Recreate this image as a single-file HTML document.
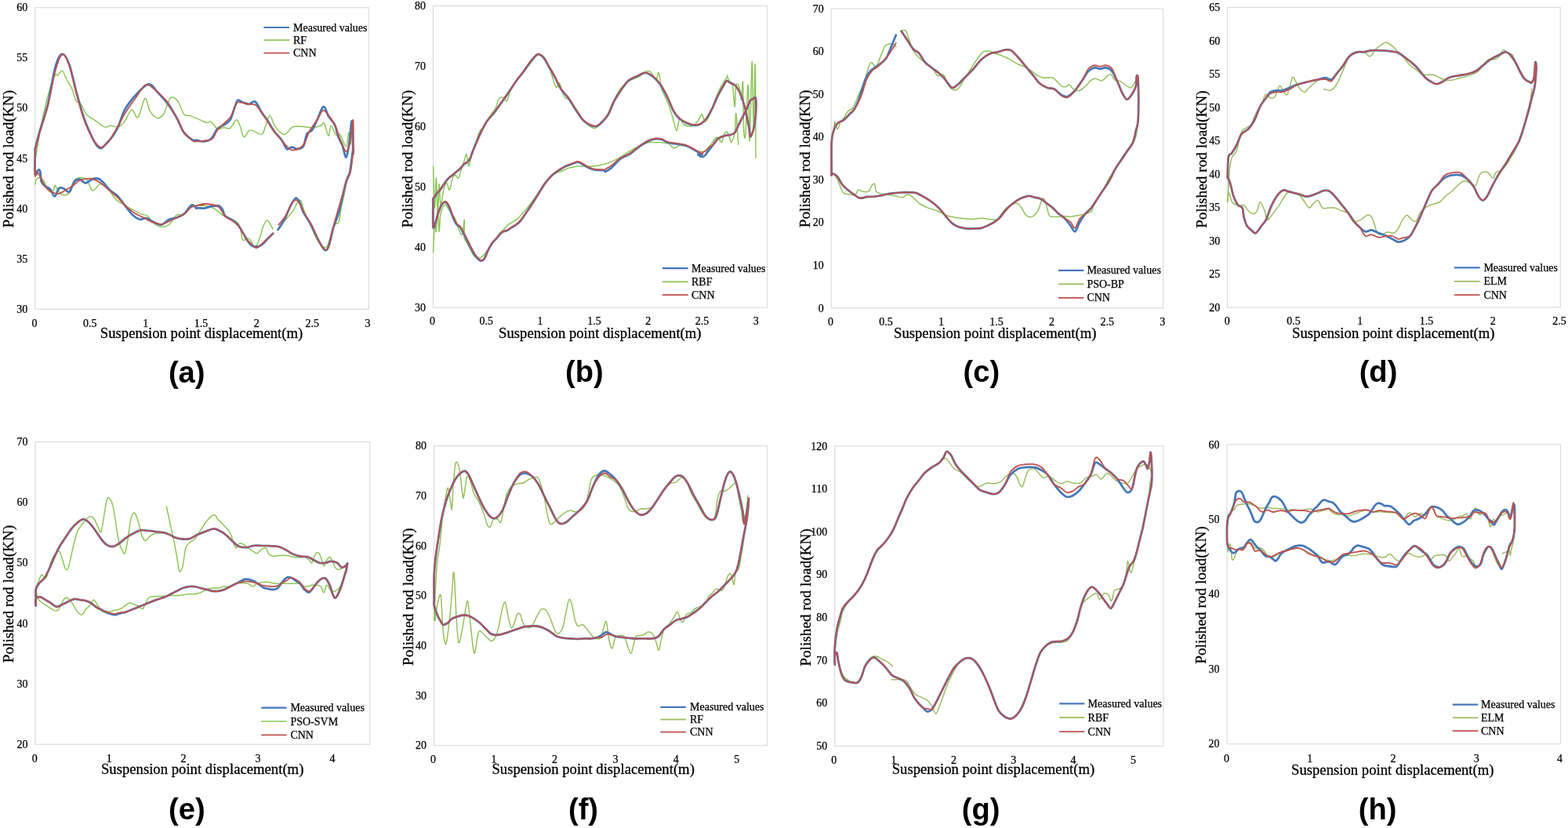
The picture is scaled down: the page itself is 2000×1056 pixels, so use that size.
<!DOCTYPE html>
<html><head><meta charset="utf-8"><title>Dynamometer card comparison</title>
<style>
html,body{margin:0;padding:0;background:#fff;width:2000px;height:1056px;overflow:hidden}
svg{display:block}
.t{font-family:"Liberation Serif","Times New Roman",serif;font-size:14px;fill:#000;stroke:#000;stroke-width:0.25px}
.lg{font-family:"Liberation Serif","Times New Roman",serif;font-size:14px;fill:#000;stroke:#000;stroke-width:0.25px}
.ax{font-family:"Liberation Serif","Times New Roman",serif;font-size:18.7px;fill:#000;stroke:#000;stroke-width:0.3px}
.ay{font-size:19.3px}
.lb{font-family:"Liberation Sans",Arial,sans-serif;font-size:36px;font-weight:bold;fill:#000}
</style></head><body>
<svg width="2000" height="1056" viewBox="0 0 2000 1056">
<rect width="2000" height="1056" fill="#fff"/>
<rect x="44.7" y="9.7" width="425.6" height="384.6" fill="none" stroke="#d9d9d9" stroke-width="1.1"/>
<text class="t" x="35.2" y="398.8" text-anchor="end">30</text>
<text class="t" x="35.2" y="334.7" text-anchor="end">35</text>
<text class="t" x="35.2" y="270.6" text-anchor="end">40</text>
<text class="t" x="35.2" y="206.5" text-anchor="end">45</text>
<text class="t" x="35.2" y="142.4" text-anchor="end">50</text>
<text class="t" x="35.2" y="78.3" text-anchor="end">55</text>
<text class="t" x="35.2" y="14.2" text-anchor="end">60</text>
<text class="t" x="44" y="416.7" text-anchor="middle">0</text>
<text class="t" x="114.8" y="416.7" text-anchor="middle">0.5</text>
<text class="t" x="185.7" y="416.7" text-anchor="middle">1</text>
<text class="t" x="256.5" y="416.7" text-anchor="middle">1.5</text>
<text class="t" x="327.3" y="416.7" text-anchor="middle">2</text>
<text class="t" x="398.2" y="416.7" text-anchor="middle">2.5</text>
<text class="t" x="469" y="416.7" text-anchor="middle">3</text>
<text class="ax" x="127.8" y="430.5">Suspension point displacement(m)</text>
<text class="ax ay" transform="translate(17.2 202.7) rotate(-90)" text-anchor="middle">Polished rod load(KN)</text>
<line x1="336.4" y1="35" x2="369.2" y2="35" stroke="#4678b8" stroke-width="2.2"/>
<text class="lg" x="374" y="39.6">Measured values</text>
<line x1="336.4" y1="51.2" x2="369.2" y2="51.2" stroke="#8cc656" stroke-width="1.7"/>
<text class="lg" x="374" y="55.8">RF</text>
<line x1="336.4" y1="67.6" x2="369.2" y2="67.6" stroke="#bf504c" stroke-width="1.7"/>
<text class="lg" x="374" y="72.2">CNN</text>
<text class="lb" transform="translate(238.2 487.5) scale(1.06 1.1)" text-anchor="middle">(a)</text>
<g fill="none" stroke-linejoin="round" stroke-linecap="round">
<path d="M44.8 204.5C46.4 195.4 51.3 165.3 54.5 149.8C57.7 134.2 61.5 120.1 64.1 111.2C66.8 102.2 69 98.4 70.6 95.9C72.2 93.3 72.3 96.8 73.8 95.9C75.3 94.9 77.6 89.3 79.4 90.2C81.3 91.2 83.1 97.7 85.1 101.5C87.1 105.3 89.5 108.2 91.5 112.8C93.5 117.3 95.3 125.6 97.1 128.9C99 132.1 100.5 129.1 102.8 132.1C105 135 107.9 143.1 110.8 146.6C113.8 150 116.7 150.5 120.5 153C124.2 155.5 129.9 160.6 133.3 161.9C136.8 163.1 138.4 160.2 141.4 160.2C144.3 160.2 148.1 162.8 151 161.9C154 160.9 156.3 158.2 159.1 154.6C161.9 151 165.1 140.9 167.9 140.1C170.8 139.3 173.2 152.2 176 149.8C178.8 147.4 182.3 127 184.8 125.6C187.4 124.3 188.6 137.6 191.3 141.7C194 145.9 198 150 200.9 150.6C203.9 151.1 206.8 148 209 145C211.1 141.9 212.2 135.6 213.8 132.1C215.4 128.6 216.5 124.6 218.6 124C220.8 123.5 224 125.2 226.7 128.9C229.4 132.5 232.3 142.7 234.7 145.8C237.1 148.8 238.6 146.6 241.2 147.4C243.7 148.2 246.4 149.1 250 150.6C253.6 152.1 259.7 155.4 262.9 156.2C266.1 157 266.9 154.1 269.3 155.4C271.7 156.8 274.7 163.1 277.4 164.3C280 165.5 282.7 162.8 285.4 162.7C288.1 162.5 290.8 165.1 293.5 163.5C296.1 161.9 299.4 153.4 301.5 153C303.6 152.6 304.7 157.4 306.3 161C307.9 164.7 309 173.9 311.2 174.7C313.3 175.5 315.4 166.4 319.2 165.9C323 165.3 330.5 172.3 333.7 171.5C336.9 170.7 336.8 165.1 338.5 161C340.3 157 342.3 147.6 344.1 147.4C346 147.1 347.8 156.1 349.8 159.4C351.8 162.8 353.9 165.5 356.2 167.5C358.5 169.5 360.8 172.3 363.5 171.5C366.1 170.7 369.8 164.4 372.3 162.7C374.9 160.9 375.8 161.2 378.7 161C381.7 160.9 386.8 161.6 390 161.9C393.2 162.1 394.8 162.9 398.1 162.7C401.3 162.4 406.8 161.2 409.3 160.2C411.9 159.3 411.7 154.9 413.4 157C415 159.2 417.5 172.6 419 173.1C420.5 173.7 420.6 160.4 422.2 160.2C423.8 160.1 426.8 170.4 428.6 172.3C430.5 174.2 431.3 169.1 433.5 171.5C435.6 173.9 439.6 187.2 441.5 186.8C443.4 186.4 443.8 169.6 444.7 169.1C445.7 168.6 446.5 185.7 447.1 183.6C447.8 181.4 448.5 160.8 448.8 156.2" stroke="#8cc656" stroke-width="1.5"/>
<path d="M443.1 223.8C442.5 227.8 440.4 241 439.1 247.9C437.8 254.9 436.3 259.7 435.1 265.6C433.9 271.5 433.5 279.6 431.9 283.3C430.2 287.1 427.8 283.1 425.4 288.2C423 293.3 420.1 309.9 417.4 313.9C414.7 317.9 411.7 314.2 409.3 312.3C406.9 310.4 405 306.7 402.9 302.7C400.7 298.6 398.9 293.5 396.5 288.2C394 282.8 390.6 275.8 388.4 270.5C386.3 265.1 385.2 257.9 383.6 256C382 254.1 380.4 257.1 378.7 259.2C377.1 261.3 376.3 265.4 373.9 268.9C371.5 272.3 367.4 276.5 364.3 280.1C361.2 283.7 356.9 288.8 355.4 290.6" stroke="#8cc656" stroke-width="1.5"/>
<path d="M348.2 292.2C347 290.3 343.1 281.3 340.9 280.9C338.8 280.5 336.8 286.4 335.3 289.8C333.8 293.1 333.7 296.9 332.1 301C330.5 305.2 328.1 314.2 325.6 314.7C323.2 315.3 320.3 305.7 317.6 304.3C314.9 302.8 311.4 308.3 309.5 305.9C307.7 303.5 307.7 293.7 306.3 289.8C305 285.9 305 285 301.5 282.5C298 280.1 290.2 278.1 285.4 275.3C280.6 272.5 276.3 267.8 272.5 265.6C268.8 263.5 266.6 263 262.9 262.4C259.1 261.9 250.5 262.6 250 262.4C249.5 262.3 260.9 261.3 260 261.6C259.1 261.9 248.6 262 244.4 264C240.2 266 237.7 272.1 234.7 273.7C231.8 275.3 228.8 273 226.7 273.7C224.5 274.4 223.5 275.8 221.9 277.7C220.2 279.6 218.9 283.1 217 285C215.2 286.8 213 288.4 210.6 289C208.2 289.6 205.2 289.4 202.5 288.5C199.9 287.6 196.9 285.5 194.5 283.3C192.1 281.1 190.5 277 188.1 275.3C185.6 273.6 183.2 274.2 180 272.9C176.8 271.5 172.5 269.3 168.7 267.2C165 265.2 161 263 157.5 260.8C154 258.7 150.8 257.3 147.8 254.4C144.9 251.4 142.2 246.1 139.8 243.1C137.4 240.2 135.5 238 133.3 236.7C131.2 235.3 129.5 234 126.9 235.1C124.4 236.1 120.7 244 118.1 243.1C115.4 242.2 113.4 232.2 110.8 229.4C108.3 226.7 105.4 226.6 102.8 226.7C100.1 226.8 96.9 227.2 94.7 230.2C92.6 233.2 91.8 241.6 89.9 244.7C88 247.8 85.3 248.2 83.5 248.7C81.6 249.3 80.5 249.4 78.6 247.9C76.7 246.5 73.7 241.8 72.2 239.9C70.7 238 70.6 235.9 69.8 236.7C69 237.5 68.8 243.8 67.4 244.7C65.9 245.7 62.8 244.6 60.9 242.3C59 240 57.7 233.6 56.1 231C54.5 228.5 52.9 227.4 51.3 227C49.7 226.6 47.5 227.3 46.4 228.6C45.4 230 45.1 234 44.8 235.1" stroke="#8cc656" stroke-width="1.5"/>
<path d="M44.8 190C45.6 186.8 47 180.1 49.7 170.7C52.3 161.3 57.4 147.9 60.9 133.7C64.4 119.5 67.5 96.2 70.6 85.4C73.7 74.6 76.5 69.5 79.4 69C82.4 68.5 85.2 73.8 88.3 82.2C91.4 90.6 94.5 106.9 97.9 119.2C101.4 131.5 104.6 144.8 109.2 156.2C113.8 167.6 120.7 183.3 125.3 187.6C129.9 191.9 132.5 185.9 136.6 182C140.6 178.1 145.7 171.2 149.4 164.3C153.2 157.3 155.1 147.4 159.1 140.1C163.1 132.9 168.5 126.3 173.6 120.8C178.7 115.3 185.1 107.7 189.7 107.1C194.2 106.6 196.9 113.4 200.9 117.6C205 121.8 209.8 126.7 213.8 132.1C217.8 137.4 221.6 143.6 225.1 149.8C228.6 156 231.2 164.3 234.7 169.1C238.2 173.9 243.5 177.1 246 178.7C248.5 180.4 247.7 178.5 250 178.7C252.3 179 256.4 180.6 259.7 180.4C262.9 180.1 266.4 179.8 269.3 177.1C272.3 174.5 274.7 167.2 277.4 164.3C280 161.3 282.7 161.3 285.4 159.4C288.1 157.6 291.3 156.2 293.5 153C295.6 149.8 296.7 144.3 298.3 140.1C299.9 136 301.2 129.7 303.1 128.1C305 126.4 307.1 129.7 309.5 130.5C312 131.3 314.9 133 317.6 132.9C320.3 132.7 323 127.9 325.6 129.7C328.3 131.4 331 139.2 333.7 143.3C336.4 147.5 339.1 150.6 341.7 154.6C344.4 158.6 346.8 163.5 349.8 167.5C352.7 171.5 356.8 175 359.4 178.7C362.1 182.5 363.7 188.5 365.9 190C368 191.5 370.2 187.6 372.3 187.6C374.5 187.6 376.3 190.1 378.7 190C381.2 189.9 384.7 190 386.8 186.8C388.9 183.6 389.7 174.2 391.6 170.7C393.5 167.2 395.9 168.8 398.1 165.9C400.2 162.9 402.1 158 404.5 153C406.9 148 410.1 136.9 412.5 136.1C415 135.3 416.6 144.3 419 148.2C421.4 152.1 424.9 154.9 427 159.4C429.2 164 430.2 171.2 431.9 175.5C433.5 179.8 435.1 181 436.7 185.2C438.3 189.3 440 201 441.5 200.5C443 199.9 444.3 189.6 445.5 182C446.7 174.3 448 152.5 448.8 154.6C449.6 156.8 450.1 188.9 450.4 194.8C450.6 200.7 451 186 450.4 190C449.7 194 447.8 212 446.3 219C444.9 225.9 443.1 226.5 441.5 231.8C439.9 237.2 438.3 244.5 436.7 251.2C435.1 257.9 433.7 265.6 431.9 272.1C430 278.5 427.6 282.7 425.4 289.8C423.3 296.9 420.9 309.9 419 314.7C417.1 319.6 416 319.7 414.2 318.7C412.3 317.8 409.9 312.8 407.7 309.1C405.6 305.3 403.4 300.5 401.3 296.2C399.1 291.9 397.3 287.6 394.8 283.3C392.4 279.1 388.9 274.8 386.8 270.5C384.7 266.2 383.6 260.5 382 257.6C380.4 254.6 379 252 377.1 252.8C375.3 253.6 373.1 257.9 370.7 262.4C368.3 267 365.3 275 362.7 280.1C360 285.2 356 290.9 354.6 293" stroke="#4678b8" stroke-width="2.8"/>
<path d="M348.2 297.8C347.1 298.9 344.1 301.9 341.7 304.3C339.3 306.7 336.1 310.6 333.7 312.3C331.3 314.1 329.4 314.6 327.2 314.7C325.1 314.9 322.7 314.3 320.8 313.1C318.9 311.9 317.9 310.3 316 307.5C314.1 304.7 311.7 299.7 309.5 296.2C307.4 292.7 305.5 289.2 303.1 286.6C300.7 283.9 297.7 282 295.1 280.1C292.4 278.2 288.9 277.4 287 275.3C285.1 273.2 285.1 269.4 283.8 267.2C282.5 265.1 281.4 263.1 279 262.4C276.6 261.8 272.5 262.7 269.3 263.2C266.1 263.8 262.9 265.4 259.7 265.6C256.4 265.9 251.5 264.8 250 264.8C248.5 264.8 251.8 266.2 250.8 265.6C249.9 265.1 247.1 260.4 244.4 261.6C241.7 262.8 238 270.2 234.7 272.9C231.5 275.6 228.3 276.5 225.1 277.7C221.9 278.9 218.6 278.6 215.4 280.1C212.2 281.6 209.3 286.2 205.8 286.6C202.3 287 197.7 283.9 194.5 282.5C191.3 281.1 189.1 278.6 186.5 278.2C183.8 277.7 181.4 280.6 178.4 279.8C175.5 279.1 172 276.7 168.7 273.7C165.5 270.7 162.3 265.6 159.1 261.6C155.9 257.6 152.7 252.8 149.4 249.5C146.2 246.3 142.7 245.1 139.8 242.3C136.8 239.5 134.1 235.1 131.7 232.6C129.3 230.2 127.7 228.5 125.3 227.8C122.9 227.1 119.9 227.7 117.2 228.6C114.6 229.6 111.9 233.5 109.2 233.5C106.5 233.5 103.6 228.9 101.2 228.6C98.7 228.4 96.9 229.2 94.7 231.8C92.6 234.5 90.4 243.2 88.3 244.7C86.1 246.2 84 241.5 81.8 240.7C79.7 239.9 77.4 238.3 75.4 239.9C73.4 241.5 71.7 250.1 69.8 250.4C67.9 250.6 66.2 243.6 64.1 241.5C62.1 239.4 59.6 239.1 57.7 237.5C55.8 235.9 53.9 234.9 52.9 231.8C51.8 228.8 51.9 221.5 51.3 219C50.6 216.4 49.9 216 48.9 216.6C47.8 217.1 45.5 226.6 44.8 222.2C44.2 217.8 44.8 195.4 44.8 190" stroke="#4678b8" stroke-width="2.8"/>
<path d="M44.8 191.6C45.6 188.4 47 181.7 49.7 172.3C52.3 162.9 57.4 149 60.9 135.3C64.4 121.6 67.5 101.2 70.6 90.2C73.7 79.2 76.5 70.4 79.4 69.3C82.4 68.2 85.2 75.2 88.3 83.8C91.4 92.4 94.5 108.5 97.9 120.8C101.4 133.2 104.6 147 109.2 157.8C113.8 168.7 120.7 181.8 125.3 186C129.9 190.1 132.5 186.7 136.6 182.8C140.6 178.9 145.7 169 149.4 162.7C153.2 156.4 155.1 151.4 159.1 145C163.1 138.5 169 130.2 173.6 124C178.1 117.9 181.9 109 186.5 107.9C191 106.9 196.4 113.8 200.9 117.6C205.5 121.3 209.8 125.1 213.8 130.5C217.8 135.8 221.6 143.3 225.1 149.8C228.6 156.2 231.2 164.1 234.7 169.1C238.2 174.1 243.5 177.7 246 179.6C248.5 181.4 247.7 180.4 250 180.4C252.3 180.4 256.2 180.1 259.7 179.6C263.1 179 268 179.4 270.9 177.1C273.9 174.9 273.6 170.4 277.4 165.9C281.1 161.3 290 154.1 293.5 149.8C296.9 145.5 296.7 143.3 298.3 140.1C299.9 136.9 299.9 131.7 303.1 130.5C306.3 129.3 313.8 132.3 317.6 132.9C321.3 133.4 323 131.9 325.6 133.7C328.3 135.4 329.7 137.7 333.7 143.3C337.7 149 345.5 161.6 349.8 167.5C354.1 173.4 356.8 175.5 359.4 178.7C362.1 182 363.5 184.7 365.9 186.8C368.3 188.9 370.4 191.9 373.9 191.6C377.4 191.4 383.3 189.2 386.8 185.2C390.3 181.2 391.9 172.8 394.8 167.5C397.8 162.1 401.5 157.4 404.5 153C407.5 148.6 409.6 141.2 412.5 140.9C415.5 140.7 419.5 147.8 422.2 151.4C424.9 155 426.8 158.4 428.6 162.7C430.5 166.9 431.3 172 433.5 177.1C435.6 182.2 439.4 192.4 441.5 193.2C443.7 194 444.9 188.7 446.3 182C447.8 175.3 449.6 151.4 450.4 153C451.1 154.6 450.8 184.9 450.8 191.6C450.8 198.3 451 188.7 450.4 193.2C449.8 197.8 448.5 212.8 447.1 219C445.8 225.1 444.1 225.1 442.3 230.2C440.6 235.3 438.4 243.6 436.7 249.5C434.9 255.4 433.7 259.2 431.9 265.6C430 272.1 427.6 280 425.4 288.2C423.3 296.4 421.1 309.9 419 314.7C416.8 319.6 415 319.2 412.5 317.1C410.1 315.1 406.9 307.5 404.5 302.7C402.1 297.8 400.7 293.3 398.1 288.2C395.4 283.1 391.1 276.9 388.4 272.1C385.7 267.2 383.8 262 382 259.2C380.1 256.4 378.7 255.2 377.1 255.2C375.5 255.2 374.5 255.9 372.3 259.2C370.2 262.6 367.1 270.7 364.3 275.3C361.4 279.9 356.9 284.7 355.4 286.6" stroke="#bf504c" stroke-width="1.8"/>
<path d="M348.2 297.8C346.3 299.6 340.4 305.2 336.9 308.3C333.4 311.4 330.2 316.1 327.2 316.3C324.3 316.6 321.6 312.2 319.2 309.9C316.8 307.6 315.4 306.5 312.8 302.7C310.1 298.8 307.4 291.1 303.1 286.6C298.8 282 291 279.1 287 275.3C283 271.5 283 266.6 279 264C274.9 261.5 267.7 260.3 262.9 260C258 259.7 250.5 262.3 250 262.4C249.5 262.6 260.9 260.5 260 260.8C259.1 261.1 248.3 262.2 244.4 264C240.4 265.9 239 270.1 236.3 272.1C233.7 274.1 231.5 274.5 228.3 276.1C225.1 277.7 220.8 280.1 217 281.7C213.3 283.4 209.5 285.8 205.8 286.1C202 286.3 198 284.6 194.5 283.3C191 282.1 188.6 280.4 184.8 278.5C181.1 276.6 176 274.6 172 272.1C167.9 269.5 164.2 266.4 160.7 263.2C157.2 260 154.5 256.1 151 252.8C147.6 249.4 143.5 246.3 139.8 243.1C136 239.9 132 235.9 128.5 233.5C125 231 121.8 229.2 118.9 228.3C115.9 227.4 113.8 227.5 110.8 227.8C107.9 228.1 104.1 228.8 101.2 230.2C98.2 231.7 95.8 234.8 93.1 236.7C90.4 238.5 88.3 239.8 85.1 241.5C81.8 243.2 78.1 247.4 73.8 247.1C69.5 246.9 63.1 243.5 59.3 239.9C55.6 236.3 53.4 229 51.3 225.4C49.1 221.8 47.5 218.4 46.4 218.2C45.4 217.9 45.1 228.5 44.8 223.8C44.6 219.1 44.8 195.6 44.8 190" stroke="#bf504c" stroke-width="1.8"/>
</g>
<rect x="552.5" y="7.5" width="426.2" height="384.7" fill="none" stroke="#d9d9d9" stroke-width="1.1"/>
<text class="t" x="543" y="396.7" text-anchor="end">30</text>
<text class="t" x="543" y="319.8" text-anchor="end">40</text>
<text class="t" x="543" y="242.8" text-anchor="end">50</text>
<text class="t" x="543" y="165.9" text-anchor="end">60</text>
<text class="t" x="543" y="88.9" text-anchor="end">70</text>
<text class="t" x="543" y="12" text-anchor="end">80</text>
<text class="t" x="551.5" y="414.2" text-anchor="middle">0</text>
<text class="t" x="620.3" y="414.2" text-anchor="middle">0.5</text>
<text class="t" x="689.1" y="414.2" text-anchor="middle">1</text>
<text class="t" x="757.9" y="414.2" text-anchor="middle">1.5</text>
<text class="t" x="826.7" y="414.2" text-anchor="middle">2</text>
<text class="t" x="895.5" y="414.2" text-anchor="middle">2.5</text>
<text class="t" x="964.3" y="414.2" text-anchor="middle">3</text>
<text class="ax" x="636.1" y="430.6">Suspension point displacement(m)</text>
<text class="ax ay" transform="translate(525.9 202.7) rotate(-90)" text-anchor="middle">Polished rod load(KN)</text>
<line x1="844.8" y1="342.2" x2="877.6" y2="342.2" stroke="#4678b8" stroke-width="2.2"/>
<text class="lg" x="882" y="346.8">Measured values</text>
<line x1="844.8" y1="359.4" x2="877.6" y2="359.4" stroke="#8cc656" stroke-width="1.7"/>
<text class="lg" x="882" y="364">RBF</text>
<line x1="844.8" y1="376.2" x2="877.6" y2="376.2" stroke="#bf504c" stroke-width="1.7"/>
<text class="lg" x="882" y="380.8">CNN</text>
<text class="lb" transform="translate(745.4 487) scale(1.06 1.1)" text-anchor="middle">(b)</text>
<g fill="none" stroke-linejoin="round" stroke-linecap="round">
<path d="M552.6 212C552.9 220.9 553.8 262.5 554.5 265.1C555.1 267.6 555.7 225.9 556.4 227.2C557 228.4 557.6 271.4 558.3 272.6C558.9 273.9 559.5 236.7 560.1 234.8C560.8 232.9 561.1 260 562 261.3C563 262.5 564.6 247.1 565.8 242.3C567.1 237.6 568.3 232.9 569.6 232.9C570.9 232.9 572.1 243.3 573.4 242.3C574.7 241.4 575.9 230.3 577.2 227.2C578.4 224 579.7 223.4 581 223.4C582.2 223.4 583.5 228.4 584.8 227.2C586 225.9 587.3 219.6 588.5 215.8C589.8 212 591.3 207.6 592.3 204.5C593.4 201.3 594 195.6 595 196.9C595.9 198.2 596.9 212 598 212C599.1 212 600.2 202.3 601.8 196.9C603.4 191.5 605.7 184.9 607.5 179.9C609.2 174.8 610.8 169.4 612.4 166.6C614 163.8 615.6 164.7 616.9 162.8C618.3 160.9 619.2 158.1 620.7 155.2C622.3 152.4 624.5 148.6 626.4 145.8C628.3 142.9 630.5 141.4 632.1 138.2C633.7 135 634.3 129.2 635.9 126.8C637.5 124.5 639.8 123.9 641.6 124.2C643.3 124.5 644.9 130.2 646.5 128.7C648.1 127.3 649 119.8 651 115.5C653 111.2 655.8 107 658.6 103C661.4 99 664.9 95.5 668.1 91.6C671.2 87.7 674.6 83.1 677.5 79.5C680.5 75.9 683.2 71.3 685.9 70C688.5 68.8 691 69.4 693.4 71.9C695.8 74.5 698.2 80.1 700.2 85.2C702.3 90.2 704.3 97.8 705.9 102.2C707.5 106.7 708.4 111.1 709.7 111.7C711 112.3 712.2 105.1 713.5 106C714.8 107 716 114.2 717.3 117.4C718.5 120.5 719.5 123.4 721.1 125C722.6 126.5 724.5 124.6 726.7 126.8C729 129.1 731.8 134.4 734.3 138.2C736.8 142 739.4 146.1 741.9 149.6C744.4 153 746.6 156.7 749.5 159C752.3 161.4 756.1 163.9 758.9 163.6C761.8 163.3 764 159.8 766.5 157.1C769 154.5 771.6 152.1 774.1 147.7C776.6 143.3 778.8 136.3 781.7 130.6C784.5 125 787.6 118.2 791.1 113.6C794.6 109 798.7 105.5 802.5 103C806.3 100.5 810.1 100.5 813.8 98.4C817.6 96.4 822.4 91.8 825.2 90.9C828 89.9 829 90.9 830.9 92.8C832.8 94.7 835 102.2 836.6 102.2C838.1 102.2 839.1 90.9 840.3 92.8C841.6 94.7 842.2 107.3 844.1 113.6C846 119.9 849.5 125 851.7 130.6C853.9 136.3 855.5 141.7 857.4 147.7C859.3 153.7 861.5 166 863.1 166.6C864.6 167.2 865.3 152.7 866.8 151.5C868.4 150.2 870 157.5 872.5 159C875.1 160.6 879.2 161.6 882 160.9C884.8 160.3 887.4 157.8 889.6 155.2C891.8 152.7 893.7 145.8 895.2 145.8C896.8 145.8 897.5 154.9 899 155.2C900.6 155.6 902.5 152.4 904.7 147.7C906.9 142.9 909.8 133.2 912.3 126.8C914.8 120.5 917.3 114.5 919.9 109.8C922.4 105.1 926.2 100.7 927.4 98.4C928.7 96.2 927 95.7 927.4 96.4C927.8 97 928.6 100.4 929.7 102.4C930.8 104.4 933.2 104.9 934.2 108.5C935.3 112 935.3 119.1 935.8 123.6C936.3 128.2 936.8 138 937.3 135.8C937.8 133.5 938 114.5 938.8 110C939.5 105.5 940.9 107.2 941.8 108.5C942.7 109.7 943.5 114.5 944.1 117.6C944.7 120.6 945 128.8 945.6 126.7C946.2 124.5 947.1 98.4 947.6 104.7C948.1 111 948.1 153.4 948.6 164.5C949.2 175.7 950 180.7 950.9 171.4C951.8 162 953.4 107.1 954.2 108.5C955.1 109.9 955.4 184.6 956.2 179.7C957 174.8 958.4 81.7 959.2 78.9C960.1 76.2 960.5 162.5 961.2 163C961.9 163.5 962.9 75.7 963.3 82C963.8 88.3 963.8 181.1 963.9 200.9" stroke="#8cc656" stroke-width="1.5"/>
<path d="M941.8 184.2C941.3 177.7 939.5 147.4 938.8 144.8C938 142.3 938.3 163 937.3 169.1C936.3 175.2 934 180.7 932.7 181.2C931.5 181.7 931 174.3 929.7 172.1C928.4 170 926.7 166.8 925.2 168.3C923.6 169.8 922 179.8 920.6 181.2C919.2 182.6 918 177.7 916.8 176.7C915.7 175.7 914.9 174.6 913.8 175.2C912.7 175.7 911.1 178.2 910 179.7C908.9 181.2 907.7 183.2 907 184.2C906.2 185.3 906.3 184.7 905.5 185.8C904.6 186.8 902.9 189 901.7 190.3C900.4 191.6 899.8 192.8 897.9 193.3C896 193.8 890.7 192.7 890.3 193.3C889.9 193.9 897.3 197.9 895.2 196.9C893.2 195.9 882.9 189.3 878.2 187.4C873.5 185.5 870 185.2 866.8 185.5C863.7 185.9 861.5 189.6 859.3 189.3C857.1 189 856.1 184.9 853.6 183.6C851.1 182.4 847 182.1 844.1 181.7C841.3 181.4 839.4 181.7 836.6 181.7C833.7 181.7 830.2 181.1 827.1 181.7C823.9 182.4 821.7 183.6 817.6 185.5C813.5 187.4 806.9 190.6 802.5 193.1C798.1 195.6 794.9 198.5 791.1 200.7C787.3 202.9 783.5 204.8 779.8 206.4C776 207.9 772.2 209.2 768.4 210.1C764.6 211.1 760.8 211.7 757 212C753.3 212.4 748.8 212 745.7 212C742.5 212 741.3 211.7 738.1 212C735 212.4 730.2 213 726.7 213.9C723.3 214.9 720.4 216.5 717.3 217.7C714.1 219 710.7 219.9 707.8 221.5C705 223.1 702.8 224.7 700.2 227.2C697.7 229.7 695.2 233.2 692.7 236.7C690.1 240.1 687.9 243.9 685.1 248C682.3 252.1 678.8 257.2 675.6 261.3C672.5 265.4 669 269.5 666.2 272.6C663.3 275.8 661.4 278 658.6 280.2C655.8 282.4 651.7 284 649.1 285.9C646.6 287.8 645.7 289.3 643.4 291.6C641.2 293.8 638.4 296 635.9 299.1C633.4 302.3 630.5 307.3 628.3 310.5C626.1 313.6 624.5 315.5 622.6 318.1C620.7 320.6 618.8 323.7 616.9 325.6C615 327.5 613.2 329.1 611.3 329.4C609.4 329.7 607.2 328.8 605.6 327.5C604 326.3 603.4 324.7 601.8 321.8C600.2 319 597.7 313.6 596.1 310.5C594.5 307.3 593 308 592.3 302.9C591.7 297.9 592.8 280.8 592.3 280.2C591.9 279.6 590.9 297.2 589.7 299.1C588.4 301 586.2 294.7 584.8 291.6C583.3 288.4 581.9 282.7 581 280.2C580 277.7 580.3 278.3 579.1 276.4C577.8 274.5 575.3 271.4 573.4 268.8C571.5 266.3 569.6 260.6 567.7 261.3C565.8 261.9 563.3 266.9 562 272.6C560.8 278.3 560.8 296.6 560.1 295.3C559.5 294.1 558.9 265.1 558.3 265.1C557.6 265.1 557 292.2 556.4 295.3C555.7 298.5 555.1 279.6 554.5 284C553.8 288.4 552.9 315.5 552.6 321.8" stroke="#8cc656" stroke-width="1.5"/>
<path d="M552.4 260.1C552.4 259.1 552 255.3 552.4 253.7C552.8 252.1 553.9 251.8 554.8 250.5C555.8 249.1 557 247 558 245.6C559.1 244.3 560.2 243.8 561.3 242.4C562.3 241.1 563.4 239.2 564.5 237.6C565.6 236 566.4 234.5 567.7 232.8C569 231 570.9 228.7 572.5 227.1C574.1 225.5 575.7 224.5 577.4 223.1C579 221.8 580.6 220.4 582.2 219.1C583.8 217.7 585.4 216.7 587 215.1C588.6 213.5 590.2 210.9 591.8 209.4C593.5 208 595.3 207.6 596.7 206.2C598 204.9 598.8 203.7 599.9 201.4C601 199.1 601.8 195.9 603.1 192.5C604.5 189.2 606.3 185 607.9 181.3C609.5 177.5 610.6 174.3 612.8 170C614.9 165.7 617.8 159.6 620.7 155.2C623.6 150.9 627 148 630.2 143.9C633.4 139.8 636.5 135 639.7 130.6C642.8 126.2 646 122 649.1 117.4C652.3 112.8 655.4 107.4 658.6 103C661.7 98.6 664.9 95.1 668.1 90.9C671.2 86.6 674.6 81.2 677.5 77.6C680.5 74 683.2 69.9 685.9 69.3C688.5 68.7 691 71.2 693.4 73.8C695.8 76.5 697.8 81.1 700.2 85.2C702.6 89.3 705.3 93.7 707.8 98.4C710.3 103.2 712.6 109.2 715.4 113.6C718.2 118 721.7 120.5 724.9 125C728 129.4 731.2 135.4 734.3 140.1C737.5 144.8 740.6 150.1 743.8 153.4C746.9 156.6 750.4 158.5 753.3 159.8C756.1 161.1 758.3 161.7 760.8 160.9C763.4 160.2 765.9 157.8 768.4 155.2C770.9 152.7 773.4 150.2 776 145.8C778.5 141.4 780.7 134.1 783.5 128.7C786.4 123.4 789.9 118 793 113.6C796.2 109.2 799 105.1 802.5 102.2C805.9 99.4 810.4 98.1 813.8 96.6C817.3 95 820.1 92.6 823.3 92.8C826.5 93 829.6 95.2 832.8 97.7C835.9 100.2 839.1 103.4 842.2 107.9C845.4 112.5 848.9 119.3 851.7 125C854.5 130.6 856.8 137.6 859.3 142C861.8 146.4 864 148.9 866.8 151.5C869.7 154 873.2 155.7 876.3 157.1C879.5 158.5 882.9 159.6 885.8 159.8C888.6 160 890.8 159.7 893.4 158.3C895.9 156.9 898.4 154.8 900.9 151.5C903.5 148.1 906 143.3 908.5 138.2C911 133.2 913.5 126.2 916.1 121.2C918.6 116.1 921.9 110.9 923.6 107.9C925.4 104.9 925.4 103.6 926.7 103.2C927.9 102.8 929.4 104.6 931.2 105.5C933 106.3 935.5 107 937.3 108.5C939 110 940.6 112.5 941.8 114.5C943.1 116.6 943.8 118.1 944.8 120.6C945.9 123.1 946.9 126.4 947.9 129.7C948.9 133 950 136.5 950.9 140.3C951.8 144.1 952.4 148.6 953.2 152.4C953.9 156.2 954.8 159.4 955.5 163C956.1 166.7 956.1 173.9 957 174.4C957.9 174.9 959.7 169.5 960.8 166.1C961.8 162.7 962.4 158 963 153.9C963.6 149.9 964.1 146.6 964.2 141.8C964.4 137 964.5 127.7 963.8 125.2C963.1 122.6 961.1 125.9 960 126.4C958.9 126.9 958.2 126.1 957 128.2C955.7 130.3 953.9 135.5 952.4 138.8C950.9 142.1 949.6 144.3 947.9 147.9C946.1 151.4 943.6 156.5 941.8 160C940.1 163.5 939 167.1 937.3 169.1C935.5 171.1 933.2 171.5 931.2 172.1C929.2 172.8 927.7 172.1 925.2 172.9C922.6 173.6 918.6 174.8 916.1 176.7C913.5 178.6 912 181.7 910 184.2C908 186.8 905.7 189.5 903.9 191.8C902.2 194.1 900.8 196.5 899.4 197.9C898 199.3 897.1 200.3 895.6 200.2C894.1 200 890.4 197.7 890.3 197.1C890.2 196.6 896 197.9 895.2 196.9C894.5 195.9 889.3 193.1 885.8 191.2C882.3 189.3 878.2 186.8 874.4 185.5C870.6 184.3 866.8 184.3 863.1 183.6C859.3 183 854.9 182.7 851.7 181.7C848.5 180.8 846.7 178.7 844.1 178C841.6 177.2 839.4 176.9 836.6 177.2C833.7 177.5 830.2 178.5 827.1 179.9C823.9 181.2 820.5 183.6 817.6 185.5C814.8 187.4 812.6 189.3 810.1 191.2C807.5 193.1 805.6 195 802.5 196.9C799.3 198.8 794.9 199.7 791.1 202.6C787.3 205.5 782.9 211.6 779.8 214.3C776.6 217 773.8 218.4 772.2 218.9C770.6 219.3 772.2 217.5 770 217.2C767.8 216.8 762.4 217.2 759.2 216.7C756.1 216.2 753.9 215.5 751.2 214.3C748.5 213.1 745.5 210.7 743.1 209.4C740.7 208.2 739.1 206.7 736.7 206.7C734.3 206.7 731.3 208.4 728.6 209.4C726 210.4 723.5 211.2 720.6 212.6C717.6 214.1 713.9 216.3 710.9 218.3C708 220.3 705.6 222 702.9 224.7C700.2 227.4 697.5 230.6 694.8 234.4C692.2 238.1 689.5 243 686.8 247.2C684.1 251.5 681.2 256.4 678.7 260.1C676.3 263.9 674.7 266.3 672.3 269.8C669.9 273.3 666.4 278.4 664.3 281C662.1 283.7 661.3 284.4 659.4 285.9C657.6 287.4 655.1 288.6 653 289.9C650.9 291.2 648.7 292.8 646.6 293.9C644.4 295 642.3 294.7 640.1 296.3C638 297.9 635.8 301.2 633.7 303.6C631.5 306 629.1 308.1 627.2 310.8C625.4 313.5 624 316.5 622.4 319.7C620.8 322.9 619.2 328 617.6 330.1C616 332.3 614.6 333.2 612.8 332.5C610.9 331.9 608.2 328.5 606.3 326.1C604.5 323.7 603.1 321 601.5 318.1C599.9 315.1 598.3 311.6 596.7 308.4C595.1 305.2 593.5 301.8 591.8 298.7C590.2 295.7 588.6 292 587 289.9C585.4 287.8 583.8 288.2 582.2 285.9C580.6 283.6 578.8 279.7 577.4 276.2C575.9 272.7 574.7 267.9 573.3 265C572 262 570.5 259.6 569.3 258.5C568.1 257.4 567.3 257.4 566.1 258.2C564.9 259 563.4 260.6 562.1 263.3C560.7 266.1 559.3 270.9 558 274.6C556.8 278.4 555.8 283.5 554.8 285.9C553.9 288.3 552.8 293.4 552.4 289.1C552 284.8 552.4 265 552.4 260.1" stroke="#4678b8" stroke-width="2.8"/>
<path d="M552.7 259.6C552.7 258.6 552.3 254.8 552.7 253.2C553.1 251.6 554.2 251.3 555.1 250C556.1 248.6 557.3 246.5 558.4 245.2C559.4 243.8 560.5 243.3 561.6 241.9C562.7 240.6 563.7 238.7 564.8 237.1C565.9 235.5 566.7 234 568 232.3C569.4 230.5 571.2 228.3 572.9 226.6C574.5 225 576.1 224 577.7 222.6C579.3 221.3 580.9 219.9 582.5 218.6C584.1 217.3 585.7 216.2 587.3 214.6C588.9 213 590.6 210.4 592.2 208.9C593.8 207.5 595.7 207.1 597 205.7C598.3 204.4 599.1 203.2 600.2 200.9C601.3 198.6 602.1 195.4 603.4 192C604.8 188.7 606.6 184.5 608.3 180.8C609.9 177 611 173.8 613.1 169.5C615.2 165.2 618 159.2 620.9 154.9C623.8 150.5 627.2 147.6 630.4 143.5C633.5 139.4 636.7 134.7 639.9 130.3C643 125.8 646.2 121.6 649.3 117C652.5 112.4 655.6 107 658.8 102.6C661.9 98.2 665.1 94.7 668.2 90.5C671.4 86.3 674.7 80.8 677.7 77.2C680.7 73.6 683.4 69.5 686 68.9C688.7 68.3 691.2 70.8 693.6 73.5C696 76.1 698 80.7 700.4 84.8C702.8 88.9 705.5 93.3 708 98.1C710.5 102.8 712.7 108.8 715.6 113.2C718.4 117.6 721.9 120.2 725 124.6C728.2 129 731.4 135 734.5 139.7C737.7 144.5 740.8 149.7 744 153C747.1 156.3 750.6 158.1 753.4 159.4C756.3 160.7 758.5 161.3 761 160.5C763.5 159.8 766.1 157.4 768.6 154.9C771.1 152.3 773.6 149.8 776.2 145.4C778.7 141 780.9 133.7 783.7 128.4C786.6 123 790 117.6 793.2 113.2C796.4 108.8 799.2 104.7 802.7 101.9C806.1 99 810.6 97.8 814 96.2C817.5 94.6 820.3 92.2 823.5 92.4C826.6 92.6 829.8 94.8 833 97.3C836.1 99.8 839.3 103 842.4 107.5C845.6 112.1 849.1 118.9 851.9 124.6C854.7 130.3 856.9 137.2 859.5 141.6C862 146 864.2 148.6 867 151.1C869.9 153.6 873.3 155.4 876.5 156.8C879.7 158.1 883.1 159.2 886 159.4C888.8 159.6 891 159.3 893.5 157.9C896.1 156.5 898.6 154.4 901.1 151.1C903.6 147.7 906.2 142.9 908.7 137.8C911.2 132.8 913.7 125.8 916.3 120.8C918.8 115.7 922.1 110.5 923.8 107.5C925.6 104.6 925.4 103.5 926.7 103.2C927.9 102.8 929.4 104.6 931.2 105.5C933 106.3 935.5 107 937.3 108.5C939 110 940.6 112.5 941.8 114.5C943.1 116.6 943.8 118.1 944.8 120.6C945.9 123.1 946.9 126.4 947.9 129.7C948.9 133 950 136.5 950.9 140.3C951.8 144.1 952.4 148.6 953.2 152.4C953.9 156.2 954.8 159.4 955.5 163C956.1 166.7 956.1 173.9 957 174.4C957.9 174.9 959.7 169.5 960.8 166.1C961.8 162.7 962.4 158 963 153.9C963.6 149.9 964.1 146.6 964.2 141.8C964.4 137 964.5 127.7 963.8 125.2C963.1 122.6 961.1 125.9 960 126.4C958.9 126.9 958.2 126.1 957 128.2C955.7 130.3 953.9 135.5 952.4 138.8C950.9 142.1 949.6 144.3 947.9 147.9C946.1 151.4 943.6 156.5 941.8 160C940.1 163.5 939 167.1 937.3 169.1C935.5 171.1 933.2 171.5 931.2 172.1C929.2 172.8 927.7 172.1 925.2 172.9C922.6 173.6 918.6 174.8 916.1 176.7C913.5 178.6 911.8 182.5 910 184.2C908.2 186 907 186 905.5 187.3C903.9 188.5 902.4 190.6 900.9 191.8C899.4 193.1 897.3 194.1 896.4 194.8C895.4 195.6 897 196.9 895.2 196.1C893.5 195.4 889.3 192.4 885.8 190.5C882.3 188.6 878.2 186 874.4 184.8C870.6 183.5 866.8 183.5 863.1 182.9C859.3 182.3 854.9 181.9 851.7 181C848.5 180 846.7 178 844.1 177.2C841.6 176.4 839.4 176.1 836.6 176.4C833.7 176.8 830.2 177.7 827.1 179.1C823.9 180.5 820.5 182.9 817.6 184.8C814.8 186.7 812.6 188.6 810.1 190.5C807.5 192.4 805.6 194.2 802.5 196.1C799.3 198 794.9 199.3 791.1 201.8C787.3 204.3 782.9 208.9 779.8 211.3C776.6 213.6 773.7 215 772.2 215.8C770.6 216.7 772.6 216.5 770.5 216.5C768.4 216.5 762.8 216.5 759.7 216C756.6 215.5 754.3 214.8 751.7 213.6C749 212.4 746 210 743.6 208.8C741.2 207.5 739.6 206 737.2 206C734.8 206 731.8 207.8 729.1 208.8C726.4 209.8 724 210.5 721.1 212C718.1 213.5 714.4 215.6 711.4 217.6C708.5 219.6 706.1 221.4 703.4 224.1C700.7 226.8 698 230 695.3 233.7C692.6 237.5 690 242.3 687.3 246.6C684.6 250.9 681.6 255.7 679.2 259.5C676.8 263.2 675.2 265.7 672.8 269.1C670.4 272.6 666.9 277.7 664.7 280.4C662.6 283.1 661.8 283.8 659.9 285.2C658 286.7 655.6 287.9 653.5 289.3C651.3 290.6 649.2 292.2 647 293.3C644.9 294.4 642.8 294.1 640.6 295.7C638.5 297.3 636.3 300.5 634.2 302.9C632 305.3 629.6 307.5 627.7 310.2C625.9 312.9 624.5 315.8 622.9 319C621.3 322.2 619.7 327.3 618.1 329.5C616.5 331.6 615.1 332.6 613.2 331.9C611.4 331.2 608.7 327.9 606.8 325.5C604.9 323.1 603.6 320.4 602 317.4C600.4 314.5 598.8 311 597.2 307.8C595.5 304.5 593.9 301.2 592.3 298.1C590.7 295 589.1 291.4 587.5 289.3C585.9 287.1 584.3 287.5 582.7 285.2C581.1 283 579.3 279.1 577.8 275.6C576.4 272.1 575.2 267.3 573.8 264.3C572.5 261.4 571 259 569.8 257.9C568.6 256.7 567.8 256.7 566.6 257.5C565.4 258.4 563.9 260 562.6 262.7C561.2 265.4 559.7 270.2 558.5 274C557.3 277.7 556.2 282.8 555.3 285.2C554.4 287.6 553.3 292.7 552.9 288.4C552.5 284.2 552.9 264.3 552.9 259.5" stroke="#bf504c" stroke-width="1.8"/>
</g>
<rect x="1060.3" y="11.3" width="423.4" height="381.7" fill="none" stroke="#d9d9d9" stroke-width="1.1"/>
<text class="t" x="1050.8" y="397.5" text-anchor="end">0</text>
<text class="t" x="1050.8" y="343" text-anchor="end">10</text>
<text class="t" x="1050.8" y="288.4" text-anchor="end">20</text>
<text class="t" x="1050.8" y="233.9" text-anchor="end">30</text>
<text class="t" x="1050.8" y="179.4" text-anchor="end">40</text>
<text class="t" x="1050.8" y="124.9" text-anchor="end">50</text>
<text class="t" x="1050.8" y="70.3" text-anchor="end">60</text>
<text class="t" x="1050.8" y="15.8" text-anchor="end">70</text>
<text class="t" x="1059.5" y="415.3" text-anchor="middle">0</text>
<text class="t" x="1130" y="415.3" text-anchor="middle">0.5</text>
<text class="t" x="1200.6" y="415.3" text-anchor="middle">1</text>
<text class="t" x="1271.1" y="415.3" text-anchor="middle">1.5</text>
<text class="t" x="1341.6" y="415.3" text-anchor="middle">2</text>
<text class="t" x="1412.2" y="415.3" text-anchor="middle">2.5</text>
<text class="t" x="1482.7" y="415.3" text-anchor="middle">3</text>
<text class="ax" x="1140" y="430.6">Suspension point displacement(m)</text>
<text class="ax ay" transform="translate(1032.8 202.5) rotate(-90)" text-anchor="middle">Polished rod load(KN)</text>
<line x1="1350" y1="344.8" x2="1382.4" y2="344.8" stroke="#4678b8" stroke-width="2.2"/>
<text class="lg" x="1386.4" y="349.4">Measured values</text>
<line x1="1350" y1="362.4" x2="1382.4" y2="362.4" stroke="#92c15a" stroke-width="1.7"/>
<text class="lg" x="1386.4" y="367">PSO-BP</text>
<line x1="1350" y1="379.8" x2="1382.4" y2="379.8" stroke="#bf504c" stroke-width="1.7"/>
<text class="lg" x="1386.4" y="384.4">CNN</text>
<text class="lb" transform="translate(1251.9 487) scale(1.06 1.1)" text-anchor="middle">(c)</text>
<g fill="none" stroke-linejoin="round" stroke-linecap="round">
<path d="M1064.5 166.6C1064.5 164.7 1063.8 155.6 1064.5 155.2C1065.1 154.9 1067 164.7 1068.3 164.7C1069.5 164.7 1070.8 157.5 1072 155.2C1073.3 153 1074.2 153.7 1075.8 151.5C1077.4 149.2 1079.6 144.2 1081.5 142C1083.4 139.8 1085.3 140.7 1087.2 138.2C1089.1 135.7 1091.3 130.3 1092.9 126.8C1094.4 123.4 1095.1 121.2 1096.7 117.4C1098.2 113.6 1100.4 109.5 1102.3 104.1C1104.2 98.8 1106.4 89.3 1108 85.2C1109.6 81.1 1110.2 79.5 1111.8 79.5C1113.4 79.5 1115.6 86.5 1117.5 85.2C1119.4 83.9 1121.3 76.4 1123.2 71.9C1125 67.5 1126.9 61.3 1128.8 58.7C1130.7 56 1132.6 56.4 1134.5 56C1136.4 55.7 1138.8 56.2 1140.2 56.8C1141.6 57.4 1142.4 59.3 1142.8 59.8" stroke="#92c15a" stroke-width="1.5"/>
<path d="M1149.7 39.8C1150.6 39.6 1153.8 37.4 1155.3 39C1156.9 40.6 1157.5 45 1159.1 49.2C1160.7 53.5 1162.6 60.3 1164.8 64.4C1167 68.5 1169.5 71 1172.4 73.8C1175.2 76.7 1179 79.2 1181.8 81.4C1184.7 83.6 1187.1 84.6 1189.4 87.1C1191.8 89.6 1194 95.3 1195.9 96.6C1197.7 97.8 1199.3 94.7 1200.8 94.7C1202.2 94.7 1203.3 94.7 1204.6 96.6C1205.8 98.4 1206.8 103.2 1208.4 106C1209.9 108.9 1211.8 112.3 1214 113.6C1216.2 114.9 1219.1 115.5 1221.6 113.6C1224.1 111.7 1226.3 106.7 1229.2 102.2C1232 97.8 1235.8 91.5 1238.6 87.1C1241.5 82.7 1243.7 79.2 1246.2 75.7C1248.7 72.3 1251.3 68 1253.8 66.3C1256.3 64.5 1258.8 64.8 1261.4 65.1C1263.9 65.4 1266.1 67.1 1268.9 68.2C1271.8 69.2 1275.2 69.9 1278.4 71.2C1281.6 72.4 1284.7 74 1287.9 75.7C1291 77.4 1294.2 79.8 1297.3 81.4C1300.5 83 1303.6 83.6 1306.8 85.2C1310 86.8 1313.4 89 1316.3 90.9C1319.1 92.8 1321.3 95.2 1323.8 96.6C1326.4 97.9 1328.3 98.8 1331.4 99.2C1334.6 99.6 1339.9 98.4 1342.8 99.2C1345.6 100 1346.6 102.4 1348.4 104.1C1350.3 105.9 1352.2 108.7 1354.1 109.8C1356 110.9 1358.2 110.9 1359.8 110.6C1361.4 110.2 1362 107.4 1363.6 107.9C1365.2 108.4 1367.1 112.3 1369.3 113.6C1371.5 114.9 1374.3 116.1 1376.8 115.5C1379.4 114.9 1381.9 112 1384.4 109.8C1386.9 107.6 1389.8 103.8 1392 102.2C1394.2 100.7 1395.5 100.2 1397.7 100.3C1399.9 100.5 1403 103.3 1405.2 103C1407.5 102.7 1409 99.8 1410.9 98.4C1412.8 97.1 1414.7 94 1416.6 94.7C1418.5 95.3 1420.1 100.7 1422.3 102.2C1424.5 103.8 1427.3 102.9 1429.9 104.1C1432.4 105.4 1435.2 108.5 1437.4 109.8C1439.6 111.1 1441.2 113 1443.1 111.7C1445 110.4 1447.5 104.4 1448.8 102.2C1450.1 100 1450.4 99.1 1450.7 98.4" stroke="#92c15a" stroke-width="1.5"/>
<path d="M1450.7 159C1450.4 161.6 1450.4 169.1 1448.8 174.2C1447.2 179.2 1443.7 185.5 1441.2 189.3C1438.7 193.1 1435.9 194.1 1433.6 196.9C1431.4 199.7 1430.2 202.6 1428 206.4C1425.8 210.1 1422.6 216.1 1420.4 219.6C1418.2 223.1 1416.9 223.4 1414.7 227.2C1412.5 231 1409.7 237.9 1407.1 242.3C1404.6 246.7 1401.8 249.9 1399.6 253.7C1397.4 257.5 1395.1 262.4 1393.9 265.1C1392.6 267.7 1393.6 268.3 1392 269.6C1390.4 270.9 1386.9 271.8 1384.4 272.6C1381.9 273.4 1380 273.9 1376.8 274.5C1373.7 275.1 1368.6 276.2 1365.5 276.4C1362.3 276.6 1360.4 275.7 1357.9 275.7C1355.4 275.7 1352.9 276.3 1350.3 276.4C1347.8 276.5 1344.8 276.7 1342.8 276.4C1340.8 276.1 1339.8 277.7 1338.2 274.5C1336.6 271.4 1334.8 260.9 1333.3 257.5C1331.9 254 1331.1 251.8 1329.5 253.7C1327.9 255.6 1326 265.1 1323.8 268.8C1321.6 272.6 1318.8 275.5 1316.3 276.4C1313.7 277.4 1310.9 276.4 1308.7 274.5C1306.5 272.6 1304.9 267.6 1303 265.1C1301.1 262.5 1299.5 260 1297.3 259.4C1295.1 258.7 1292.3 260 1289.8 261.3C1287.2 262.5 1284.7 264.4 1282.2 266.9C1279.7 269.5 1276.5 274.2 1274.6 276.4C1272.7 278.6 1273 279.7 1270.8 280.2C1268.6 280.7 1264.5 279.8 1261.4 279.4C1258.2 279.1 1255.4 278.3 1251.9 278.3C1248.4 278.3 1244.3 279.4 1240.5 279.4C1236.7 279.5 1233 279.1 1229.2 278.7C1225.4 278.3 1221.6 277.9 1217.8 277.2C1214 276.5 1210.2 275.9 1206.5 274.5C1202.7 273.1 1198.9 270.4 1195.1 268.8C1191.3 267.3 1187.5 266.6 1183.7 265.1C1180 263.5 1175.5 261.6 1172.4 259.4C1169.2 257.2 1167.3 253.7 1164.8 251.8C1162.3 249.9 1159.4 248 1157.2 248C1155 248 1154.1 251.5 1151.6 251.8C1149 252.1 1145.6 250.5 1142.1 249.9C1138.6 249.3 1133.9 248.5 1130.7 248C1127.6 247.5 1125.4 247.5 1123.2 246.9C1120.9 246.2 1118.7 246.2 1117.5 244.2C1116.2 242.2 1116.5 236 1115.6 234.8C1114.6 233.5 1113.1 235.1 1111.8 236.7C1110.5 238.2 1109.9 243 1108 244.2C1106.1 245.5 1102.6 244.5 1100.4 244.2C1098.2 243.9 1096.3 241.7 1094.8 242.3C1093.2 243 1092.9 247.1 1091 248C1089.1 249 1085.9 248.3 1083.4 248C1080.9 247.7 1077.7 247.7 1075.8 246.1C1073.9 244.5 1073.3 241.4 1072 238.5C1070.8 235.7 1069.5 231.6 1068.3 229.1C1067 226.6 1065.7 225 1064.5 223.4C1063.2 221.8 1061.3 220.2 1060.7 219.6" stroke="#92c15a" stroke-width="1.5"/>
<path d="M1060.7 223.4C1060.7 216.5 1060.2 191.2 1060.7 181.7C1061.1 172.3 1062.1 170.7 1063.3 166.6C1064.6 162.5 1066.2 159.3 1068.3 157.1C1070.3 154.9 1073.3 155.2 1075.8 153.4C1078.3 151.5 1081.2 148 1083.4 145.8C1085.6 143.6 1087.2 142.9 1089.1 140.1C1091 137.3 1093.2 132.5 1094.8 128.7C1096.3 125 1097 122.1 1098.5 117.4C1100.1 112.6 1102.3 104.8 1104.2 100.3C1106.1 95.9 1107.7 93.4 1109.9 90.9C1112.1 88.4 1115 87.1 1117.5 85.2C1120 83.3 1122.8 81.4 1125 79.5C1127.3 77.6 1128.8 77 1130.7 73.8C1132.6 70.7 1134.4 65.4 1136.4 60.6C1138.4 55.7 1141.8 47.3 1142.8 44.7" stroke="#4678b8" stroke-width="2.8"/>
<path d="M1149.7 39.8C1150.9 41.7 1154.7 47.3 1157.2 51.1C1159.8 54.9 1162.3 59.6 1164.8 62.5C1167.3 65.3 1169.9 65.3 1172.4 68.2C1174.9 71 1177.1 76.4 1180 79.5C1182.8 82.7 1186.6 84.9 1189.4 87.1C1192.3 89.3 1194.5 90.6 1197 92.8C1199.5 95 1201.7 97.2 1204.6 100.3C1207.4 103.5 1211.2 110.4 1214 111.7C1216.9 113 1219.1 109.8 1221.6 107.9C1224.1 106 1226 103.5 1229.2 100.3C1232.3 97.2 1236.7 93.1 1240.5 89C1244.3 84.9 1248.1 79.2 1251.9 75.7C1255.7 72.3 1259.8 69.7 1263.3 68.2C1266.7 66.6 1269.6 67 1272.7 66.3C1275.9 65.5 1279.3 63.9 1282.2 63.6C1285 63.3 1286.9 62.7 1289.8 64.4C1292.6 66.1 1296.1 70.4 1299.2 73.8C1302.4 77.3 1305.5 81.4 1308.7 85.2C1311.8 89 1315.3 93.1 1318.2 96.6C1321 100 1322.9 103.5 1325.7 106C1328.6 108.5 1332 110.4 1335.2 111.7C1338.4 113 1341.5 112 1344.7 113.6C1347.8 115.2 1351.3 119.6 1354.1 121.2C1357 122.7 1358.9 124 1361.7 123.1C1364.5 122.1 1368 119 1371.2 115.5C1374.3 112 1377.8 106.3 1380.6 102.2C1383.5 98.1 1385.7 93.5 1388.2 90.9C1390.7 88.2 1393.3 86.8 1395.8 86.3C1398.3 85.8 1400.8 87.8 1403.4 87.8C1405.9 87.8 1408.4 85.8 1410.9 86.3C1413.5 86.8 1416 87.6 1418.5 90.9C1421 94.2 1423.9 101.3 1426.1 106C1428.3 110.8 1429.9 115.8 1431.8 119.3C1433.6 122.7 1435.5 126.5 1437.4 126.8C1439.3 127.2 1441.2 124 1443.1 121.2C1445 118.3 1447.7 113.9 1448.8 109.8C1449.9 105.7 1449.4 97.5 1449.9 96.6C1450.4 95.6 1451.5 95 1451.8 104.1C1452.1 113.3 1452.3 141 1451.8 151.5C1451.3 161.9 1449.9 161.6 1448.8 166.6C1447.7 171.7 1446.9 177.3 1445 181.7C1443.1 186.2 1440 189.3 1437.4 193.1C1434.9 196.9 1432.4 200.7 1429.9 204.5C1427.3 208.3 1424.8 211.4 1422.3 215.8C1419.8 220.2 1417.2 226.6 1414.7 231C1412.2 235.4 1409.7 238.5 1407.1 242.3C1404.6 246.1 1402.1 249.9 1399.6 253.7C1397 257.5 1394.5 261.9 1392 265.1C1389.5 268.2 1386.9 269.5 1384.4 272.6C1381.9 275.8 1379.1 280.2 1376.8 284C1374.6 287.8 1373.1 294.7 1371.2 295.3C1369.3 296 1367.7 290.6 1365.5 287.8C1363.3 284.9 1360.4 280.8 1357.9 278.3C1355.4 275.8 1352.9 274.8 1350.3 272.6C1347.8 270.4 1345.3 267.3 1342.8 265.1C1340.2 262.8 1337.7 261.3 1335.2 259.4C1332.7 257.5 1330.1 255 1327.6 253.7C1325.1 252.4 1322.6 252.4 1320.1 251.8C1317.5 251.2 1315 249.9 1312.5 249.9C1310 249.9 1307.4 250.9 1304.9 251.8C1302.4 252.7 1299.9 254 1297.3 255.6C1294.8 257.2 1292.3 259.1 1289.8 261.3C1287.2 263.5 1284.7 266 1282.2 268.8C1279.7 271.7 1277.1 275.8 1274.6 278.3C1272.1 280.8 1269.6 282.4 1267 284C1264.5 285.6 1262 286.6 1259.5 287.8C1256.9 288.9 1254.7 290.2 1251.9 290.8C1249.1 291.4 1245.6 291.4 1242.4 291.6C1239.3 291.7 1236.1 291.9 1233 291.6C1229.8 291.2 1226.3 290.6 1223.5 289.7C1220.7 288.7 1218.4 287.8 1215.9 285.9C1213.4 284 1210.9 281.1 1208.4 278.3C1205.8 275.5 1203.3 271.7 1200.8 268.8C1198.3 266 1195.7 263.5 1193.2 261.3C1190.7 259.1 1188.5 257.5 1185.6 255.6C1182.8 253.7 1179 251.5 1176.2 249.9C1173.3 248.3 1171.1 246.9 1168.6 246.1C1166.1 245.4 1163.9 245.5 1161 245.4C1158.2 245.2 1154.7 245.2 1151.6 245.4C1148.4 245.5 1144.9 245.9 1142.1 246.1C1139.2 246.4 1137.4 246.4 1134.5 246.9C1131.7 247.4 1128.2 248.5 1125 249.1C1121.9 249.8 1118.7 250.3 1115.6 250.7C1112.4 251 1109.3 250.7 1106.1 251C1103 251.4 1099.5 253.1 1096.7 252.6C1093.8 252.1 1091.6 249.7 1089.1 248C1086.6 246.3 1084 244.5 1081.5 242.3C1079 240.1 1076.1 237.6 1073.9 234.8C1071.7 231.9 1070.1 227.5 1068.3 225.3C1066.4 223.1 1063.8 221.8 1062.6 221.5C1061.3 221.2 1061 223.1 1060.7 223.4" stroke="#4678b8" stroke-width="2.8"/>
<path d="M1060.7 223.4C1060.7 216.5 1060.2 191.2 1060.7 181.7C1061.1 172.3 1062.1 170.7 1063.3 166.6C1064.6 162.5 1066.2 159.3 1068.3 157.1C1070.3 154.9 1073.3 155.2 1075.8 153.4C1078.3 151.5 1081.2 148 1083.4 145.8C1085.6 143.6 1087.2 142.6 1089.1 140.1C1091 137.6 1093 134.1 1094.8 130.6C1096.5 127.2 1098 124 1099.7 119.3C1101.4 114.5 1103 107 1105 102.2C1107 97.5 1109.4 93.7 1111.8 90.9C1114.2 88 1116.8 87.4 1119.4 85.2C1121.9 83 1124.4 80.5 1126.9 77.6C1129.5 74.8 1131.9 71.9 1134.5 68.2C1137.2 64.4 1141.5 57.1 1142.8 54.9" stroke="#bf504c" stroke-width="1.8"/>
<path d="M1149.7 39.8C1150.9 41.7 1154.7 47.3 1157.2 51.1C1159.8 54.9 1162.3 59.6 1164.8 62.5C1167.3 65.3 1169.9 65.3 1172.4 68.2C1174.9 71 1177.1 76.4 1180 79.5C1182.8 82.7 1186.6 84.9 1189.4 87.1C1192.3 89.3 1194.5 90.6 1197 92.8C1199.5 95 1201.7 97.2 1204.6 100.3C1207.4 103.5 1211.2 110.4 1214 111.7C1216.9 113 1219.1 109.8 1221.6 107.9C1224.1 106 1226 103.5 1229.2 100.3C1232.3 97.2 1236.7 93.1 1240.5 89C1244.3 84.9 1248.1 79.2 1251.9 75.7C1255.7 72.3 1259.8 69.7 1263.3 68.2C1266.7 66.6 1269.6 67 1272.7 66.3C1275.9 65.5 1279.3 63.9 1282.2 63.6C1285 63.3 1286.9 62.7 1289.8 64.4C1292.6 66.1 1296.1 70.4 1299.2 73.8C1302.4 77.3 1305.5 81.4 1308.7 85.2C1311.8 89 1315.3 93.1 1318.2 96.6C1321 100 1322.9 103.5 1325.7 106C1328.6 108.5 1332 110.4 1335.2 111.7C1338.4 113 1341.5 111.8 1344.7 113.6C1347.8 115.4 1351.3 120.5 1354.1 122.3C1357 124.1 1358.9 125.3 1361.7 124.2C1364.5 123.1 1368 119.1 1371.2 115.5C1374.3 111.8 1377.8 106.8 1380.6 102.2C1383.5 97.6 1385.7 91 1388.2 87.8C1390.7 84.7 1393.3 83.8 1395.8 83.3C1398.3 82.8 1400.8 84.8 1403.4 84.8C1405.9 84.8 1408.4 82.8 1410.9 83.3C1413.5 83.8 1416 84.1 1418.5 87.8C1421 91.6 1423.9 100.8 1426.1 106C1428.3 111.3 1429.9 115.8 1431.8 119.3C1433.6 122.7 1435.5 126.5 1437.4 126.8C1439.3 127.2 1441.2 124 1443.1 121.2C1445 118.3 1447.7 113.9 1448.8 109.8C1449.9 105.7 1449.4 97.5 1449.9 96.6C1450.4 95.6 1451.5 95 1451.8 104.1C1452.1 113.3 1452.3 141 1451.8 151.5C1451.3 161.9 1449.9 161.6 1448.8 166.6C1447.7 171.7 1446.9 177.3 1445 181.7C1443.1 186.2 1440 189.3 1437.4 193.1C1434.9 196.9 1432.4 200.7 1429.9 204.5C1427.3 208.3 1424.8 211.4 1422.3 215.8C1419.8 220.2 1417.2 226.6 1414.7 231C1412.2 235.4 1409.7 238.5 1407.1 242.3C1404.6 246.1 1402.1 249.9 1399.6 253.7C1397 257.5 1394.5 261.9 1392 265.1C1389.5 268.2 1386.9 270.2 1384.4 272.6C1381.9 275 1379.1 276.4 1376.8 279.4C1374.6 282.5 1373.1 290.2 1371.2 290.8C1369.3 291.4 1367.7 285.3 1365.5 283.2C1363.3 281.1 1360.4 280.1 1357.9 278.3C1355.4 276.5 1352.9 274.8 1350.3 272.6C1347.8 270.4 1345.3 267.3 1342.8 265.1C1340.2 262.8 1337.7 261.3 1335.2 259.4C1332.7 257.5 1330.1 255 1327.6 253.7C1325.1 252.4 1322.6 252.4 1320.1 251.8C1317.5 251.2 1315 249.9 1312.5 249.9C1310 249.9 1307.4 250.9 1304.9 251.8C1302.4 252.7 1299.9 254 1297.3 255.6C1294.8 257.2 1292.3 259.1 1289.8 261.3C1287.2 263.5 1284.7 266 1282.2 268.8C1279.7 271.7 1277.1 275.8 1274.6 278.3C1272.1 280.8 1269.6 282.4 1267 284C1264.5 285.6 1262 286.6 1259.5 287.8C1256.9 288.9 1254.7 290.2 1251.9 290.8C1249.1 291.4 1245.6 291.4 1242.4 291.6C1239.3 291.7 1236.1 291.9 1233 291.6C1229.8 291.2 1226.3 290.6 1223.5 289.7C1220.7 288.7 1218.4 287.8 1215.9 285.9C1213.4 284 1210.9 281.1 1208.4 278.3C1205.8 275.5 1203.3 271.7 1200.8 268.8C1198.3 266 1195.7 263.5 1193.2 261.3C1190.7 259.1 1188.5 257.5 1185.6 255.6C1182.8 253.7 1179 251.5 1176.2 249.9C1173.3 248.3 1171.1 246.9 1168.6 246.1C1166.1 245.4 1163.9 245.5 1161 245.4C1158.2 245.2 1154.7 245.2 1151.6 245.4C1148.4 245.5 1144.9 245.9 1142.1 246.1C1139.2 246.4 1137.4 246.4 1134.5 246.9C1131.7 247.4 1128.2 248.5 1125 249.1C1121.9 249.8 1118.7 250.3 1115.6 250.7C1112.4 251 1109.3 250.7 1106.1 251C1103 251.4 1099.5 253.1 1096.7 252.6C1093.8 252.1 1091.6 249.7 1089.1 248C1086.6 246.3 1084 244.5 1081.5 242.3C1079 240.1 1076.1 237.6 1073.9 234.8C1071.7 231.9 1070.1 227.5 1068.3 225.3C1066.4 223.1 1063.8 221.8 1062.6 221.5C1061.3 221.2 1061 223.1 1060.7 223.4" stroke="#bf504c" stroke-width="1.8"/>
</g>
<rect x="1565.7" y="9.5" width="424.6" height="382.5" fill="none" stroke="#d9d9d9" stroke-width="1.1"/>
<text class="t" x="1556.2" y="396.5" text-anchor="end">20</text>
<text class="t" x="1556.2" y="354" text-anchor="end">25</text>
<text class="t" x="1556.2" y="311.5" text-anchor="end">30</text>
<text class="t" x="1556.2" y="269" text-anchor="end">35</text>
<text class="t" x="1556.2" y="226.5" text-anchor="end">40</text>
<text class="t" x="1556.2" y="184" text-anchor="end">45</text>
<text class="t" x="1556.2" y="141.5" text-anchor="end">50</text>
<text class="t" x="1556.2" y="99" text-anchor="end">55</text>
<text class="t" x="1556.2" y="56.5" text-anchor="end">60</text>
<text class="t" x="1556.2" y="14" text-anchor="end">65</text>
<text class="t" x="1565.3" y="414.4" text-anchor="middle">0</text>
<text class="t" x="1650" y="414.4" text-anchor="middle">0.5</text>
<text class="t" x="1734.8" y="414.4" text-anchor="middle">1</text>
<text class="t" x="1819.5" y="414.4" text-anchor="middle">1.5</text>
<text class="t" x="1904.3" y="414.4" text-anchor="middle">2</text>
<text class="t" x="1989" y="414.4" text-anchor="middle">2.5</text>
<text class="ax" x="1648.1" y="430.6">Suspension point displacement(m)</text>
<text class="ax ay" transform="translate(1538.8 203.2) rotate(-90)" text-anchor="middle">Polished rod load(KN)</text>
<line x1="1854.8" y1="341.4" x2="1887.6" y2="341.4" stroke="#4678b8" stroke-width="2.2"/>
<text class="lg" x="1892.4" y="346">Measured values</text>
<line x1="1854.8" y1="358.8" x2="1887.6" y2="358.8" stroke="#9bbd60" stroke-width="1.7"/>
<text class="lg" x="1892.4" y="363.4">ELM</text>
<line x1="1854.8" y1="376.2" x2="1887.6" y2="376.2" stroke="#bf504c" stroke-width="1.7"/>
<text class="lg" x="1892.4" y="380.8">CNN</text>
<text class="lb" transform="translate(1758 487) scale(1.06 1.1)" text-anchor="middle">(d)</text>
<g fill="none" stroke-linejoin="round" stroke-linecap="round">
<path d="M1565.7 257.5C1565.9 255 1566.4 249.3 1566.8 242.3C1567.3 235.4 1567.6 222.8 1568.3 215.8C1569.1 208.9 1569.9 204.5 1571.4 200.7C1572.8 196.9 1575.5 196.9 1577 193.1C1578.6 189.3 1579.6 182.4 1580.8 178C1582.1 173.5 1583 169.1 1584.6 166.6C1586.2 164.1 1588.4 164.1 1590.3 162.8C1592.2 161.6 1594.4 161.2 1596 159C1597.5 156.8 1598.5 152.4 1599.8 149.6C1601 146.7 1602 144.8 1603.5 142C1605.1 139.2 1607.5 136 1609.2 132.5C1610.9 129.1 1612.5 123.1 1613.8 121.2C1615 119.3 1615.7 120.5 1616.8 121.2C1617.9 121.8 1619 124.6 1620.6 125C1622.2 125.3 1624.4 125.6 1626.3 123.1C1628.2 120.5 1630.4 111.4 1631.9 109.8C1633.5 108.2 1634.2 111.7 1635.7 113.6C1637.3 115.5 1639.8 121.8 1641.4 121.2C1643 120.5 1643.9 113.6 1645.2 109.8C1646.5 106 1647.7 99.4 1649 98.4C1650.2 97.5 1651.2 101.6 1652.8 104.1C1654.3 106.7 1656.6 111.4 1658.4 113.6C1660.3 115.8 1662.2 117.7 1664.1 117.4C1666 117.1 1667.9 113.5 1669.8 111.7C1671.7 109.9 1673.6 108.4 1675.5 106.8C1677.4 105.2 1679.3 103.5 1681.2 102.2C1683.1 101 1685.9 99.7 1686.8 99.2" stroke="#9bbd60" stroke-width="1.5"/>
<path d="M1688.7 113.6C1690 113.9 1694.1 115.8 1696.3 115.5C1698.5 115.2 1700.1 113.9 1702 111.7C1703.9 109.5 1705.8 106 1707.7 102.2C1709.6 98.4 1711.5 93.4 1713.4 89C1715.2 84.6 1717.1 79.2 1719 75.7C1720.9 72.3 1722.5 69.9 1724.7 68.2C1726.9 66.5 1729.8 65.8 1732.3 65.5C1734.8 65.2 1737.3 65.2 1739.9 66.3C1742.4 67.3 1744.9 72.6 1747.4 71.9C1750 71.3 1752.5 65 1755 62.5C1757.5 60 1760.4 58.2 1762.6 56.8C1764.8 55.4 1766 53.8 1768.3 54.1C1770.5 54.5 1773.3 56.7 1775.8 58.7C1778.4 60.7 1780.9 63.7 1783.4 66.3C1785.9 68.8 1788.4 71 1791 73.8C1793.5 76.7 1796 80.8 1798.5 83.3C1801.1 85.8 1803.6 87.1 1806.1 89C1808.6 90.9 1811.2 93.6 1813.7 94.7C1816.2 95.7 1818.7 95.3 1821.3 95.4C1823.8 95.5 1826.3 94.8 1828.8 95.4C1831.4 96 1833.9 98.1 1836.4 99.2C1838.9 100.3 1841.5 101.7 1844 102.2C1846.5 102.7 1849 102.5 1851.6 102.2C1854.1 101.9 1856.6 101 1859.1 100.3C1861.7 99.7 1863.9 99.3 1866.7 98.4C1869.5 97.6 1873 96.7 1876.2 95.4C1879.3 94.2 1882.8 93.2 1885.6 90.9C1888.5 88.5 1891 83.9 1893.2 81.4C1895.4 78.9 1896.7 76.7 1898.9 75.7C1901.1 74.8 1904.3 76.4 1906.5 75.7C1908.7 75.1 1910.2 74 1912.1 71.9C1914 69.9 1915.9 64.2 1917.8 63.6C1919.7 63 1921.6 67.1 1923.5 68.2C1925.4 69.2 1927.3 67.5 1929.2 70C1931.1 72.6 1933 79.5 1934.9 83.3C1936.8 87.1 1938.6 89.6 1940.5 92.8C1942.4 95.9 1944.3 100.3 1946.2 102.2C1948.1 104.1 1950.3 104.1 1951.9 104.1C1953.5 104.1 1954.7 104.4 1955.7 102.2C1956.6 100 1957.3 92.8 1957.6 90.9" stroke="#9bbd60" stroke-width="1.5"/>
<path d="M1953.8 113.6C1953.5 116.1 1952.8 123.7 1951.9 128.7C1951 133.8 1949.4 138.8 1948.1 143.9C1946.8 148.9 1945.6 154.6 1944.3 159C1943.1 163.4 1941.8 166.6 1940.5 170.4C1939.3 174.2 1938 178.3 1936.8 181.7C1935.5 185.2 1934.5 188.1 1933 191.2C1931.4 194.4 1929.2 197.5 1927.3 200.7C1925.4 203.8 1923.8 207.3 1921.6 210.1C1919.4 213 1916.2 216.1 1914 217.7C1911.8 219.3 1909.9 218 1908.4 219.6C1906.8 221.2 1905.8 226.6 1904.6 227.2C1903.3 227.8 1902 224.7 1900.8 223.4C1899.5 222.1 1898.9 220.1 1897 219.6C1895.1 219.1 1891.3 219.1 1889.4 220.4C1887.5 221.6 1886.9 224.5 1885.6 227.2C1884.4 229.9 1883.7 235.7 1881.8 236.7C1880 237.6 1876.8 233.8 1874.3 232.9C1871.8 231.9 1869.2 230.3 1866.7 231C1864.2 231.6 1861.7 234.4 1859.1 236.7C1856.6 238.9 1854.1 242 1851.6 244.2C1849 246.4 1846.5 247.7 1844 249.9C1841.5 252.1 1839.6 255.6 1836.4 257.5C1833.3 259.4 1828.2 260 1825.1 261.3C1821.9 262.5 1819.7 263.5 1817.5 265.1C1815.3 266.6 1813.7 267.9 1811.8 270.7C1809.9 273.6 1808 280.5 1806.1 282.1C1804.2 283.7 1802.3 281.5 1800.4 280.2C1798.5 278.9 1796.7 274.5 1794.8 274.5C1792.9 274.5 1791 277.4 1789.1 280.2C1787.2 283 1785.3 288.7 1783.4 291.6C1781.5 294.4 1779.9 296.5 1777.7 297.2C1775.5 298 1772.7 295.8 1770.1 296.1C1767.6 296.4 1764.8 298.9 1762.6 299.1C1760.4 299.3 1758.5 299.4 1756.9 297.2C1755.3 295 1754.4 289.3 1753.1 285.9C1751.8 282.4 1750.9 278.3 1749.3 276.4C1747.7 274.5 1745.9 273.9 1743.6 274.5C1741.4 275.1 1738.6 278.9 1736.1 280.2C1733.5 281.5 1730.7 283 1728.5 282.1C1726.3 281.1 1724.7 276.4 1722.8 274.5C1720.9 272.6 1719.3 271.8 1717.1 270.7C1714.9 269.7 1712.1 269 1709.6 268.1C1707 267.1 1704.5 265.6 1702 265.1C1699.5 264.5 1696.9 265.1 1694.4 265.1C1691.9 265.1 1689.1 266.6 1686.8 265.1C1684.6 263.5 1683.1 256.5 1681.2 255.6C1679.3 254.6 1677.4 257.8 1675.5 259.4C1673.6 260.9 1671.7 265.4 1669.8 265.1C1667.9 264.7 1666 260 1664.1 257.5C1662.2 255 1660.7 251.8 1658.4 249.9C1656.2 248 1653.4 246.9 1650.9 246.1C1648.4 245.4 1645.5 244.4 1643.3 245.4C1641.1 246.3 1639.5 249.1 1637.6 251.8C1635.7 254.4 1633.8 258.4 1631.9 261.3C1630 264.1 1628.2 266.3 1626.3 268.8C1624.4 271.4 1622.3 274.5 1620.6 276.4C1618.9 278.3 1617.3 281.5 1616 280.2C1614.8 278.9 1614.5 272.6 1613 268.8C1611.6 265.1 1608.9 257.5 1607.3 257.5C1605.8 257.5 1605.1 266.3 1603.5 268.8C1602 271.4 1599.8 272.6 1597.9 272.6C1596 272.6 1594.1 270.7 1592.2 268.8C1590.3 266.9 1588.4 262.2 1586.5 261.3C1584.6 260.3 1582.4 263.2 1580.8 263.2C1579.2 263.2 1578.6 262.2 1577 261.3C1575.5 260.3 1572.9 260 1571.4 257.5C1569.8 255 1568.5 246.1 1567.6 246.1C1566.6 246.1 1566 255.6 1565.7 257.5" stroke="#9bbd60" stroke-width="1.5"/>
<path d="M1565.7 227.2C1565.9 222.8 1565.9 206 1566.8 200.7C1567.8 195.3 1569.7 197.5 1571.4 195C1573.1 192.5 1575.1 189.3 1577 185.5C1578.9 181.7 1581.1 175.1 1582.7 172.3C1584.3 169.4 1584.9 169.8 1586.5 168.5C1588.1 167.2 1590.3 166.6 1592.2 164.7C1594.1 162.8 1596.3 159.7 1597.9 157.1C1599.4 154.6 1600.4 152.4 1601.7 149.6C1602.9 146.7 1604.2 142.9 1605.4 140.1C1606.7 137.3 1607.6 135 1609.2 132.5C1610.8 130 1613 127.5 1614.9 125C1616.8 122.4 1618.4 119 1620.6 117.4C1622.8 115.8 1625.6 115.8 1628.2 115.5C1630.7 115.2 1632.9 116.1 1635.7 115.5C1638.6 114.9 1642 113 1645.2 111.7C1648.4 110.4 1651.5 109 1654.7 107.9C1657.8 106.8 1661 106.1 1664.1 105.3C1667.3 104.4 1670.8 103.6 1673.6 103C1676.4 102.4 1678.3 102.1 1681.2 101.5C1684 100.8 1687.8 99.2 1690.6 99.2C1693.5 99.2 1695.7 102.5 1698.2 101.5C1700.7 100.4 1703.3 95.8 1705.8 92.8C1708.3 89.7 1710.8 86.8 1713.4 83.3C1715.9 79.8 1718.1 74.7 1720.9 71.9C1723.8 69.2 1727.2 67.6 1730.4 66.6C1733.5 65.7 1736.7 66.6 1739.9 66.3C1743 65.9 1745.9 64.7 1749.3 64.4C1752.8 64.1 1756.9 64.2 1760.7 64.4C1764.5 64.5 1768.3 64.6 1772 65.1C1775.8 65.6 1779.9 65.9 1783.4 67.4C1786.9 68.9 1789.7 71.5 1792.9 73.8C1796 76.2 1799.5 78.9 1802.3 81.4C1805.2 83.9 1807.4 86.1 1809.9 89C1812.4 91.8 1815 95.9 1817.5 98.4C1820 101 1822.5 102.7 1825.1 104.1C1827.6 105.6 1830.1 107.2 1832.6 107.2C1835.1 107.2 1837.7 105.5 1840.2 104.1C1842.7 102.8 1844.6 100.5 1847.8 99.2C1850.9 97.9 1855.3 97.3 1859.1 96.6C1862.9 95.8 1866.7 95.6 1870.5 94.7C1874.3 93.7 1878.7 92.5 1881.8 90.9C1885 89.3 1886.9 87.2 1889.4 85.2C1891.9 83.2 1894.5 80.7 1897 78.8C1899.5 76.9 1902 75.3 1904.6 73.8C1907.1 72.4 1909.6 71.3 1912.1 70C1914.7 68.8 1917.5 66.5 1919.7 66.3C1921.9 66.1 1923.2 66.7 1925.4 68.9C1927.6 71.1 1930.8 75.9 1933 79.5C1935.2 83.2 1936.8 87.4 1938.6 90.9C1940.5 94.3 1942.4 98.1 1944.3 100.3C1946.2 102.5 1948.4 103.3 1950 104.1C1951.6 104.9 1952.7 106.2 1953.8 105.3C1954.9 104.3 1956.1 102.7 1956.8 98.4C1957.6 94.2 1957.9 81.4 1958.3 79.5C1958.8 77.6 1959.6 82 1959.5 87.1C1959.3 92.1 1958.5 103.5 1957.6 109.8C1956.6 116.1 1955.1 119.9 1953.8 125C1952.5 130 1951.3 135.4 1950 140.1C1948.7 144.8 1947.6 148.6 1946.2 153.4C1944.8 158.1 1943.3 163.8 1941.7 168.5C1940.1 173.2 1938.5 178 1936.8 181.7C1935 185.5 1933 188.1 1931.1 191.2C1929.2 194.4 1927.3 197.5 1925.4 200.7C1923.5 203.8 1921.9 206.7 1919.7 210.1C1917.5 213.6 1914.7 217.4 1912.1 221.5C1909.6 225.6 1907.1 230 1904.6 234.8C1902 239.5 1899.2 246.4 1897 249.9C1894.8 253.4 1893.2 255.6 1891.3 255.6C1889.4 255.6 1887.5 252.7 1885.6 249.9C1883.7 247.1 1882.2 242 1880 238.5C1877.7 235.1 1875.2 231.6 1872.4 229.1C1869.5 226.6 1866.4 224.3 1862.9 223.4C1859.4 222.5 1855 222.8 1851.6 223.4C1848.1 224 1844.9 225.3 1842.1 227.2C1839.3 229.1 1837 232.2 1834.5 234.8C1832 237.3 1829.2 239.2 1826.9 242.3C1824.7 245.5 1823.2 249.6 1821.3 253.7C1819.4 257.8 1817.5 262.5 1815.6 266.9C1813.7 271.4 1811.8 276.1 1809.9 280.2C1808 284.3 1806.1 288.1 1804.2 291.6C1802.3 295 1800.8 298.5 1798.5 301C1796.3 303.5 1793.5 305.4 1791 306.7C1788.4 308 1785.9 308.9 1783.4 308.6C1780.9 308.3 1778.4 306.1 1775.8 304.8C1773.3 303.5 1771.1 302.3 1768.3 301C1765.4 299.8 1761.9 298.5 1758.8 297.2C1755.6 296 1752.2 293.8 1749.3 293.4C1746.5 293.1 1744.3 296 1741.7 295.3C1739.2 294.7 1736.7 291.9 1734.2 289.7C1731.7 287.5 1729.1 285.2 1726.6 282.1C1724.1 278.9 1721.6 274.2 1719 270.7C1716.5 267.3 1714 264.4 1711.5 261.3C1708.9 258.1 1706.4 254.6 1703.9 251.8C1701.4 249 1698.8 245.7 1696.3 244.2C1693.8 242.8 1691.3 242.8 1688.7 243.1C1686.2 243.4 1683.7 245.1 1681.2 246.1C1678.6 247.1 1676.1 248.4 1673.6 249.1C1671.1 249.9 1668.5 250.9 1666 250.7C1663.5 250.5 1661 248.8 1658.4 248C1655.9 247.3 1653.4 246.7 1650.9 246.1C1648.4 245.5 1645.5 244.9 1643.3 244.2C1641.1 243.6 1639.5 242 1637.6 242.3C1635.7 242.6 1633.8 244.2 1631.9 246.1C1630 248 1628.2 250.5 1626.3 253.7C1624.4 256.8 1622.5 260.6 1620.6 265.1C1618.7 269.5 1616.8 276.4 1614.9 280.2C1613 284 1611.4 284.9 1609.2 287.8C1607 290.6 1603.9 296.3 1601.7 297.2C1599.4 298.2 1597.9 295 1596 293.4C1594.1 291.9 1591.9 290.6 1590.3 287.8C1588.7 284.9 1587.5 280.2 1586.5 276.4C1585.6 272.6 1585.9 267.6 1584.6 265.1C1583.3 262.5 1580.8 263.8 1578.9 261.3C1577 258.7 1574.8 254.3 1573.3 249.9C1571.7 245.5 1570.7 238.9 1569.5 234.8C1568.2 230.7 1566.3 226.9 1565.7 225.3" stroke="#4678b8" stroke-width="2.8"/>
<path d="M1565.7 227.2C1565.9 222.8 1565.9 206 1566.8 200.7C1567.8 195.3 1569.7 197.5 1571.4 195C1573.1 192.5 1575.1 189.3 1577 185.5C1578.9 181.7 1581.1 175.1 1582.7 172.3C1584.3 169.4 1584.9 169.8 1586.5 168.5C1588.1 167.2 1590.3 166.6 1592.2 164.7C1594.1 162.8 1596.3 159.7 1597.9 157.1C1599.4 154.6 1600.4 152.4 1601.7 149.6C1602.9 146.7 1604.2 142.9 1605.4 140.1C1606.7 137.3 1607.6 135 1609.2 132.5C1610.8 130 1613 127.2 1614.9 125C1616.8 122.7 1618.4 120.5 1620.6 119.3C1622.8 118 1625.6 117.7 1628.2 117.4C1630.7 117.1 1632.9 118 1635.7 117.4C1638.6 116.7 1642 115.2 1645.2 113.6C1648.4 112 1651.5 109.3 1654.7 107.9C1657.8 106.5 1661 106.1 1664.1 105.3C1667.3 104.4 1670.8 103.6 1673.6 103C1676.4 102.4 1678.3 101.8 1681.2 101.5C1684 101.2 1687.8 100.8 1690.6 101.1C1693.5 101.4 1695.7 104.8 1698.2 103.4C1700.7 102 1703.3 96.1 1705.8 92.8C1708.3 89.4 1710.8 86.8 1713.4 83.3C1715.9 79.8 1718.1 74.7 1720.9 71.9C1723.8 69.2 1727.2 67.6 1730.4 66.6C1733.5 65.7 1736.7 66.6 1739.9 66.3C1743 65.9 1745.9 64.7 1749.3 64.4C1752.8 64.1 1756.9 64.2 1760.7 64.4C1764.5 64.5 1768.3 64.6 1772 65.1C1775.8 65.6 1779.9 65.9 1783.4 67.4C1786.9 68.9 1789.7 71.5 1792.9 73.8C1796 76.2 1799.5 78.9 1802.3 81.4C1805.2 83.9 1807.4 86.1 1809.9 89C1812.4 91.8 1815 95.9 1817.5 98.4C1820 101 1822.5 102.7 1825.1 104.1C1827.6 105.6 1830.1 107.2 1832.6 107.2C1835.1 107.2 1837.7 105.5 1840.2 104.1C1842.7 102.8 1844.6 100.5 1847.8 99.2C1850.9 97.9 1855.3 97.3 1859.1 96.6C1862.9 95.8 1866.7 95.6 1870.5 94.7C1874.3 93.7 1878.7 92.5 1881.8 90.9C1885 89.3 1886.9 87.2 1889.4 85.2C1891.9 83.2 1894.5 80.7 1897 78.8C1899.5 76.9 1902 75.3 1904.6 73.8C1907.1 72.4 1909.6 71.3 1912.1 70C1914.7 68.8 1917.5 66.5 1919.7 66.3C1921.9 66.1 1923.2 66.7 1925.4 68.9C1927.6 71.1 1930.8 75.9 1933 79.5C1935.2 83.2 1936.8 87.4 1938.6 90.9C1940.5 94.3 1942.4 98.1 1944.3 100.3C1946.2 102.5 1948.4 103.3 1950 104.1C1951.6 104.9 1952.7 106.2 1953.8 105.3C1954.9 104.3 1956.1 102.7 1956.8 98.4C1957.6 94.2 1957.9 81.4 1958.3 79.5C1958.8 77.6 1959.6 82 1959.5 87.1C1959.3 92.1 1958.5 103.5 1957.6 109.8C1956.6 116.1 1955.1 119.9 1953.8 125C1952.5 130 1951.3 135.4 1950 140.1C1948.7 144.8 1947.6 148.6 1946.2 153.4C1944.8 158.1 1943.3 163.8 1941.7 168.5C1940.1 173.2 1938.5 178 1936.8 181.7C1935 185.5 1933 188.1 1931.1 191.2C1929.2 194.4 1927.3 197.5 1925.4 200.7C1923.5 203.8 1921.9 206.7 1919.7 210.1C1917.5 213.6 1914.7 217.4 1912.1 221.5C1909.6 225.6 1907.1 230 1904.6 234.8C1902 239.5 1899.2 246.4 1897 249.9C1894.8 253.4 1893.2 255.6 1891.3 255.6C1889.4 255.6 1887.5 252.7 1885.6 249.9C1883.7 247.1 1882.2 242 1880 238.5C1877.7 235.1 1875.2 232.1 1872.4 229.1C1869.5 226.1 1866.4 221.8 1862.9 220.4C1859.4 218.9 1855 219.7 1851.6 220.4C1848.1 221 1844.9 221.8 1842.1 224.2C1839.3 226.6 1837 231.7 1834.5 234.8C1832 237.8 1829.2 239.2 1826.9 242.3C1824.7 245.5 1823.2 249.6 1821.3 253.7C1819.4 257.8 1817.5 262.5 1815.6 266.9C1813.7 271.4 1811.8 276.1 1809.9 280.2C1808 284.3 1806.1 288.1 1804.2 291.6C1802.3 295 1800.8 299.1 1798.5 301C1796.3 302.9 1793.5 302.3 1791 302.9C1788.4 303.5 1785.9 305.1 1783.4 304.8C1780.9 304.5 1778.4 301.7 1775.8 301C1773.3 300.4 1771.1 300.7 1768.3 301C1765.4 301.3 1761.9 303.2 1758.8 302.9C1755.6 302.6 1752.2 299.4 1749.3 299.1C1746.5 298.8 1744.3 302.6 1741.7 301C1739.2 299.4 1736.7 292.8 1734.2 289.7C1731.7 286.5 1729.1 285.2 1726.6 282.1C1724.1 278.9 1721.6 274.2 1719 270.7C1716.5 267.3 1714 264.4 1711.5 261.3C1708.9 258.1 1706.4 254.6 1703.9 251.8C1701.4 249 1698.8 245.7 1696.3 244.2C1693.8 242.8 1691.3 242.8 1688.7 243.1C1686.2 243.4 1683.7 245.1 1681.2 246.1C1678.6 247.1 1676.1 248.4 1673.6 249.1C1671.1 249.9 1668.5 250.9 1666 250.7C1663.5 250.5 1661 248.8 1658.4 248C1655.9 247.3 1653.4 246.7 1650.9 246.1C1648.4 245.5 1645.5 244.9 1643.3 244.2C1641.1 243.6 1639.5 242 1637.6 242.3C1635.7 242.6 1633.8 244.2 1631.9 246.1C1630 248 1628.2 250.5 1626.3 253.7C1624.4 256.8 1622.5 260.6 1620.6 265.1C1618.7 269.5 1616.8 276.4 1614.9 280.2C1613 284 1611.4 284.9 1609.2 287.8C1607 290.6 1603.9 296.3 1601.7 297.2C1599.4 298.2 1597.9 295 1596 293.4C1594.1 291.9 1591.9 290.6 1590.3 287.8C1588.7 284.9 1587.5 280.2 1586.5 276.4C1585.6 272.6 1585.9 267.6 1584.6 265.1C1583.3 262.5 1580.8 263.8 1578.9 261.3C1577 258.7 1574.8 254.3 1573.3 249.9C1571.7 245.5 1570.7 238.9 1569.5 234.8C1568.2 230.7 1566.3 226.9 1565.7 225.3" stroke="#bf504c" stroke-width="1.8"/>
</g>
<rect x="45" y="563.5" width="426.8" height="385.8" fill="none" stroke="#d9d9d9" stroke-width="1.1"/>
<text class="t" x="35.5" y="953.8" text-anchor="end">20</text>
<text class="t" x="35.5" y="876.6" text-anchor="end">30</text>
<text class="t" x="35.5" y="799.5" text-anchor="end">40</text>
<text class="t" x="35.5" y="722.3" text-anchor="end">50</text>
<text class="t" x="35.5" y="645.2" text-anchor="end">60</text>
<text class="t" x="35.5" y="568" text-anchor="end">70</text>
<text class="t" x="44.3" y="972.2" text-anchor="middle">0</text>
<text class="t" x="139.2" y="972.2" text-anchor="middle">1</text>
<text class="t" x="234.1" y="972.2" text-anchor="middle">2</text>
<text class="t" x="329.1" y="972.2" text-anchor="middle">3</text>
<text class="t" x="424" y="972.2" text-anchor="middle">4</text>
<text class="ax" x="128.9" y="986.6">Suspension point displacement(m)</text>
<text class="ax ay" transform="translate(17.2 757.5) rotate(-90)" text-anchor="middle">Polished rod load(KN)</text>
<line x1="333.2" y1="902.6" x2="365.6" y2="902.6" stroke="#4678b8" stroke-width="2.2"/>
<text class="lg" x="370.4" y="907.2">Measured values</text>
<line x1="333.2" y1="920" x2="365.6" y2="920" stroke="#8cc656" stroke-width="1.7"/>
<text class="lg" x="370.4" y="924.6">PSO-SVM</text>
<line x1="333.2" y1="937.4" x2="365.6" y2="937.4" stroke="#bf504c" stroke-width="1.7"/>
<text class="lg" x="370.4" y="942">CNN</text>
<text class="lb" transform="translate(238.4 1044.5) scale(1.06 1.1)" text-anchor="middle">(e)</text>
<g fill="none" stroke-linejoin="round" stroke-linecap="round">
<path d="M45.7 750C46.3 748.4 48.2 743.4 49.5 740.5C50.7 737.7 51.7 733.6 53.3 733C54.8 732.3 57 739.3 58.9 736.7C60.8 734.2 62.7 722.9 64.6 717.8C66.5 712.8 68.4 708.9 70.3 706.5C72.2 704.1 74.4 702.2 76 703.4C77.5 704.7 78.5 710.4 79.8 714C81 717.7 82.3 723.8 83.5 725.4C84.8 727 85.8 727.9 87.3 723.5C88.9 719.1 91.1 706.5 93 698.9C94.9 691.3 96.5 683.4 98.7 678.1C100.9 672.7 103.7 669.9 106.3 666.7C108.8 663.5 111.6 660.1 113.8 659.1C116 658.2 117.6 658.8 119.5 661C121.4 663.2 123.6 669.5 125.2 672.4C126.8 675.2 127.7 680.6 129 678.1C130.2 675.5 131.5 664.2 132.8 657.2C134 650.3 135.3 639.9 136.6 636.4C137.8 632.9 139.1 634.8 140.3 636.4C141.6 638 142.9 640.5 144.1 645.9C145.4 651.2 146.7 661 147.9 668.6C149.2 676.2 150.4 685.9 151.7 691.3C153 696.7 154.2 698.4 155.5 700.8C156.7 703.2 158 707.9 159.3 705.7C160.5 703.5 161.8 694.7 163.1 687.5C164.3 680.4 165.6 668.5 166.8 662.9C168.1 657.4 169.4 654.8 170.6 654.2C171.9 653.6 173.2 656.1 174.4 659.1C175.7 662.2 176.9 668 178.2 672.4C179.5 676.8 180.7 682.8 182 685.6C183.3 688.5 184.2 689.7 185.8 689.4C187.4 689.1 189.2 685.3 191.5 683.7C193.7 682.2 196.5 680.6 199 680C201.6 679.3 204.4 680 206.6 680C208.8 680 211.3 680 212.3 680" stroke="#8cc656" stroke-width="1.5"/>
<path d="M212.3 645.9C213.2 650.3 216.1 663.5 218 672.4C219.9 681.2 222.1 690.7 223.6 698.9C225.2 707.1 226.5 716.6 227.4 721.6C228.4 726.7 228.4 729.2 229.3 729.2C230.3 729.2 231.8 726.7 233.1 721.6C234.4 716.6 235.3 703.9 236.9 698.9C238.5 693.8 240.7 693.2 242.6 691.3C244.5 689.4 246 690 248.3 687.5C250.5 685 253.3 680 255.8 676.2C258.4 672.4 260.6 668.1 263.4 664.8C266.2 661.5 270.3 656.8 272.9 656.5C275.4 656.2 276.3 660.6 278.5 662.9C280.8 665.2 283.6 667.6 286.1 670.5C288.6 673.3 291.8 676.5 293.7 680C295.6 683.4 296.2 688.2 297.5 691.3C298.7 694.5 300 698.6 301.3 698.9C302.5 699.2 303.5 694 305.1 693.2C306.6 692.4 308.8 693.4 310.7 694.3C312.6 695.3 314.5 697.5 316.4 698.9C318.3 700.3 320.2 701.5 322.1 702.7C324 703.8 325.9 706 327.8 705.7C329.7 705.4 331.6 701.9 333.4 700.8C335.3 699.6 337.6 697.9 339.1 698.9C340.7 699.8 341.3 704.7 342.9 706.5C344.5 708.2 346.4 709.2 348.6 709.5C350.8 709.8 353.3 708.5 356.2 708.4C359 708.2 362.8 708 365.6 708.4C368.5 708.7 370.7 709.8 373.2 710.2C375.7 710.7 378.3 711 380.8 711C383.3 711 386.1 709.7 388.4 710.2C390.6 710.7 392.5 712.8 394 714C395.6 715.3 396.6 718.8 397.8 717.8C399.1 716.9 400.3 710.6 401.6 708.4C402.9 706.1 404.1 704.2 405.4 704.6C406.7 704.9 407.9 707.4 409.2 710.2C410.4 713.1 411.7 721 413 721.6C414.2 722.2 415.5 715.9 416.8 714C418 712.1 419.3 709.9 420.5 710.2C421.8 710.6 423.1 713.5 424.3 715.9C425.6 718.3 426.5 722.9 428.1 724.6C429.7 726.3 431.9 726.7 433.8 726.1C435.7 725.6 437.9 723 439.5 721.6C441 720.2 442.6 718.4 443.3 717.8" stroke="#8cc656" stroke-width="1.5"/>
<path d="M443.3 727.3C442.6 728.5 441 731.4 439.5 734.9C437.9 738.3 435.7 745 433.8 748.1C431.9 751.3 430 752.8 428.1 753.8C426.2 754.7 424.3 755.1 422.4 753.8C420.5 752.5 418.3 745.9 416.8 746.2C415.2 746.5 414.2 755.4 413 755.7C411.7 756 410.8 749.7 409.2 748.1C407.6 746.5 405.4 746.5 403.5 746.2C401.6 745.9 399.7 745.9 397.8 746.2C395.9 746.5 394 747.9 392.1 748.1C390.2 748.3 388.4 748 386.5 747.4C384.6 746.7 383 744.8 380.8 744.3C378.6 743.8 375.7 744.3 373.2 744.3C370.7 744.3 368.2 744.3 365.6 744.3C363.1 744.3 360.6 744.3 358.1 744.3C355.5 744.3 353 744.6 350.5 744.3C348 744 345.4 742.7 342.9 742.4C340.4 742.1 337.9 742.1 335.3 742.4C332.8 742.7 330 743.4 327.8 744.3C325.6 745.3 324 748.1 322.1 748.1C320.2 748.1 318.6 745.1 316.4 744.3C314.2 743.6 311.4 743.6 308.8 743.6C306.3 743.6 303.8 743.6 301.3 744.3C298.7 745.1 296.2 747.5 293.7 748.1C291.2 748.7 288.6 747.8 286.1 748.1C283.6 748.4 281.1 749.7 278.5 750C276 750.3 273.5 749.7 271 750C268.4 750.3 265.9 750.9 263.4 751.9C260.9 752.8 258.4 754.7 255.8 755.7C253.3 756.6 250.8 757.3 248.3 757.6C245.7 757.9 243.2 757.4 240.7 757.6C238.2 757.8 235.6 758.4 233.1 758.7C230.6 759 228.1 759.3 225.5 759.5C223 759.6 220.5 759.3 218 759.5C215.4 759.6 213.5 760 210.4 760.2C207.2 760.4 202.2 760.4 199 760.6C195.9 760.8 193.4 760.6 191.5 761.4C189.6 762.1 189.2 762.6 187.7 765.1C186.1 767.7 183.9 775.2 182 776.5C180.1 777.8 178.2 773.7 176.3 772.7C174.4 771.8 172.5 771.5 170.6 770.8C168.7 770.2 166.8 768.6 165 768.9C163.1 769.2 161.2 771.5 159.3 772.7C157.4 774 155.8 775.6 153.6 776.5C151.4 777.5 148.5 777.8 146 778.4C143.5 779 141 780 138.4 780.3C135.9 780.6 133.1 781.6 130.9 780.3C128.7 779 127.1 775.2 125.2 772.7C123.3 770.2 121.1 765.5 119.5 765.1C117.9 764.8 117.3 768.9 115.7 770.8C114.2 772.7 111.9 774.3 110 776.5C108.2 778.7 106.3 783.4 104.4 784.1C102.5 784.7 100.6 782.5 98.7 780.3C96.8 778.1 94.9 773.7 93 770.8C91.1 768 89.1 764.5 87.3 763.3C85.6 762 84 762 82.4 763.3C80.8 764.5 79.3 768.3 77.9 770.8C76.5 773.4 75.7 777.1 74.1 778.4C72.5 779.7 70.3 779 68.4 778.4C66.5 777.8 64.6 775.9 62.7 774.6C60.8 773.4 58.9 772.1 57 770.8C55.1 769.6 52.9 768.6 51.4 767C49.8 765.5 48.5 764.5 47.6 761.4C46.6 758.2 46 750.3 45.7 748.1" stroke="#8cc656" stroke-width="1.5"/>
<path d="M45.7 772.7C45.7 771.1 45.7 766.7 45.7 763.3C45.7 759.8 45 755.1 45.7 751.9C46.3 748.7 47.6 746.8 49.5 744.3C51.4 741.8 54.5 740.5 57 736.7C59.6 733 62.4 726.3 64.6 721.6C66.8 716.9 68.4 712.5 70.3 708.4C72.2 704.2 73.8 700.8 76 697C78.2 693.2 81 689.4 83.5 685.6C86.1 681.8 88.6 677.4 91.1 674.3C93.6 671.1 96.2 668.7 98.7 666.7C101.2 664.7 103.7 662.2 106.3 662.2C108.8 662.2 111.3 664.4 113.8 666.7C116.4 669 118.9 672.7 121.4 676.2C123.9 679.6 126.5 684.4 129 687.5C131.5 690.7 134 693.5 136.6 695.1C139.1 696.7 141.6 697.3 144.1 697C146.7 696.7 148.9 695.1 151.7 693.2C154.5 691.3 158 687.8 161.2 685.6C164.3 683.4 167.5 681.5 170.6 680C173.8 678.4 176.9 676.7 180.1 676.2C183.3 675.7 186.4 676.6 189.6 676.9C192.7 677.2 195.9 677.7 199 678.1C202.2 678.4 205.7 678.6 208.5 679.2C211.3 679.8 213.5 680.8 216.1 681.8C218.6 682.9 220.8 684.7 223.6 685.6C226.5 686.6 230 687.3 233.1 687.5C236.3 687.7 239.4 687.7 242.6 686.8C245.7 685.8 248.9 683.3 252 681.8C255.2 680.4 258 679.3 261.5 678.1C265 676.8 269.4 674.3 272.9 674.3C276.3 674.3 279.5 676.5 282.3 678.1C285.2 679.6 287.4 681.5 289.9 683.7C292.4 685.9 295 689.1 297.5 691.3C300 693.5 302.2 695.9 305.1 697C307.9 698.1 311.4 698.3 314.5 698.1C317.7 697.9 320.8 696.2 324 695.9C327.1 695.5 330.3 695.8 333.4 695.9C336.6 695.9 339.4 696 342.9 696.2C346.4 696.4 350.8 696.2 354.3 697C357.7 697.7 360.6 699.2 363.7 700.8C366.9 702.4 370.1 705 373.2 706.5C376.4 707.9 379.5 708.9 382.7 709.5C385.8 710.1 389.3 709.5 392.1 710.2C395 711 397.2 712.8 399.7 714C402.2 715.3 404.8 717.2 407.3 717.8C409.8 718.4 412.3 718.1 414.9 717.8C417.4 717.5 419.9 715.9 422.4 715.9C425 715.9 427.8 716.6 430 717.8C432.2 719.1 433.8 722.9 435.7 723.5C437.6 724.1 440.1 722.4 441.4 721.6C442.6 720.8 443.3 717.6 443.3 718.6C443.3 719.5 442.3 723.6 441.4 727.3C440.4 730.9 438.8 736.4 437.6 740.5C436.3 744.6 435.4 748.2 433.8 751.9C432.2 755.6 429.7 761.6 428.1 762.5C426.5 763.4 425.6 760.3 424.3 757.6C423.1 754.9 422.1 749.6 420.5 746.2C419 742.9 416.8 738.8 414.9 737.5C413 736.2 411.1 737.5 409.2 738.6C407.3 739.8 405.4 742.1 403.5 744.3C401.6 746.5 399.4 750 397.8 751.9C396.2 753.8 395.6 755.7 394 755.7C392.5 755.7 390.2 753.8 388.4 751.9C386.5 750 384.6 746.2 382.7 744.3C380.8 742.4 378.9 741.8 377 740.5C375.1 739.3 373.2 737.4 371.3 736.7C369.4 736.1 367.5 735.8 365.6 736.7C363.7 737.7 361.8 740.2 360 742.4C358.1 744.6 356.2 748.4 354.3 750C352.4 751.6 350.5 751.7 348.6 751.9C346.7 752.1 344.8 751.5 342.9 751.1C341 750.8 339.1 750.8 337.2 750C335.3 749.2 333.4 747.5 331.6 746.2C329.7 745 327.8 743.5 325.9 742.4C324 741.4 322.4 740.4 320.2 739.8C318 739.1 314.8 738.4 312.6 738.6C310.4 738.9 308.8 740.3 306.9 741.3C305.1 742.2 303.5 743.2 301.3 744.3C299.1 745.5 296.2 746.8 293.7 748.1C291.2 749.4 288.6 750.9 286.1 751.9C283.6 752.8 281.1 753.5 278.5 753.8C276 754.1 273.5 754.1 271 753.8C268.4 753.5 265.9 752.5 263.4 751.9C260.9 751.3 258.4 750.6 255.8 750C253.3 749.4 250.8 748.4 248.3 748.1C245.7 747.8 243.2 747.8 240.7 748.1C238.2 748.4 235.6 749.1 233.1 750C230.6 750.9 228.1 752.5 225.5 753.8C223 755.1 220.5 756.3 218 757.6C215.4 758.8 213.5 760.1 210.4 761.4C207.2 762.6 202.5 763.9 199 765.1C195.6 766.4 192.7 767.7 189.6 768.9C186.4 770.2 183.3 771.5 180.1 772.7C176.9 774 173.8 775.2 170.6 776.5C167.5 777.8 164 779.3 161.2 780.3C158.3 781.2 156.1 781.6 153.6 782.2C151.1 782.8 148.5 784.1 146 784.1C143.5 784.1 141 783.1 138.4 782.2C135.9 781.2 133.4 779.7 130.9 778.4C128.4 777.1 125.8 776.2 123.3 774.6C120.8 773 117.9 770.3 115.7 768.9C113.5 767.5 112.3 766.9 110 766.3C107.8 765.7 105 765.5 102.5 765.1C100 764.8 97.4 763.7 94.9 764C92.4 764.3 89.9 765.9 87.3 767C84.8 768.2 82.3 769.7 79.8 770.8C77.2 772 74.7 774.2 72.2 773.9C69.7 773.5 67.1 770.5 64.6 768.9C62.1 767.4 59.2 765.7 57 764.4C54.8 763.1 53.3 761.6 51.4 761.4C49.5 761.2 46.6 761.4 45.7 763.3C44.7 765.1 45.7 771.1 45.7 772.7" stroke="#4678b8" stroke-width="2.8"/>
<path d="M45.7 772.7C45.7 771.1 45.7 766.7 45.7 763.3C45.7 759.8 45 755.1 45.7 751.9C46.3 748.7 47.6 746.8 49.5 744.3C51.4 741.8 54.5 740.5 57 736.7C59.6 733 62.4 726.3 64.6 721.6C66.8 716.9 68.4 712.5 70.3 708.4C72.2 704.2 73.8 700.8 76 697C78.2 693.2 81 689.4 83.5 685.6C86.1 681.8 88.6 677.4 91.1 674.3C93.6 671.1 96.2 668.7 98.7 666.7C101.2 664.7 103.7 662.2 106.3 662.2C108.8 662.2 111.3 664.4 113.8 666.7C116.4 669 118.9 672.7 121.4 676.2C123.9 679.6 126.5 684.4 129 687.5C131.5 690.7 134 693.5 136.6 695.1C139.1 696.7 141.6 697.3 144.1 697C146.7 696.7 148.9 695.1 151.7 693.2C154.5 691.3 158 687.8 161.2 685.6C164.3 683.4 167.5 681.5 170.6 680C173.8 678.4 176.9 676.7 180.1 676.2C183.3 675.7 186.4 676.6 189.6 676.9C192.7 677.2 195.9 677.7 199 678.1C202.2 678.4 205.7 678.6 208.5 679.2C211.3 679.8 213.5 680.8 216.1 681.8C218.6 682.9 220.8 684.7 223.6 685.6C226.5 686.6 230 687.3 233.1 687.5C236.3 687.7 239.4 687.7 242.6 686.8C245.7 685.8 248.9 683.3 252 681.8C255.2 680.4 258 679.3 261.5 678.1C265 676.8 269.4 674.3 272.9 674.3C276.3 674.3 279.5 676.5 282.3 678.1C285.2 679.6 287.4 681.5 289.9 683.7C292.4 685.9 295 689.1 297.5 691.3C300 693.5 302.2 695.9 305.1 697C307.9 698.1 311.4 698.3 314.5 698.1C317.7 697.9 320.8 696.2 324 695.9C327.1 695.5 330.3 695.8 333.4 695.9C336.6 695.9 339.4 696 342.9 696.2C346.4 696.4 350.8 696.2 354.3 697C357.7 697.7 360.6 699.2 363.7 700.8C366.9 702.4 370.1 705 373.2 706.5C376.4 707.9 379.5 708.9 382.7 709.5C385.8 710.1 389.3 709.5 392.1 710.2C395 711 397.2 712.8 399.7 714C402.2 715.3 404.8 717.2 407.3 717.8C409.8 718.4 412.3 718.1 414.9 717.8C417.4 717.5 419.9 715.9 422.4 715.9C425 715.9 427.8 716.6 430 717.8C432.2 719.1 433.8 722.9 435.7 723.5C437.6 724.1 440.1 722.4 441.4 721.6C442.6 720.8 443.3 717.6 443.3 718.6C443.3 719.5 442.3 723.6 441.4 727.3C440.4 730.9 438.8 736.4 437.6 740.5C436.3 744.6 435.4 748.2 433.8 751.9C432.2 755.6 429.7 761.6 428.1 762.5C426.5 763.4 425.6 760.3 424.3 757.6C423.1 754.9 422.1 749.6 420.5 746.2C419 742.9 416.8 738.8 414.9 737.5C413 736.2 411.1 737.5 409.2 738.6C407.3 739.8 405.4 742.1 403.5 744.3C401.6 746.5 399.4 750.3 397.8 751.9C396.2 753.5 395.6 754.4 394 754.2C392.5 753.9 390.2 752.3 388.4 750.4C386.5 748.5 384.6 744.7 382.7 742.8C380.8 740.9 378.9 740 377 739C375.1 738 373.2 736.5 371.3 736.7C369.4 737 367.5 739.4 365.6 740.5C363.7 741.6 361.8 742.3 360 743.4C358.1 744.5 356.2 746.4 354.3 747.2C352.4 748 350.5 748 348.6 748.1C346.7 748.2 344.8 747.9 342.9 747.7C341 747.6 339.1 747.6 337.2 747.2C335.3 746.8 333.4 745.9 331.6 745.3C329.7 744.6 327.8 743.9 325.9 743.4C324 742.8 322.4 742.4 320.2 742.1C318 741.7 314.8 741.4 312.6 741.5C310.4 741.6 308.8 742.3 306.9 742.8C305.1 743.3 303.5 743.4 301.3 744.3C299.1 745.2 296.2 746.8 293.7 748.1C291.2 749.4 288.6 750.9 286.1 751.9C283.6 752.8 281.1 753.5 278.5 753.8C276 754.1 273.5 754.1 271 753.8C268.4 753.5 265.9 752.5 263.4 751.9C260.9 751.3 258.4 750.6 255.8 750C253.3 749.4 250.8 748.4 248.3 748.1C245.7 747.8 243.2 747.8 240.7 748.1C238.2 748.4 235.6 749.1 233.1 750C230.6 750.9 228.1 752.5 225.5 753.8C223 755.1 220.5 756.3 218 757.6C215.4 758.8 213.5 760.1 210.4 761.4C207.2 762.6 202.5 763.9 199 765.1C195.6 766.4 192.7 767.7 189.6 768.9C186.4 770.2 183.3 771.5 180.1 772.7C176.9 774 173.8 775.2 170.6 776.5C167.5 777.8 164 779.5 161.2 780.3C158.3 781.1 156.1 780.6 153.6 781.1C151.1 781.5 148.5 782.9 146 782.9C143.5 782.9 141 781.8 138.4 781.1C135.9 780.3 133.4 779.5 130.9 778.4C128.4 777.3 125.8 776.2 123.3 774.6C120.8 773 117.9 770.3 115.7 768.9C113.5 767.5 112.3 766.9 110 766.3C107.8 765.7 105 765.5 102.5 765.1C100 764.8 97.4 763.7 94.9 764C92.4 764.3 89.9 765.9 87.3 767C84.8 768.2 82.3 769.7 79.8 770.8C77.2 772 74.7 774.2 72.2 773.9C69.7 773.5 67.1 770.5 64.6 768.9C62.1 767.4 59.2 765.7 57 764.4C54.8 763.1 53.3 761.6 51.4 761.4C49.5 761.2 46.6 761.4 45.7 763.3C44.7 765.1 45.7 771.1 45.7 772.7" stroke="#bf504c" stroke-width="1.8"/>
</g>
<rect x="553.6" y="568.7" width="425.1" height="382.1" fill="none" stroke="#d9d9d9" stroke-width="1.1"/>
<text class="t" x="544.1" y="955.3" text-anchor="end">20</text>
<text class="t" x="544.1" y="891.6" text-anchor="end">30</text>
<text class="t" x="544.1" y="827.9" text-anchor="end">40</text>
<text class="t" x="544.1" y="764.2" text-anchor="end">50</text>
<text class="t" x="544.1" y="700.6" text-anchor="end">60</text>
<text class="t" x="544.1" y="636.9" text-anchor="end">70</text>
<text class="t" x="544.1" y="573.2" text-anchor="end">80</text>
<text class="t" x="552.6" y="973.1" text-anchor="middle">0</text>
<text class="t" x="630" y="973.1" text-anchor="middle">1</text>
<text class="t" x="707.4" y="973.1" text-anchor="middle">2</text>
<text class="t" x="784.9" y="973.1" text-anchor="middle">3</text>
<text class="t" x="862.3" y="973.1" text-anchor="middle">4</text>
<text class="t" x="939.7" y="973.1" text-anchor="middle">5</text>
<text class="ax" x="627.4" y="986.8">Suspension point displacement(m)</text>
<text class="ax ay" transform="translate(526.9 761.2) rotate(-90)" text-anchor="middle">Polished rod load(KN)</text>
<line x1="842.4" y1="901.8" x2="874.8" y2="901.8" stroke="#4678b8" stroke-width="2.2"/>
<text class="lg" x="880" y="906.4">Measured values</text>
<line x1="842.4" y1="917.6" x2="874.8" y2="917.6" stroke="#96c05c" stroke-width="1.7"/>
<text class="lg" x="880" y="922.2">RF</text>
<line x1="842.4" y1="933.6" x2="874.8" y2="933.6" stroke="#bf504c" stroke-width="1.7"/>
<text class="lg" x="880" y="938.2">CNN</text>
<text class="lb" transform="translate(744 1044.5) scale(1.06 1.1)" text-anchor="middle">(f)</text>
<g fill="none" stroke-linejoin="round" stroke-linecap="round">
<path d="M553.7 791C554 784 554.9 761.3 555.6 749.3C556.2 737.3 556.5 728.5 557.5 719C558.4 709.6 560 703.3 561.3 692.5C562.5 681.8 563.8 664.8 565 654.7C566.3 644.6 567.8 637.3 568.8 631.9C569.9 626.6 570.5 621.2 571.5 622.5C572.4 623.7 573.7 635.1 574.5 639.5C575.3 643.9 575.8 652.8 576.4 649C577 645.2 577.5 626.6 578.3 616.8C579.1 607 580.1 593.4 581.3 590.3C582.6 587.1 584.5 591.6 585.9 597.9C587.3 604.2 588.7 622.2 589.7 628.2C590.6 634.2 590.6 637 591.5 633.8C592.5 630.7 594.1 613 595.3 609.2C596.6 605.4 597.5 607.6 599.1 611.1C600.7 614.6 602.9 625.3 604.8 630C606.7 634.8 608.6 635.7 610.5 639.5C612.4 643.3 614.3 647.7 616.2 652.8C618 657.8 620.3 666.7 621.8 669.8C623.4 673 624.4 673 625.6 671.7C626.9 670.4 627.8 663.8 629.4 662.2C631 660.7 633.5 661.6 635.1 662.2C636.7 662.9 637.6 668.5 638.9 666C640.1 663.5 641.4 653.1 642.7 647.1C643.9 641.1 644.9 634.5 646.4 630C648 625.6 649.9 622.8 652.1 620.6C654.3 618.4 657.2 617.6 659.7 616.8C662.2 616 664.7 617 667.3 616C669.8 615.1 672.6 612.3 674.8 611.1C677.1 610 678.6 609.5 680.5 609.2C682.4 608.9 684.6 607.6 686.2 609.2C687.8 610.8 688.7 614.9 690 618.7C691.3 622.5 692.5 626.3 693.8 631.9C695 637.6 696.3 646.8 697.6 652.8C698.8 658.8 699.8 665.7 701.4 667.9C702.9 670.1 704.8 667.6 707 666C709.2 664.4 712.1 660.7 714.6 658.4C717.1 656.2 720 654 722.2 652.8C724.4 651.5 726 650.9 727.9 650.9C729.7 650.9 731.3 652.8 733.5 652.8C735.7 652.8 738.9 652.5 741.1 650.9C743.3 649.3 745.2 647.1 746.8 643.3C748.4 639.5 749.3 633.5 750.6 628.2C751.8 622.8 752.8 614.8 754.4 611.1C755.9 607.5 757.8 607.1 760 606.2C762.2 605.2 765.1 605.1 767.6 605.4C770.1 605.8 772.7 607.2 775.2 608.5C777.7 609.7 780.2 611 782.8 613C785.3 615 788.1 617.1 790.3 620.6C792.5 624.1 794.1 629.1 796 633.8C797.9 638.6 799.5 645.8 801.7 649C803.9 652.1 806.7 652.8 809.3 652.8C811.8 652.8 814.3 649.6 816.8 649C819.4 648.4 821.9 649.4 824.4 649C826.9 648.5 829.5 648.5 832 646.3C834.5 644.1 837 639.4 839.6 635.7C842.1 632.1 844.6 627.5 847.1 624.4C849.7 621.2 852.2 618.4 854.7 616.8C857.2 615.2 859.8 616.3 862.3 614.9C864.8 613.5 867.6 608.8 869.8 608.5C872.1 608.2 873.6 609.7 875.5 613C877.4 616.3 879 623.4 881.2 628.2C883.4 632.9 886.3 637 888.8 641.4C891.3 645.8 893.8 651.2 896.4 654.7C898.9 658.1 901.4 661.3 903.9 662.2C906.5 663.2 909.6 664.8 911.5 660.3C913.4 655.9 914 641.4 915.3 635.7C916.5 630 917.5 627.8 919.1 626.3C920.6 624.7 922.9 626.9 924.8 626.3C926.6 625.6 928.5 624.1 930.4 622.5C932.3 620.9 934.5 618.1 936.1 616.8C937.7 615.5 939 612.4 939.9 614.9C940.8 617.4 940.8 625.9 941.8 631.9C942.7 637.9 944.6 645.5 945.6 650.9C946.5 656.2 946.5 663.5 947.5 664.1C948.4 664.8 950.2 660 951.3 654.7C952.3 649.3 953.5 635.7 953.9 631.9" stroke="#96c05c" stroke-width="1.5"/>
<path d="M951.3 669.8C950.6 674.2 948.7 688.1 947.5 696.3C946.2 704.5 944.6 714 943.7 719C942.7 724.1 942.7 724.7 941.8 726.6C940.8 728.5 939 727.2 938 730.4C937.1 733.5 937.1 745.2 936.1 745.5C935.2 745.9 933.6 734.2 932.3 732.3C931.1 730.4 929.8 732 928.5 734.2C927.3 736.4 926 742.4 924.8 745.5C923.5 748.7 922.9 752.2 921 753.1C919.1 754.1 915.3 750.9 913.4 751.2C911.5 751.5 911.2 753.4 909.6 755C908 756.6 905.5 758.5 903.9 760.7C902.3 762.9 902 766 900.1 768.3C898.2 770.5 894.8 772.7 892.6 773.9C890.4 775.2 888.8 774.6 886.9 775.8C885 777.1 883.1 780.2 881.2 781.5C879.3 782.8 877.1 781.5 875.5 783.4C873.9 785.3 873 791.6 871.7 792.9C870.5 794.1 869.2 793.1 868 791C866.7 788.9 865.7 780.7 864.2 780.4C862.6 780.1 860.4 786.4 858.5 789.1C856.6 791.8 854.7 794.4 852.8 796.7C850.9 798.9 848.7 799.2 847.1 802.3C845.6 805.5 844.5 811 843.3 815.6C842.2 820.1 841.4 829.3 840.3 829.6C839.2 829.9 837.9 821.1 836.5 817.5C835.1 813.9 833.7 809.9 832 808C830.3 806.1 828.2 805.8 826.3 806.1C824.4 806.4 822.5 809.1 820.6 809.9C818.7 810.7 816.5 810.3 814.9 810.7C813.4 811 812.4 809.4 811.2 811.8C809.9 814.2 808.4 821.5 807.4 825.1C806.3 828.6 805.8 833.4 804.7 833.4C803.6 833.4 802.4 828.6 800.9 825.1C799.5 821.5 797.8 814.2 796 811.8C794.2 809.4 792.2 810.3 790.3 810.7C788.4 811 786.2 811 784.7 813.7C783.1 816.4 782.1 826.3 780.9 826.9C779.6 827.6 778.3 823.2 777.1 817.5C775.8 811.8 774.6 795.4 773.3 792.9C772 790.3 770.8 798.9 769.5 802.3C768.2 805.8 767.3 811.7 765.7 813.7C764.1 815.7 761.9 815.1 760 814.4C758.1 813.8 756.3 811.9 754.4 809.9C752.5 807.9 750.6 804.5 748.7 802.3C746.8 800.1 744.9 797.3 743 796.7C741.1 796 738.9 799.5 737.3 798.5C735.7 797.6 734.8 795.4 733.5 791C732.3 786.6 731 776.5 729.7 772C728.5 767.6 727.2 763.2 726 764.5C724.7 765.7 723.4 773.9 722.2 779.6C720.9 785.3 719.7 794.1 718.4 798.5C717.1 803 715.9 804.5 714.6 806.1C713.3 807.7 712.1 808.6 710.8 808C709.6 807.4 708.6 805.8 707 802.3C705.5 798.9 703.2 791.3 701.4 787.2C699.5 783.1 697.6 779.3 695.7 777.7C693.8 776.1 691.9 776.1 690 777.7C688.1 779.3 686.2 783.7 684.3 787.2C682.4 790.7 680.5 796.3 678.6 798.5C676.7 800.8 674.8 801.1 673 800.4C671.1 799.8 668.9 797.6 667.3 794.8C665.7 791.9 664.7 785.3 663.5 783.4C662.2 781.5 661 781.5 659.7 783.4C658.4 785.3 657.2 791.9 655.9 794.8C654.7 797.6 653.4 801.7 652.1 800.4C650.9 799.2 649.6 792.6 648.3 787.2C647.1 781.8 645.8 770.1 644.6 768.3C643.3 766.4 642 771.4 640.8 775.8C639.5 780.2 638.2 789.1 637 794.8C635.7 800.4 634.8 806.1 633.2 809.9C631.6 813.7 629.4 816.8 627.5 817.5C625.6 818.1 623.7 815.3 621.8 813.7C619.9 812.1 618 809.3 616.2 808C614.3 806.7 612.2 802 610.5 806.1C608.7 810.2 606.8 830.1 605.6 832.6C604.3 835.1 604 828.8 602.9 821.3C601.8 813.7 600.2 796.3 599.1 787.2C598 778 597.4 767.6 596.5 766.4C595.5 765.1 594.6 773.6 593.4 779.6C592.3 785.6 591 795.7 589.7 802.3C588.3 809 586.4 821.9 585.1 819.4C583.8 816.8 583.1 802 582.1 787.2C581.1 772.4 580 735.4 579 730.4C578.1 725.3 577.3 747.4 576.4 756.9C575.5 766.4 575 776.5 573.7 787.2C572.5 797.9 570.3 818.7 568.8 821.3C567.4 823.8 566.1 812.4 565 802.3C564 792.2 563.3 767 562.4 760.7C561.4 754.4 560.4 761.3 559.4 764.5C558.3 767.6 557.1 775.1 556.3 779.6C555.6 784.2 555.3 793 554.8 791.7C554.4 790.5 553.9 775.3 553.7 772" stroke="#96c05c" stroke-width="1.5"/>
<path d="M553.7 768.3C553.7 762.6 553.4 743.6 553.7 734.2C554 724.7 554.6 719.7 555.6 711.5C556.5 703.3 558.1 693.2 559.4 685C560.6 676.7 561.6 669.8 563.1 662.2C564.7 654.7 566.9 645.8 568.8 639.5C570.7 633.2 572.3 629.4 574.5 624.4C576.7 619.3 579.2 613.1 582.1 609.2C584.9 605.3 589 601.7 591.5 600.9C594.1 600.1 595.3 602 597.2 604.7C599.1 607.3 600.7 611.9 602.9 616.8C605.1 621.7 608 628.5 610.5 633.8C613 639.2 615.5 644.8 618 649C620.6 653.2 623.1 657.3 625.6 659.2C628.1 661.1 630.7 661.7 633.2 660.3C635.7 659 638.2 655.6 640.8 650.9C643.3 646.1 645.8 637.9 648.3 631.9C650.9 625.9 653.4 619.3 655.9 614.9C658.4 610.5 661 607.3 663.5 605.4C666 603.5 668.5 603.2 671.1 603.5C673.6 603.9 676.1 605.1 678.6 607.3C681.2 609.5 683.7 612.7 686.2 616.8C688.7 620.9 691.3 626.9 693.8 631.9C696.3 637 698.8 642 701.4 647.1C703.9 652.1 706.7 658.8 708.9 662.2C711.1 665.7 712.4 667.3 714.6 667.9C716.8 668.5 719.7 667.5 722.2 666C724.7 664.6 726.9 661.7 729.7 659.2C732.6 656.7 736.1 654.2 739.2 650.9C742.4 647.6 745.8 644.6 748.7 639.5C751.5 634.5 753.7 626.3 756.3 620.6C758.8 614.9 761.3 608.8 763.8 605.4C766.4 602.1 768.9 600.5 771.4 600.5C773.9 600.5 776.4 603.4 779 605.4C781.5 607.5 784 609.9 786.5 613C789.1 616.2 791.6 620 794.1 624.4C796.6 628.8 799.2 635.1 801.7 639.5C804.2 643.9 806.7 648 809.3 650.9C811.8 653.7 814.3 655.9 816.8 656.6C819.4 657.2 821.9 656.2 824.4 654.7C826.9 653.1 829.5 650.2 832 647.1C834.5 643.9 837 639.5 839.6 635.7C842.1 631.9 844.6 627.8 847.1 624.4C849.7 620.9 852.2 617.7 854.7 614.9C857.2 612.1 859.8 608.6 862.3 607.3C864.8 606.1 867.3 605.8 869.8 607.3C872.4 608.9 874.9 612.7 877.4 616.8C879.9 620.9 882.5 627.2 885 631.9C887.5 636.7 890 640.8 892.6 645.2C895.1 649.6 897.6 655.5 900.1 658.4C902.7 661.4 905.5 663 907.7 663C909.9 663 911.5 663 913.4 658.4C915.3 653.9 917.2 643.3 919.1 635.7C921 628.2 922.9 618.7 924.8 613C926.6 607.3 928.5 602.6 930.4 601.7C932.3 600.7 934.2 603.2 936.1 607.3C938 611.4 939.9 618.7 941.8 626.3C943.7 633.8 946.2 645.8 947.5 652.8C948.7 659.7 948.4 668.2 949.4 667.9C950.3 667.6 952.2 656.2 953.1 650.9C954.1 645.5 955 634.5 955 635.7C955 637 953.9 652.1 953.1 658.4C952.4 664.8 951.4 668.5 950.5 673.6C949.6 678.6 948.4 683.7 947.5 688.7C946.5 693.8 945.8 698.8 944.8 703.9C943.9 708.9 942.9 714.6 941.8 719C940.7 723.4 939.9 726.9 938 730.4C936.1 733.9 933 737 930.4 739.9C927.9 742.7 925.4 744.9 922.9 747.4C920.3 750 917.8 752.8 915.3 755C912.8 757.2 910.2 758.5 907.7 760.7C905.2 762.9 902.7 765.7 900.1 768.3C897.6 770.8 895.1 773.6 892.6 775.8C890 778 887.5 779.7 885 781.5C882.5 783.3 879.9 785.2 877.4 786.4C874.9 787.7 872.4 788.3 869.8 789.1C867.3 789.8 864.8 789.7 862.3 791C859.8 792.2 857.2 794.8 854.7 796.7C852.2 798.5 849.7 799.8 847.1 802.3C844.6 804.9 842.1 809.8 839.6 811.8C837 813.8 834.5 814 832 814.4C829.5 814.9 826.9 814.4 824.4 814.4C821.9 814.4 819.4 814.4 816.8 814.4C814.3 814.4 811.8 814.6 809.3 814.4C806.7 814.3 804.2 813.9 801.7 813.7C799.2 813.4 796.6 813.3 794.1 812.9C791.6 812.6 788.8 812.3 786.5 811.8C784.3 811.3 783.1 810.9 780.9 809.9C778.7 809 775.5 806.1 773.3 806.1C771.1 806.1 769.5 808.8 767.6 809.9C765.7 811 764.1 812.2 761.9 812.9C759.7 813.7 757.2 814.2 754.4 814.4C751.5 814.7 748.1 814.4 744.9 814.4C741.7 814.5 738.6 814.8 735.4 814.8C732.3 814.8 728.8 814.6 726 814.4C723.1 814.3 720.9 814.1 718.4 813.7C715.9 813.3 713 812.7 710.8 811.8C708.6 810.9 707 809.3 705.1 808C703.2 806.7 701.7 805.5 699.5 804.2C697.2 803 694.4 801.4 691.9 800.4C689.4 799.5 686.8 798.9 684.3 798.5C681.8 798.2 679.3 798.4 676.7 798.5C674.2 798.7 671.7 798.8 669.2 799.3C666.6 799.8 664.1 800.8 661.6 801.6C659.1 802.4 656.5 803.3 654 804.2C651.5 805.1 649 806.1 646.4 806.9C643.9 807.7 641.4 808.6 638.9 809.1C636.4 809.7 633.5 810.1 631.3 809.9C629.1 809.7 627.5 809.3 625.6 808C623.7 806.7 622.2 804.5 619.9 802.3C617.7 800.1 614.9 797 612.4 794.8C609.8 792.6 607.3 790.7 604.8 789.1C602.3 787.5 599.4 786.1 597.2 785.3C595 784.5 593.8 784.4 591.5 784.5C589.3 784.7 586.5 785.3 584 786.1C581.4 786.8 578.6 787.6 576.4 789.1C574.2 790.5 572.6 793.5 570.7 794.8C568.8 796 566.6 797.3 565 796.7C563.5 796 562.5 793.2 561.3 791C560 788.8 558.7 786.6 557.5 783.4C556.2 780.2 554.3 774.6 553.7 772C553 769.5 553.7 768.9 553.7 768.3" stroke="#4678b8" stroke-width="2.8"/>
<path d="M553.7 768.3C553.7 762.6 553.4 743.6 553.7 734.2C554 724.7 554.6 719.7 555.6 711.5C556.5 703.3 558.1 693.2 559.4 685C560.6 676.7 561.6 669.8 563.1 662.2C564.7 654.7 566.9 645.8 568.8 639.5C570.7 633.2 572.3 629.4 574.5 624.4C576.7 619.3 579.2 613.1 582.1 609.2C584.9 605.3 589 601.7 591.5 600.9C594.1 600.1 595.3 602 597.2 604.7C599.1 607.3 600.7 611.9 602.9 616.8C605.1 621.7 608 628.5 610.5 633.8C613 639.2 615.5 644.8 618 649C620.6 653.2 623.1 657.3 625.6 659.2C628.1 661.1 630.7 661.7 633.2 660.3C635.7 659 638.2 655.6 640.8 650.9C643.3 646.1 645.8 637.9 648.3 631.9C650.9 625.9 653.4 619.6 655.9 614.9C658.4 610.2 661 605.8 663.5 603.5C666 601.3 668.5 601 671.1 601.7C673.6 602.3 676.1 604.8 678.6 607.3C681.2 609.9 683.7 612.7 686.2 616.8C688.7 620.9 691.3 626.9 693.8 631.9C696.3 637 698.8 642 701.4 647.1C703.9 652.1 706.7 658.8 708.9 662.2C711.1 665.7 712.4 667.3 714.6 667.9C716.8 668.5 719.7 667.5 722.2 666C724.7 664.6 726.9 661.7 729.7 659.2C732.6 656.7 736.1 654.2 739.2 650.9C742.4 647.6 745.8 644.6 748.7 639.5C751.5 634.5 753.7 625.8 756.3 620.6C758.8 615.4 761.3 611.3 763.8 608.5C766.4 605.6 768.9 603.5 771.4 603.5C773.9 603.5 776.4 606.9 779 608.5C781.5 610 784 610.4 786.5 613C789.1 615.7 791.6 620 794.1 624.4C796.6 628.8 799.2 635.1 801.7 639.5C804.2 643.9 806.7 648 809.3 650.9C811.8 653.7 814.3 655.9 816.8 656.6C819.4 657.2 821.9 656.2 824.4 654.7C826.9 653.1 829.5 650.2 832 647.1C834.5 643.9 837 639.5 839.6 635.7C842.1 631.9 844.6 627.8 847.1 624.4C849.7 620.9 852.2 617.7 854.7 614.9C857.2 612.1 859.8 608.6 862.3 607.3C864.8 606.1 867.3 605.8 869.8 607.3C872.4 608.9 874.9 612.7 877.4 616.8C879.9 620.9 882.5 627.2 885 631.9C887.5 636.7 890 640.8 892.6 645.2C895.1 649.6 897.6 655.5 900.1 658.4C902.7 661.4 905.5 663 907.7 663C909.9 663 911.5 663 913.4 658.4C915.3 653.9 917.2 643.3 919.1 635.7C921 628.2 922.9 618.7 924.8 613C926.6 607.3 928.5 602.6 930.4 601.7C932.3 600.7 934.2 603.2 936.1 607.3C938 611.4 939.9 618.7 941.8 626.3C943.7 633.8 946.2 645.8 947.5 652.8C948.7 659.7 948.4 668.2 949.4 667.9C950.3 667.6 952.2 656.2 953.1 650.9C954.1 645.5 955 634.5 955 635.7C955 637 953.9 652.1 953.1 658.4C952.4 664.8 951.4 668.5 950.5 673.6C949.6 678.6 948.4 683.7 947.5 688.7C946.5 693.8 945.8 698.8 944.8 703.9C943.9 708.9 942.9 714.6 941.8 719C940.7 723.4 939.9 726.9 938 730.4C936.1 733.9 933 737 930.4 739.9C927.9 742.7 925.4 744.9 922.9 747.4C920.3 750 917.8 752.8 915.3 755C912.8 757.2 910.2 758.5 907.7 760.7C905.2 762.9 902.7 765.7 900.1 768.3C897.6 770.8 895.1 773.6 892.6 775.8C890 778 887.5 779.7 885 781.5C882.5 783.3 879.9 785.2 877.4 786.4C874.9 787.7 872.4 788.3 869.8 789.1C867.3 789.8 864.8 789.7 862.3 791C859.8 792.2 857.2 794.8 854.7 796.7C852.2 798.5 849.7 799.8 847.1 802.3C844.6 804.9 842.1 809.8 839.6 811.8C837 813.8 834.5 814 832 814.4C829.5 814.9 826.9 814.4 824.4 814.4C821.9 814.4 819.4 814.4 816.8 814.4C814.3 814.4 811.8 814.6 809.3 814.4C806.7 814.3 804.2 813.9 801.7 813.7C799.2 813.4 796.6 813.3 794.1 812.9C791.6 812.6 788.8 812.3 786.5 811.8C784.3 811.3 783.1 810.3 780.9 809.9C778.7 809.5 775.5 808.6 773.3 809.1C771.1 809.7 769.5 812.3 767.6 812.9C765.7 813.6 764.1 812.7 761.9 812.9C759.7 813.2 757.2 814.2 754.4 814.4C751.5 814.7 748.1 814.4 744.9 814.4C741.7 814.5 738.6 814.8 735.4 814.8C732.3 814.8 728.8 814.6 726 814.4C723.1 814.3 720.9 814.1 718.4 813.7C715.9 813.3 713 812.7 710.8 811.8C708.6 810.9 707 809.3 705.1 808C703.2 806.7 701.7 805.5 699.5 804.2C697.2 803 694.4 801.4 691.9 800.4C689.4 799.5 686.8 798.9 684.3 798.5C681.8 798.2 679.3 798.4 676.7 798.5C674.2 798.7 671.7 798.8 669.2 799.3C666.6 799.8 664.1 800.8 661.6 801.6C659.1 802.4 656.5 803.3 654 804.2C651.5 805.1 649 806.1 646.4 806.9C643.9 807.7 641.4 808.6 638.9 809.1C636.4 809.7 633.5 810.1 631.3 809.9C629.1 809.7 627.5 809.3 625.6 808C623.7 806.7 622.2 804.5 619.9 802.3C617.7 800.1 614.9 797 612.4 794.8C609.8 792.6 607.3 790.7 604.8 789.1C602.3 787.5 599.4 786.1 597.2 785.3C595 784.5 593.8 784.4 591.5 784.5C589.3 784.7 586.5 785.3 584 786.1C581.4 786.8 578.6 787.6 576.4 789.1C574.2 790.5 572.6 793.5 570.7 794.8C568.8 796 566.6 797.3 565 796.7C563.5 796 562.5 793.2 561.3 791C560 788.8 558.7 786.6 557.5 783.4C556.2 780.2 554.3 774.6 553.7 772C553 769.5 553.7 768.9 553.7 768.3" stroke="#bf504c" stroke-width="1.8"/>
</g>
<rect x="1064.7" y="569" width="419.3" height="382.5" fill="none" stroke="#d9d9d9" stroke-width="1.1"/>
<text class="t" x="1055.2" y="956" text-anchor="end">50</text>
<text class="t" x="1055.2" y="901.4" text-anchor="end">60</text>
<text class="t" x="1055.2" y="846.7" text-anchor="end">70</text>
<text class="t" x="1055.2" y="792.1" text-anchor="end">80</text>
<text class="t" x="1055.2" y="737.4" text-anchor="end">90</text>
<text class="t" x="1055.2" y="682.8" text-anchor="end">100</text>
<text class="t" x="1055.2" y="628.1" text-anchor="end">110</text>
<text class="t" x="1055.2" y="573.5" text-anchor="end">120</text>
<text class="t" x="1063.7" y="973.8" text-anchor="middle">0</text>
<text class="t" x="1140.1" y="973.8" text-anchor="middle">1</text>
<text class="t" x="1216.4" y="973.8" text-anchor="middle">2</text>
<text class="t" x="1292.8" y="973.8" text-anchor="middle">3</text>
<text class="t" x="1369.1" y="973.8" text-anchor="middle">4</text>
<text class="t" x="1445.5" y="973.8" text-anchor="middle">5</text>
<text class="ax" x="1137.7" y="987.2">Suspension point displacement(m)</text>
<text class="ax ay" transform="translate(1033.8 762) rotate(-90)" text-anchor="middle">Polished rod load(KN)</text>
<line x1="1351.2" y1="897.4" x2="1383.2" y2="897.4" stroke="#4678b8" stroke-width="2.2"/>
<text class="lg" x="1387.6" y="902">Measured values</text>
<line x1="1351.2" y1="915.2" x2="1383.2" y2="915.2" stroke="#9bbd60" stroke-width="1.7"/>
<text class="lg" x="1387.6" y="919.8">RBF</text>
<line x1="1351.2" y1="933.2" x2="1383.2" y2="933.2" stroke="#bf504c" stroke-width="1.7"/>
<text class="lg" x="1387.6" y="937.8">CNN</text>
<text class="lb" transform="translate(1251.2 1044.5) scale(1.06 1.1)" text-anchor="middle">(g)</text>
<g fill="none" stroke-linejoin="round" stroke-linecap="round">
<path d="M1064.8 832.6C1065.3 828.8 1066.4 816.2 1067.5 809.9C1068.5 803.6 1070 799.8 1071.3 794.8C1072.5 789.7 1073.5 783.7 1075 779.6C1076.6 775.5 1078.5 773.3 1080.7 770.1C1082.9 767 1085.8 763.8 1088.3 760.7C1090.8 757.5 1093.7 754.4 1095.9 751.2C1098.1 748.1 1099.7 745.5 1101.5 741.7C1103.4 738 1105.3 732.9 1107.2 728.5C1109.1 724.1 1111 719.3 1112.9 715.2C1114.8 711.1 1116.4 707.4 1118.6 703.9C1120.8 700.4 1123.6 697.6 1126.2 694.4C1128.7 691.3 1131.5 688.1 1133.7 685C1135.9 681.8 1137.5 679.3 1139.4 675.5C1141.3 671.7 1143.2 666.3 1145.1 662.2C1147 658.1 1148.9 655.3 1150.8 650.9C1152.7 646.5 1154.2 640.5 1156.4 635.7C1158.7 631 1161.5 626.3 1164 622.5C1166.5 618.7 1169.1 616.2 1171.6 613C1174.1 609.9 1176.3 606.4 1179.2 603.5C1182 600.7 1185.5 598.2 1188.6 596C1191.8 593.8 1195.3 592.2 1198.1 590.3C1200.9 588.4 1203.5 584.6 1205.7 584.6C1207.9 584.6 1209.5 588.1 1211.4 590.3C1213.2 592.5 1214.8 596 1217 597.9C1219.2 599.8 1222.1 599.8 1224.6 601.7C1227.1 603.5 1229.7 606.8 1232.2 609.2C1234.7 611.6 1237.2 614.1 1239.7 616C1242.3 617.9 1245.1 620.1 1247.3 620.6C1249.5 621 1251.1 619.4 1253 618.7C1254.9 617.9 1256.5 616.4 1258.7 616C1260.9 615.7 1263.4 617 1266.3 616.8C1269.1 616.6 1272.9 616.5 1275.7 614.9C1278.6 613.3 1280.8 609.2 1283.3 607.3C1285.8 605.4 1288.7 603.5 1290.9 603.5C1293.1 603.5 1295 605.1 1296.5 607.3C1298.1 609.5 1299.1 614.6 1300.3 616.8C1301.6 619 1302.9 621.8 1304.1 620.6C1305.4 619.3 1306.6 612.7 1307.9 609.2C1309.2 605.8 1309.8 601.7 1311.7 599.8C1313.6 597.9 1317.1 597.2 1319.3 597.9C1321.5 598.5 1323.1 601.7 1324.9 603.5C1326.8 605.4 1328.4 608.6 1330.6 609.2C1332.8 609.9 1335.7 606.7 1338.2 607.3C1340.7 608 1343.2 611.4 1345.8 613C1348.3 614.6 1350.8 616.7 1353.3 616.8C1355.9 616.9 1358.4 613.9 1360.9 613.8C1363.4 613.6 1365.6 615.7 1368.5 616C1371.3 616.4 1375.1 617.2 1378 616C1380.8 614.9 1383 610.7 1385.5 609.2C1388.1 607.8 1390.9 608 1393.1 607.3C1395.3 606.7 1396.9 604.8 1398.8 605.4C1400.7 606.1 1402.3 611.4 1404.5 611.1C1406.7 610.8 1409.8 604.2 1412 603.5C1414.2 602.9 1415.8 605.8 1417.7 607.3C1419.6 608.9 1421.2 611.6 1423.4 613C1425.6 614.5 1428.4 615.5 1431 616C1433.5 616.5 1436.3 617.5 1438.5 616C1440.7 614.6 1442.3 610.4 1444.2 607.3C1446.1 604.3 1448 600.1 1449.9 597.9C1451.8 595.7 1453.7 595 1455.6 594.1C1457.5 593.1 1459.7 592.2 1461.3 592.2C1462.8 592.2 1464.1 593.1 1465 594.1C1466 595 1466.3 596 1466.9 597.9C1467.6 599.8 1468.8 602.3 1468.8 605.4C1468.8 608.6 1467.6 611.7 1466.9 616.8C1466.3 621.8 1466 629.4 1465 635.7C1464.1 642 1462.5 648.4 1461.3 654.7C1460 661 1458.7 667.9 1457.5 673.6C1456.2 679.3 1454.9 683.7 1453.7 688.7C1452.4 693.8 1451.2 698.8 1449.9 703.9C1448.6 708.9 1447.4 714.6 1446.1 719C1444.8 723.4 1443.6 731 1442.3 730.4C1441.1 729.8 1439.5 715.2 1438.5 715.2C1437.6 715.2 1437.6 725.3 1436.6 730.4C1435.7 735.4 1434.4 742.1 1432.9 745.5C1431.3 749 1429.1 750 1427.2 751.2C1425.3 752.5 1423.1 750.6 1421.5 753.1C1419.9 755.6 1419 765.4 1417.7 766.4C1416.5 767.3 1415.5 760.4 1413.9 758.8C1412.3 757.2 1410.1 755.9 1408.2 756.9C1406.4 757.8 1404.1 764.5 1402.6 764.5C1401 764.5 1400.7 757.5 1398.8 756.9C1396.9 756.3 1393.7 759.1 1391.2 760.7C1388.7 762.3 1385.5 764.5 1383.6 766.4C1381.7 768.3 1381.1 769.2 1379.8 772C1378.6 774.9 1377.3 779.6 1376.1 783.4C1374.8 787.2 1373.9 790.3 1372.3 794.8C1370.7 799.2 1368.5 806.1 1366.6 809.9C1364.7 813.7 1363.1 815.9 1360.9 817.5C1358.7 819.1 1355.9 819.1 1353.3 819.4C1350.8 819.7 1348.3 819.1 1345.8 819.4C1343.2 819.7 1340.7 820 1338.2 821.3C1335.7 822.5 1332.8 824.4 1330.6 826.9C1328.4 829.5 1326.8 832 1324.9 836.4C1323.1 840.8 1321.2 847.1 1319.3 853.4C1317.4 859.8 1315.5 868.3 1313.6 874.3C1311.7 880.3 1309.8 884.7 1307.9 889.4C1306 894.2 1304.1 898.9 1302.2 902.7C1300.3 906.5 1298.8 909.8 1296.5 912.1C1294.3 914.5 1291.5 916.4 1289 916.7C1286.4 917 1283.9 915.7 1281.4 914C1278.9 912.3 1276 909.9 1273.8 906.5C1271.6 903 1270 897.9 1268.1 893.2C1266.3 888.5 1264.7 883.4 1262.5 878.1C1260.3 872.7 1257.4 866.1 1254.9 861C1252.4 856 1249.8 851.2 1247.3 847.8C1244.8 844.3 1242.3 841.6 1239.7 840.2C1237.2 838.8 1234.7 838.8 1232.2 839.4C1229.7 840.1 1227.1 841.3 1224.6 844C1222.1 846.6 1219.6 850.9 1217 855.3C1214.5 859.8 1211.7 865.4 1209.5 870.5C1207.2 875.5 1205.7 880.6 1203.8 885.6C1201.9 890.7 1199.8 896.7 1198.1 900.8C1196.4 904.9 1195.1 910.2 1193.6 910.2C1192 910.2 1190.4 903.6 1188.6 900.8C1186.9 897.9 1185.2 895.1 1183 893.2C1180.7 891.3 1177.9 890.7 1175.4 889.4C1172.9 888.2 1170 887.5 1167.8 885.6C1165.6 883.7 1164 880.9 1162.1 878.1C1160.2 875.2 1158.3 870.5 1156.4 868.6C1154.6 866.7 1152.7 867 1150.8 866.7C1148.9 866.4 1147.3 866.7 1145.1 866.7C1142.9 866.7 1138.8 866.7 1137.5 866.7" stroke="#9bbd60" stroke-width="1.5"/>
<path d="M1138.3 849.7C1137.2 848.7 1134.2 845.6 1131.8 844C1129.5 842.4 1126.5 841.3 1124.3 840.2C1122.1 839.1 1120.5 837.6 1118.6 837.2C1116.7 836.7 1114.8 836.7 1112.9 837.5C1111 838.4 1108.9 839.8 1107.2 842.1C1105.5 844.4 1104.3 847.5 1102.7 851.6C1101.1 855.7 1099.5 863.5 1097.8 866.7C1096 869.9 1094 870 1092.1 870.5C1090.2 871 1088.3 870.4 1086.4 869.7C1084.5 869.1 1082.6 868.2 1080.7 866.7C1078.8 865.3 1076.6 863.5 1075 861C1073.5 858.5 1072.5 855.7 1071.3 851.6C1070 847.5 1068.5 839.6 1067.5 836.4C1066.4 833.3 1065.3 833.3 1064.8 832.6" stroke="#9bbd60" stroke-width="1.5"/>
<path d="M1064.8 847.8C1064.8 844 1064.4 832.6 1064.8 825.1C1065.3 817.5 1066.4 808.6 1067.5 802.3C1068.5 796 1070 791.6 1071.3 787.2C1072.5 782.8 1073.5 779 1075 775.8C1076.6 772.7 1078.5 770.8 1080.7 768.3C1082.9 765.7 1085.8 763.5 1088.3 760.7C1090.8 757.8 1093.7 754.4 1095.9 751.2C1098.1 748.1 1099.7 745.5 1101.5 741.7C1103.4 738 1105.3 733.2 1107.2 728.5C1109.1 723.8 1111 717.8 1112.9 713.4C1114.8 708.9 1116.4 705.1 1118.6 702C1120.8 698.8 1123.6 697.3 1126.2 694.4C1128.7 691.6 1131.5 688.1 1133.7 685C1135.9 681.8 1137.5 679.3 1139.4 675.5C1141.3 671.7 1143.2 666.7 1145.1 662.2C1147 657.8 1148.9 653.4 1150.8 649C1152.7 644.6 1154.2 640.1 1156.4 635.7C1158.7 631.3 1161.5 626.3 1164 622.5C1166.5 618.7 1169.1 616.2 1171.6 613C1174.1 609.9 1176.3 606.4 1179.2 603.5C1182 600.7 1185.5 598.2 1188.6 596C1191.8 593.8 1195.6 592.5 1198.1 590.3C1200.6 588.1 1202.2 585.1 1203.8 582.7C1205.4 580.3 1206 576.2 1207.6 575.9C1209.1 575.6 1211.4 578.1 1213.2 580.8C1215.1 583.5 1216.7 588.7 1218.9 592.2C1221.1 595.7 1224 598.8 1226.5 601.7C1229 604.5 1231.5 606.7 1234.1 609.2C1236.6 611.7 1239.1 614.3 1241.6 616.8C1244.2 619.3 1246.7 622.6 1249.2 624.4C1251.7 626.1 1253.9 626.5 1256.8 627.4C1259.6 628.3 1263.4 629.9 1266.3 630C1269.1 630.2 1271.3 630 1273.8 628.2C1276.4 626.3 1278.9 622.5 1281.4 618.7C1283.9 614.9 1286.1 608.9 1289 605.4C1291.8 602 1295.3 599.4 1298.4 597.9C1301.6 596.3 1304.4 596.3 1307.9 596C1311.4 595.7 1315.8 595.3 1319.3 596C1322.7 596.6 1325.9 598.2 1328.7 599.8C1331.6 601.3 1333.8 602.6 1336.3 605.4C1338.8 608.3 1341 613 1343.9 616.8C1346.7 620.6 1350.5 625.3 1353.3 628.2C1356.2 631 1358.4 633.2 1360.9 633.8C1363.4 634.5 1366 633.2 1368.5 631.9C1371 630.7 1373.5 628.8 1376.1 626.3C1378.6 623.7 1381.1 620.3 1383.6 616.8C1386.2 613.3 1389 609.9 1391.2 605.4C1393.4 601 1395 592.5 1396.9 590.3C1398.8 588.1 1400.4 590.9 1402.6 592.2C1404.8 593.4 1407.6 596 1410.1 597.9C1412.7 599.8 1415.2 601.3 1417.7 603.5C1420.2 605.8 1422.8 608 1425.3 611.1C1427.8 614.3 1430.6 619.6 1432.9 622.5C1435.1 625.3 1436.6 628.2 1438.5 628.2C1440.4 628.2 1442.3 627.5 1444.2 622.5C1446.1 617.4 1447.7 603.5 1449.9 597.9C1452.1 592.2 1455.6 589.3 1457.5 588.4C1459.4 587.5 1460.2 590.6 1461.3 592.2C1462.3 593.8 1463.1 598.5 1463.9 597.9C1464.7 597.2 1465.5 591.9 1466.2 588.4C1466.8 584.9 1467.2 575.5 1467.7 577C1468.2 578.6 1469 591.2 1469.2 597.9C1469.4 604.5 1469.5 610.5 1468.8 616.8C1468.1 623.1 1466.3 629.4 1465 635.7C1463.8 642 1462.5 648.4 1461.3 654.7C1460 661 1458.7 667.9 1457.5 673.6C1456.2 679.3 1454.9 683.7 1453.7 688.7C1452.4 693.8 1451.2 699.5 1449.9 703.9C1448.6 708.3 1447.7 712.1 1446.1 715.2C1444.5 718.4 1442 719.7 1440.4 722.8C1438.9 726 1437.9 730.4 1436.6 734.2C1435.4 738 1434.1 742.4 1432.9 745.5C1431.6 748.7 1430.3 750.6 1429.1 753.1C1427.8 755.6 1426.5 758.2 1425.3 760.7C1424 763.2 1422.9 765.7 1421.5 768.3C1420.1 770.8 1418.5 775.5 1417 775.8C1415.4 776.1 1413.8 772.4 1412 770.1C1410.3 767.9 1408.2 765.1 1406.4 762.6C1404.5 760.1 1402.9 757.3 1400.7 755C1398.5 752.7 1395.3 748.9 1393.1 748.6C1390.9 748.2 1389.3 750.5 1387.4 753.1C1385.5 755.8 1383.3 760.7 1381.7 764.5C1380.2 768.3 1379.2 771.4 1378 775.8C1376.7 780.2 1375.7 785.9 1374.2 791C1372.6 796 1370.4 802.3 1368.5 806.1C1366.6 809.9 1365 811.8 1362.8 813.7C1360.6 815.6 1357.8 816.7 1355.2 817.5C1352.7 818.2 1350.2 817.9 1347.7 818.2C1345.1 818.6 1342.6 818.2 1340.1 819.4C1337.6 820.5 1334.7 822.8 1332.5 825.1C1330.3 827.3 1328.7 828.8 1326.8 832.6C1324.9 836.4 1323.1 842.1 1321.2 847.8C1319.3 853.4 1317.4 860.4 1315.5 866.7C1313.6 873 1311.7 880 1309.8 885.6C1307.9 891.3 1306.3 896.4 1304.1 900.8C1301.9 905.2 1299.1 909.5 1296.5 912.1C1294 914.8 1291.5 916.4 1289 916.7C1286.4 917 1283.9 915.7 1281.4 914C1278.9 912.3 1276 909.9 1273.8 906.5C1271.6 903 1270 897.9 1268.1 893.2C1266.3 888.5 1264.7 883.4 1262.5 878.1C1260.3 872.7 1257.4 866.1 1254.9 861C1252.4 856 1249.8 851.2 1247.3 847.8C1244.8 844.3 1242.3 841.6 1239.7 840.2C1237.2 838.8 1234.7 838.8 1232.2 839.4C1229.7 840.1 1227.1 842 1224.6 844C1222.1 846 1219.6 848.1 1217 851.6C1214.5 855 1212 860.1 1209.5 864.8C1206.9 869.5 1204.4 874.9 1201.9 880C1199.4 885 1196.5 891 1194.3 895.1C1192.1 899.2 1190.5 902.5 1188.6 904.6C1186.7 906.6 1184.8 907.9 1183 907.6C1181.1 907.3 1179.2 904.4 1177.3 902.7C1175.4 900.9 1173.5 899.2 1171.6 897C1169.7 894.8 1167.8 892.6 1165.9 889.4C1164 886.3 1162.4 881.5 1160.2 878.1C1158 874.6 1155.2 870.8 1152.7 868.6C1150.1 866.4 1147.6 866.1 1145.1 864.8C1142.6 863.5 1140 863.2 1137.5 861C1135 858.8 1132.5 854.4 1129.9 851.6C1127.4 848.7 1124.9 846.2 1122.4 844C1119.8 841.8 1117 838.6 1114.8 838.3C1112.6 838 1111 840.2 1109.1 842.1C1107.2 844 1105.1 846.2 1103.4 849.7C1101.7 853.1 1100.5 859.4 1098.9 862.9C1097.3 866.4 1095.7 869.2 1094 870.5C1092.2 871.8 1090.2 870.6 1088.3 870.5C1086.4 870.4 1084.5 870.4 1082.6 869.7C1080.7 869.1 1078.5 868.5 1076.9 866.7C1075.4 864.9 1074.4 862.9 1073.1 859.1C1071.9 855.3 1070.3 848.4 1069.4 844C1068.4 839.6 1068.2 833.9 1067.5 832.6C1066.7 831.4 1065.3 833.9 1064.8 836.4C1064.4 838.9 1064.8 845.9 1064.8 847.8" stroke="#4678b8" stroke-width="2.8"/>
<path d="M1064.8 847.8C1064.8 844 1064.4 832.6 1064.8 825.1C1065.3 817.5 1066.4 808.6 1067.5 802.3C1068.5 796 1070 791.6 1071.3 787.2C1072.5 782.8 1073.5 779 1075 775.8C1076.6 772.7 1078.5 770.8 1080.7 768.3C1082.9 765.7 1085.8 763.5 1088.3 760.7C1090.8 757.8 1093.7 754.4 1095.9 751.2C1098.1 748.1 1099.7 745.5 1101.5 741.7C1103.4 738 1105.3 733.2 1107.2 728.5C1109.1 723.8 1111 717.8 1112.9 713.4C1114.8 708.9 1116.4 705.1 1118.6 702C1120.8 698.8 1123.6 697.3 1126.2 694.4C1128.7 691.6 1131.5 688.1 1133.7 685C1135.9 681.8 1137.5 679.3 1139.4 675.5C1141.3 671.7 1143.2 666.7 1145.1 662.2C1147 657.8 1148.9 653.4 1150.8 649C1152.7 644.6 1154.2 640.1 1156.4 635.7C1158.7 631.3 1161.5 626.3 1164 622.5C1166.5 618.7 1169.1 616.2 1171.6 613C1174.1 609.9 1176.3 606.4 1179.2 603.5C1182 600.7 1185.5 598.2 1188.6 596C1191.8 593.8 1195.6 592.5 1198.1 590.3C1200.6 588.1 1202.2 585.1 1203.8 582.7C1205.4 580.3 1206 576.2 1207.6 575.9C1209.1 575.6 1211.4 578.1 1213.2 580.8C1215.1 583.5 1216.7 588.7 1218.9 592.2C1221.1 595.7 1224 598.8 1226.5 601.7C1229 604.5 1231.5 606.7 1234.1 609.2C1236.6 611.7 1239.1 614.3 1241.6 616.8C1244.2 619.3 1246.7 622.6 1249.2 624.4C1251.7 626.1 1253.9 626.5 1256.8 627.4C1259.6 628.3 1263.4 629.9 1266.3 630C1269.1 630.2 1271.3 630 1273.8 628.2C1276.4 626.3 1278.9 623.1 1281.4 618.7C1283.9 614.3 1286.1 605.8 1289 601.7C1291.8 597.5 1295.3 595.7 1298.4 594.1C1301.6 592.5 1304.4 592.5 1307.9 592.2C1311.4 591.9 1315.8 591.6 1319.3 592.2C1322.7 592.8 1325.9 593.8 1328.7 596C1331.6 598.2 1333.8 602 1336.3 605.4C1338.8 608.9 1341 614 1343.9 616.8C1346.7 619.6 1350.5 620.6 1353.3 622.5C1356.2 624.4 1358.4 627.5 1360.9 628.2C1363.4 628.8 1366 627.5 1368.5 626.3C1371 625 1373.5 622.2 1376.1 620.6C1378.6 619 1381.1 619.3 1383.6 616.8C1386.2 614.3 1389 610.8 1391.2 605.4C1393.4 600.1 1395 587.8 1396.9 584.6C1398.8 581.5 1400.4 584.3 1402.6 586.5C1404.8 588.7 1407.6 595 1410.1 597.9C1412.7 600.7 1415.2 601.3 1417.7 603.5C1420.2 605.8 1422.8 609.5 1425.3 611.1C1427.8 612.7 1430.6 611.7 1432.9 613C1435.1 614.3 1436.6 617.1 1438.5 618.7C1440.4 620.3 1442.3 625.9 1444.2 622.5C1446.1 619 1447.7 603.5 1449.9 597.9C1452.1 592.2 1455.6 589.3 1457.5 588.4C1459.4 587.5 1460.2 590.6 1461.3 592.2C1462.3 593.8 1463.1 598.5 1463.9 597.9C1464.7 597.2 1465.5 591.9 1466.2 588.4C1466.8 584.9 1467.2 575.5 1467.7 577C1468.2 578.6 1469 591.2 1469.2 597.9C1469.4 604.5 1469.5 610.5 1468.8 616.8C1468.1 623.1 1466.3 629.4 1465 635.7C1463.8 642 1462.5 648.4 1461.3 654.7C1460 661 1458.7 667.9 1457.5 673.6C1456.2 679.3 1454.9 683.7 1453.7 688.7C1452.4 693.8 1451.2 699.5 1449.9 703.9C1448.6 708.3 1447.7 712.1 1446.1 715.2C1444.5 718.4 1442 719.7 1440.4 722.8C1438.9 726 1437.9 730.4 1436.6 734.2C1435.4 738 1434.1 742.4 1432.9 745.5C1431.6 748.7 1430.3 750.6 1429.1 753.1C1427.8 755.6 1426.5 758.2 1425.3 760.7C1424 763.2 1422.9 765.7 1421.5 768.3C1420.1 770.8 1418.5 775.5 1417 775.8C1415.4 776.1 1413.8 772.4 1412 770.1C1410.3 767.9 1408.2 765.1 1406.4 762.6C1404.5 760.1 1402.9 757.3 1400.7 755C1398.5 752.7 1395.3 748.9 1393.1 748.6C1390.9 748.2 1389.3 750.5 1387.4 753.1C1385.5 755.8 1383.3 760.7 1381.7 764.5C1380.2 768.3 1379.2 771.4 1378 775.8C1376.7 780.2 1375.7 785.9 1374.2 791C1372.6 796 1370.4 802.3 1368.5 806.1C1366.6 809.9 1365 811.8 1362.8 813.7C1360.6 815.6 1357.8 816.7 1355.2 817.5C1352.7 818.2 1350.2 817.9 1347.7 818.2C1345.1 818.6 1342.6 818.2 1340.1 819.4C1337.6 820.5 1334.7 822.8 1332.5 825.1C1330.3 827.3 1328.7 828.8 1326.8 832.6C1324.9 836.4 1323.1 842.1 1321.2 847.8C1319.3 853.4 1317.4 860.4 1315.5 866.7C1313.6 873 1311.7 880 1309.8 885.6C1307.9 891.3 1306.3 896.4 1304.1 900.8C1301.9 905.2 1299.1 909.5 1296.5 912.1C1294 914.8 1291.5 916.4 1289 916.7C1286.4 917 1283.9 915.7 1281.4 914C1278.9 912.3 1276 909.9 1273.8 906.5C1271.6 903 1270 897.9 1268.1 893.2C1266.3 888.5 1264.7 883.4 1262.5 878.1C1260.3 872.7 1257.4 866.1 1254.9 861C1252.4 856 1249.8 851.2 1247.3 847.8C1244.8 844.3 1242.3 841.6 1239.7 840.2C1237.2 838.8 1234.7 838.8 1232.2 839.4C1229.7 840.1 1227.1 842 1224.6 844C1222.1 846 1219.6 848.1 1217 851.6C1214.5 855 1212 860.1 1209.5 864.8C1206.9 869.5 1204.4 874.9 1201.9 880C1199.4 885 1196.5 891 1194.3 895.1C1192.1 899.2 1190.5 903.1 1188.6 904.6C1186.7 906 1184.8 904.1 1183 903.8C1181.1 903.5 1179.2 903.8 1177.3 902.7C1175.4 901.5 1173.5 899.2 1171.6 897C1169.7 894.8 1167.8 892.6 1165.9 889.4C1164 886.3 1162.4 881.5 1160.2 878.1C1158 874.6 1155.2 870.8 1152.7 868.6C1150.1 866.4 1147.6 866.1 1145.1 864.8C1142.6 863.5 1140 863.2 1137.5 861C1135 858.8 1132.5 854.4 1129.9 851.6C1127.4 848.7 1124.9 846.2 1122.4 844C1119.8 841.8 1117 838.6 1114.8 838.3C1112.6 838 1111 840.2 1109.1 842.1C1107.2 844 1105.1 846.2 1103.4 849.7C1101.7 853.1 1100.5 859.4 1098.9 862.9C1097.3 866.4 1095.7 869.2 1094 870.5C1092.2 871.8 1090.2 870.6 1088.3 870.5C1086.4 870.4 1084.5 870.4 1082.6 869.7C1080.7 869.1 1078.5 868.5 1076.9 866.7C1075.4 864.9 1074.4 862.9 1073.1 859.1C1071.9 855.3 1070.3 848.4 1069.4 844C1068.4 839.6 1068.2 833.9 1067.5 832.6C1066.7 831.4 1065.3 833.9 1064.8 836.4C1064.4 838.9 1064.8 845.9 1064.8 847.8" stroke="#bf504c" stroke-width="1.8"/>
</g>
<rect x="1565" y="567" width="425.6" height="381.8" fill="none" stroke="#d9d9d9" stroke-width="1.1"/>
<text class="t" x="1555.5" y="953.3" text-anchor="end">20</text>
<text class="t" x="1555.5" y="857.8" text-anchor="end">30</text>
<text class="t" x="1555.5" y="762.4" text-anchor="end">40</text>
<text class="t" x="1555.5" y="667" text-anchor="end">50</text>
<text class="t" x="1555.5" y="571.5" text-anchor="end">60</text>
<text class="t" x="1564.6" y="971.5" text-anchor="middle">0</text>
<text class="t" x="1670.8" y="971.5" text-anchor="middle">1</text>
<text class="t" x="1777.1" y="971.5" text-anchor="middle">2</text>
<text class="t" x="1883.3" y="971.5" text-anchor="middle">3</text>
<text class="t" x="1989.6" y="971.5" text-anchor="middle">4</text>
<text class="ax" x="1647" y="988">Suspension point displacement(m)</text>
<text class="ax ay" transform="translate(1537.8 759) rotate(-90)" text-anchor="middle">Polished rod load(KN)</text>
<line x1="1852.8" y1="898.7" x2="1885.2" y2="898.7" stroke="#4678b8" stroke-width="2.2"/>
<text class="lg" x="1889" y="903.3">Measured values</text>
<line x1="1852.8" y1="915.4" x2="1885.2" y2="915.4" stroke="#9bbd60" stroke-width="1.7"/>
<text class="lg" x="1889" y="920">ELM</text>
<line x1="1852.8" y1="932.2" x2="1885.2" y2="932.2" stroke="#bf504c" stroke-width="1.7"/>
<text class="lg" x="1889" y="936.8">CNN</text>
<text class="lb" transform="translate(1757.2 1044.5) scale(1.06 1.1)" text-anchor="middle">(h)</text>
<g fill="none" stroke-linejoin="round" stroke-linecap="round">
<path d="M1565.1 664.3C1565.6 663.2 1566.9 659.6 1568 657.5C1569 655.4 1570.3 653 1571.4 651.8C1572.4 650.6 1573.4 650.9 1574.2 650.1C1575 649.4 1575.3 648.2 1575.9 647.3C1576.5 646.3 1576.7 645.1 1577.6 644.4C1578.6 643.8 1580 643.6 1581.6 643.3C1583.2 643 1585.6 642.9 1587.3 642.7C1589 642.5 1590.3 642.1 1591.8 642.2C1593.3 642.3 1594.8 642.8 1596.4 643.3C1597.9 643.8 1599.4 644.3 1600.9 645C1602.4 645.7 1604.1 646.7 1605.5 647.3C1606.8 647.8 1607.7 648.3 1608.9 648.4C1610 648.5 1610.9 648.1 1612.3 647.8C1613.6 647.6 1615.5 646.7 1616.8 646.7C1618.1 646.7 1619.1 647.5 1620.2 647.8C1621.4 648.2 1622.1 648.5 1623.6 648.6C1625.2 648.7 1627.6 648.4 1629.3 648.4C1631 648.5 1632.3 648.8 1633.9 649C1635.4 649.2 1636.9 649.5 1638.4 649.8C1639.9 650 1641.2 650.4 1643 650.5C1644.7 650.5 1646.7 650.1 1648.6 650.1C1650.5 650.2 1652.4 650.6 1654.3 650.7C1656.2 650.8 1658.3 650.8 1660 650.7C1661.7 650.6 1663 650.4 1664.5 650.1C1666.1 649.8 1667.8 649.1 1669.1 649C1670.4 648.9 1671.4 649.2 1672.5 649.5C1673.6 649.9 1674.6 650.7 1675.9 651.2C1677.2 651.8 1678.9 652.9 1680.5 653C1682 653 1683.5 652.2 1685 651.8C1686.5 651.4 1688 650.8 1689.5 650.5C1691.1 650.1 1692.6 649.1 1694.1 649.5C1695.6 650 1697.1 651.9 1698.6 653C1700.2 654 1701.7 655.2 1703.2 655.8C1704.7 656.4 1706.2 656.3 1707.7 656.4C1709.2 656.5 1710.8 656.2 1712.3 656.4C1713.8 656.6 1715.5 657.2 1716.8 657.5C1718.1 657.8 1719.1 658.2 1720.2 658.1C1721.4 658 1722.3 657.4 1723.6 656.9C1725 656.5 1726.7 655.8 1728.2 655.2C1729.7 654.7 1731.2 654.1 1732.7 653.5C1734.2 653 1735.8 652.3 1737.3 651.8C1738.8 651.3 1740.3 650.8 1741.8 650.7C1743.3 650.6 1744.8 651 1746.4 651.2C1747.9 651.5 1749.4 652.1 1750.9 652.4C1752.4 652.7 1753.9 653 1755.5 653C1757 653 1758.5 652.4 1760 652.4C1761.5 652.4 1763 652.8 1764.5 653C1766.1 653.1 1768.2 653.3 1769.1 653.4C1770 653.5 1768.9 653.5 1770 653.5C1771.1 653.5 1773.8 653.3 1775.7 653.5C1777.6 653.7 1779.7 653.8 1781.4 654.7C1783.1 655.5 1784.4 657.3 1785.9 658.6C1787.4 660 1789.1 662.8 1790.5 662.6C1791.8 662.4 1792.6 658.9 1793.9 657.5C1795.1 656.1 1796.5 654.3 1797.8 654.1C1799.2 653.9 1800.6 655.5 1801.8 656.4C1803 657.2 1804.1 659.2 1805.2 659.2C1806.4 659.2 1807.5 657.1 1808.6 656.4C1809.8 655.6 1810.9 654.7 1812 654.7C1813.2 654.7 1814.3 655.9 1815.5 656.4C1816.6 656.8 1817.7 658.3 1818.9 657.5C1820 656.7 1821.1 653.5 1822.3 651.8C1823.4 650.1 1824.5 647.3 1825.7 647.3C1826.8 647.3 1828 649.9 1829.1 651.8C1830.2 653.7 1831 657.1 1832.5 658.6C1834 660.2 1836.5 660.2 1838.2 660.9C1839.9 661.6 1841.2 662.1 1842.7 662.6C1844.2 663.1 1845.8 663.6 1847.3 663.8C1848.8 663.9 1850.3 664.1 1851.8 663.8C1853.3 663.4 1854.8 662.3 1856.4 661.5C1857.9 660.6 1859.4 659.2 1860.9 658.6C1862.4 658.1 1863.9 658.6 1865.5 658.1C1867 657.5 1868.7 655.1 1870 655.2C1871.3 655.3 1872.5 657.5 1873.4 658.6C1874.4 659.8 1874.9 662.4 1875.7 662C1876.4 661.7 1877 658.7 1878 656.4C1878.9 654 1880.4 648.8 1881.4 647.8C1882.3 646.9 1882.7 649.3 1883.6 650.7C1884.6 652.1 1885.9 655.7 1887 656.4C1888.2 657 1889.3 654.7 1890.5 654.7C1891.6 654.7 1892.7 655.3 1893.9 656.4C1895 657.4 1896.3 659 1897.3 660.9C1898.2 662.8 1898.9 665.9 1899.5 667.7C1900.2 669.5 1900.6 672.1 1901.2 671.7C1901.9 671.3 1902.9 667.1 1903.5 665.5C1904.2 663.8 1904.6 661.9 1905.2 662C1905.9 662.2 1906.6 666.6 1907.5 666.6C1908.4 666.6 1909.8 663.6 1910.9 662C1912 660.5 1913.2 658.4 1914.3 657.5C1915.5 656.6 1916.6 656.9 1917.7 656.4C1918.9 655.8 1920.2 654.7 1921.1 654.1C1922.1 653.5 1922.7 652.2 1923.4 653C1924.2 653.7 1924.9 658.1 1925.7 658.6C1926.4 659.2 1927.2 657.9 1928 656.4C1928.7 654.8 1929.8 650.7 1930.2 649.5" stroke="#9bbd60" stroke-width="1.5"/>
<path d="M1915.5 724.5C1915.1 724.4 1914.1 724.4 1913.2 723.4C1912.2 722.5 1910.9 720.9 1909.8 718.9C1908.6 716.8 1907.5 713.8 1906.4 710.9C1905.2 708.1 1904.1 704.1 1903 701.8C1901.8 699.5 1900.9 697.7 1899.5 697.3C1898.2 696.9 1896.3 697.5 1895 699.5C1893.7 701.6 1892.7 706.4 1891.6 709.8C1890.5 713.2 1889.3 717.9 1888.2 720C1887 722.1 1885.7 721.8 1884.8 722.3C1883.8 722.7 1883.4 724 1882.5 722.8C1881.6 721.7 1880.4 717.3 1879.1 715.5C1877.8 713.7 1875.9 713.3 1874.5 712C1873.2 710.8 1872.3 708.4 1871.1 708.1C1870 707.7 1868.9 709.7 1867.7 709.8C1866.6 709.9 1865.5 710.3 1864.3 708.6C1863.2 706.9 1862.2 699.9 1860.9 699.5C1859.6 699.2 1857.9 704.3 1856.4 706.4C1854.8 708.4 1853.1 710.5 1851.8 712C1850.5 713.6 1849.7 716 1848.4 715.5C1847.1 714.9 1845.4 710 1843.9 708.6C1842.3 707.3 1841 707.6 1839.3 707.5C1837.6 707.4 1835.3 707.8 1833.6 708.1C1831.9 708.4 1830.4 708.4 1829.1 709.2C1827.8 710.1 1826.8 712.9 1825.7 713.2C1824.5 713.5 1823.6 711.8 1822.3 710.9C1820.9 710.1 1819.2 708.3 1817.7 708.1C1816.2 707.9 1814.7 709.4 1813.2 709.8C1811.7 710.2 1810.5 710.6 1808.6 710.3C1806.7 710.1 1803.9 708.8 1801.8 708.1C1799.7 707.3 1798 705.3 1796.1 705.8C1794.2 706.3 1792.2 709.2 1790.5 710.9C1788.8 712.6 1787.4 715.5 1785.9 716C1784.4 716.6 1782.9 715.4 1781.4 714.3C1779.8 713.3 1778.1 711 1776.8 709.8C1775.5 708.5 1774.5 707.3 1773.4 706.9C1772.3 706.6 1770.9 707 1770 707.5C1769.1 708 1769.1 709.2 1768 709.8C1766.9 710.3 1765.1 710.9 1763.4 710.9C1761.7 710.9 1759.4 710.2 1757.7 709.8C1756 709.3 1754.7 708.5 1753.2 708.1C1751.7 707.6 1750.3 707.2 1748.6 706.9C1746.9 706.6 1744.7 706.5 1743 706.4C1741.2 706.3 1739.9 706.3 1738.4 706.4C1736.9 706.5 1735.4 706.6 1733.9 706.9C1732.3 707.3 1730.8 708.1 1729.3 708.4C1727.8 708.7 1726.3 708.6 1724.8 708.6C1723.3 708.6 1721.7 708.5 1720.2 708.4C1718.7 708.3 1717.2 707.9 1715.7 708.1C1714.2 708.2 1712.7 708.5 1711.1 709.2C1709.6 709.9 1708.1 711.2 1706.6 712C1705.1 712.9 1703.6 713.8 1702 714.3C1700.5 714.8 1699 714.9 1697.5 714.9C1696 714.9 1694.5 714.7 1693 714.3C1691.4 713.9 1689.9 713.4 1688.4 712.6C1686.9 711.9 1685.4 710.4 1683.9 709.8C1682.3 709.1 1680.8 709 1679.3 708.6C1677.8 708.3 1676.3 708.1 1674.8 707.5C1673.3 706.9 1671.7 706 1670.2 705.2C1668.7 704.5 1667.2 703.7 1665.7 703C1664.2 702.2 1662.7 701.3 1661.1 700.7C1659.6 700 1658.3 699.4 1656.6 699C1654.9 698.6 1652.8 698.3 1650.9 698.4C1649 698.5 1646.9 699 1645.2 699.5C1643.5 700.1 1642.2 701.2 1640.7 701.8C1639.2 702.5 1637.7 702.9 1636.1 703.5C1634.6 704.2 1633.1 704.9 1631.6 705.8C1630.1 706.6 1628.6 707.8 1627 708.6C1625.5 709.5 1623.8 710.7 1622.5 710.9C1621.2 711.1 1620.2 710.3 1619.1 709.8C1618 709.2 1616.8 708.7 1615.7 707.5C1614.5 706.3 1613.4 703.7 1612.3 702.4C1611.1 701.1 1610 700.2 1608.9 699.5C1607.7 698.9 1606.6 698.4 1605.5 698.4C1604.3 698.4 1603.1 699.6 1602 699.5C1601 699.5 1600.2 699 1599.2 697.8C1598.3 696.7 1597.4 693.9 1596.4 692.7C1595.3 691.6 1594.1 691 1593 691C1591.8 691 1590.7 691.3 1589.5 692.7C1588.4 694.1 1587.3 698.4 1586.1 699.5C1585 700.7 1583.9 699.4 1582.7 699.5C1581.6 699.7 1580.4 699.7 1579.3 700.7C1578.3 701.6 1577.3 703.3 1576.5 705.2C1575.6 707.1 1575.1 710.7 1574.2 712C1573.4 713.4 1572 715.3 1571.4 713.2C1570.7 711.1 1570.6 702.8 1570.2 699.5C1569.8 696.3 1569.3 694.2 1568.9 693.9C1568.4 693.5 1567.8 695.6 1567.4 697.3C1567 699 1566.5 704.1 1566.2 704.1C1566 704.1 1565.9 700.3 1565.7 697.3C1565.5 694.2 1565.2 687.8 1565.1 685.9" stroke="#9bbd60" stroke-width="1.5"/>
<path d="M1916.6 705.8C1917.2 705.5 1919 704.5 1920 704.1C1921 703.7 1922.1 704.3 1922.8 703.5C1923.6 702.8 1924 698.7 1924.5 699.5C1925.1 700.4 1925.7 708.6 1926.2 708.6C1926.8 708.6 1927.3 702.6 1928 699.5C1928.6 696.5 1929.7 694.6 1930.2 690.5C1930.8 686.3 1931.2 677.2 1931.4 674.5" stroke="#9bbd60" stroke-width="1.5"/>
<path d="M1565.1 690.5C1565.1 687.2 1564.8 676.4 1565.1 671.1C1565.4 665.8 1566.1 661.5 1566.8 658.6C1567.6 655.8 1568.7 656 1569.7 654.1C1570.6 652.2 1571.6 649.7 1572.5 647.3C1573.4 644.8 1574.1 642.3 1574.8 639.3C1575.4 636.3 1575.6 631.3 1576.5 629.1C1577.3 626.9 1578.7 626.4 1579.9 626.2C1581.1 626.1 1582.6 626.3 1583.9 628C1585.1 629.6 1586.2 633.4 1587.3 635.9C1588.3 638.4 1589 640.3 1590.1 642.7C1591.2 645.2 1592.9 648 1594.1 650.7C1595.3 653.3 1596.5 656.3 1597.5 658.6C1598.5 661 1599 663.8 1600.3 664.9C1601.7 666 1604 666.1 1605.5 665.5C1606.9 664.8 1607.7 663 1608.9 660.9C1610 658.8 1611.1 655.4 1612.3 653C1613.4 650.5 1614.5 648.2 1615.7 646.1C1616.8 644.1 1618 642.3 1619.1 640.5C1620.1 638.6 1620.9 636 1621.9 634.8C1623 633.5 1624 633.1 1625.3 633.1C1626.7 633.1 1628.3 633.7 1629.9 634.8C1631.5 635.8 1633.6 637.6 1635 639.3C1636.4 641 1637.4 643.1 1638.4 645C1639.5 646.9 1640.3 649.2 1641.2 650.7C1642.2 652.2 1642.7 652.6 1644.1 654.1C1645.5 655.6 1647.9 658 1649.8 659.8C1651.7 661.6 1653.8 663.8 1655.5 664.9C1657.2 666 1658.5 666.7 1660 666.6C1661.5 666.5 1663 665.8 1664.5 664.3C1666.1 662.8 1667.8 659.2 1669.1 657.5C1670.4 655.8 1671.4 655.4 1672.5 654.1C1673.6 652.8 1674.8 650.8 1675.9 649.5C1677 648.3 1678.2 647.8 1679.3 646.7C1680.5 645.6 1681.6 644.1 1682.7 642.7C1683.9 641.4 1685 639.6 1686.1 638.8C1687.3 637.9 1688.2 637.5 1689.5 637.6C1690.9 637.7 1692.4 638.8 1694.1 639.3C1695.8 639.9 1698.3 640.3 1699.8 641C1701.3 641.8 1702 642.6 1703.2 643.9C1704.3 645.1 1705.5 646.9 1706.6 648.4C1707.7 649.9 1708.9 651.7 1710 653C1711.1 654.2 1712.1 654.7 1713.4 655.8C1714.7 656.9 1716.4 658.4 1718 659.8C1719.5 661.1 1721 662.8 1722.5 663.8C1724 664.7 1725.5 665.4 1727 665.5C1728.6 665.5 1729.9 665 1731.6 664.3C1733.3 663.7 1735.6 662.4 1737.3 661.5C1739 660.5 1740.3 659.7 1741.8 658.6C1743.3 657.6 1745 656.6 1746.4 655.2C1747.7 653.9 1748.4 652.6 1749.8 650.7C1751.1 648.8 1752.9 645.4 1754.3 643.9C1755.7 642.3 1757 641.8 1758.3 641.6C1759.6 641.4 1761 642.2 1762.3 642.7C1763.5 643.3 1764.5 644.6 1765.7 645C1766.8 645.4 1768.4 645.2 1769.1 645.2C1769.8 645.2 1769.1 644.8 1770 645C1770.9 645.2 1772.8 645.2 1774.5 646.1C1776.2 647.1 1778.5 649.2 1780.2 650.7C1781.9 652.2 1783.1 653.3 1784.8 655.2C1786.5 657.1 1788.4 659.8 1790.5 662C1792.5 664.3 1795.2 668.5 1797.3 668.9C1799.4 669.2 1801.1 665.5 1803 664.3C1804.8 663.2 1806.7 663 1808.6 662C1810.5 661.1 1812.4 660.2 1814.3 658.6C1816.2 657.1 1818.3 654.8 1820 653C1821.7 651.1 1823 648.4 1824.5 647.3C1826.1 646.1 1827.4 646 1829.1 646.1C1830.8 646.2 1832.9 646.9 1834.8 647.8C1836.7 648.8 1838.8 650.2 1840.5 651.8C1842.2 653.4 1843.3 655.8 1845 657.5C1846.7 659.2 1849 660.5 1850.7 662C1852.4 663.6 1853.7 665.5 1855.2 666.6C1856.7 667.7 1858.1 668.9 1859.8 668.9C1861.5 668.9 1863.8 667.5 1865.5 666.6C1867.2 665.6 1868.5 664.5 1870 663.2C1871.5 661.9 1873 660.5 1874.5 658.6C1876.1 656.7 1877.6 653.2 1879.1 651.8C1880.6 650.4 1881.9 650 1883.6 650.1C1885.3 650.2 1887.6 651.3 1889.3 652.4C1891 653.4 1892.3 654.8 1893.9 656.4C1895.4 658 1897.1 660.7 1898.4 662C1899.7 663.4 1900.7 663.1 1901.8 664.3C1903 665.5 1904.3 669.1 1905.2 669.4C1906.2 669.8 1906.4 668.4 1907.5 666.6C1908.6 664.8 1910.5 661.1 1912 658.6C1913.6 656.2 1915.2 653.2 1916.6 651.8C1918 650.4 1919.4 649.9 1920.6 650.1C1921.7 650.3 1922.6 651.2 1923.4 653C1924.3 654.8 1924.9 660.7 1925.7 660.9C1926.4 661.1 1927.2 656.9 1928 654.1C1928.7 651.2 1929.6 645 1930.2 643.9C1930.9 642.7 1931.6 642.2 1931.9 647.3C1932.2 652.4 1932 669.2 1931.9 674.5C1931.8 679.8 1931.6 677.2 1931.4 679.1C1931.1 681 1930.8 683.8 1930.2 685.9C1929.7 688 1928.7 690.1 1928 691.6C1927.2 693.1 1926.4 693.1 1925.7 695C1924.9 696.9 1924.4 699.5 1923.4 703C1922.5 706.4 1921.3 711.7 1920 715.5C1918.7 719.2 1916.8 725.1 1915.5 725.7C1914.1 726.2 1913.2 721.1 1912 718.9C1910.9 716.6 1909.8 714.5 1908.6 712C1907.5 709.6 1906.4 706.4 1905.2 704.1C1904.1 701.8 1903 699.5 1901.8 698.4C1900.7 697.3 1899.5 696.7 1898.4 697.3C1897.3 697.8 1896.1 699.9 1895 701.8C1893.9 703.7 1892.5 706 1891.6 708.6C1890.6 711.3 1890.1 715.6 1889.3 717.7C1888.6 719.8 1888.2 720.4 1887 721.1C1885.9 721.9 1884 722.7 1882.5 722.3C1881 721.9 1879.5 720.6 1878 718.9C1876.4 717.2 1874.7 714.3 1873.4 712C1872.1 709.8 1871.1 707.3 1870 705.2C1868.9 703.1 1867.9 700.9 1866.6 699.5C1865.3 698.2 1863.6 697.5 1862 697.3C1860.5 697.1 1859 697.7 1857.5 698.4C1856 699.2 1854.5 700.3 1853 701.8C1851.4 703.3 1849.7 705.2 1848.4 707.5C1847.1 709.8 1846.3 713.2 1845 715.5C1843.7 717.7 1842 719.8 1840.5 721.1C1838.9 722.5 1837.4 723.2 1835.9 723.4C1834.4 723.6 1832.7 722.8 1831.4 722.3C1830 721.7 1829.1 721.3 1828 720C1826.8 718.7 1825.9 716.4 1824.5 714.3C1823.2 712.2 1821.5 709.2 1820 707.5C1818.5 705.8 1817.2 705.4 1815.5 704.1C1813.8 702.8 1811.7 700.9 1809.8 699.5C1807.9 698.2 1806 695.9 1804.1 696.1C1802.2 696.3 1800.3 699 1798.4 700.7C1796.5 702.4 1794.6 704.1 1792.7 706.4C1790.8 708.6 1788.9 711.7 1787 714.3C1785.2 717 1783.1 720.9 1781.4 722.3C1779.7 723.7 1778.7 722.9 1776.8 722.8C1774.9 722.7 1770.7 721.8 1770 721.7C1769.3 721.6 1772.8 722.3 1772.5 722.3C1772.2 722.3 1769.5 722.1 1768 721.7C1766.4 721.3 1764.9 721 1763.4 720C1761.9 719 1760.4 717.2 1758.9 715.5C1757.3 713.8 1755.8 711.8 1754.3 709.8C1752.8 707.8 1751.1 705.1 1749.8 703.5C1748.4 701.9 1747.7 701 1746.4 700.1C1745 699.3 1743.5 699 1741.8 698.4C1740.1 697.8 1737.8 697.2 1736.1 696.7C1734.4 696.2 1733.1 695.3 1731.6 695.6C1730.1 695.9 1728.4 697.2 1727 698.4C1725.7 699.6 1725 701.5 1723.6 703C1722.3 704.4 1720.6 706 1719.1 706.9C1717.6 707.9 1716.1 707.8 1714.5 708.6C1713 709.5 1711.3 710.7 1710 712C1708.7 713.4 1707.7 715.3 1706.6 716.6C1705.5 717.9 1704.3 719.6 1703.2 720C1702 720.4 1700.9 719.4 1699.8 718.9C1698.6 718.3 1697.7 717 1696.4 716.6C1695 716.2 1693.3 716.4 1691.8 716.6C1690.3 716.8 1688.6 718.1 1687.3 717.7C1685.9 717.3 1685 715.8 1683.9 714.3C1682.7 712.8 1681.8 710.2 1680.5 708.6C1679.1 707 1677.4 705.9 1675.9 704.7C1674.4 703.4 1672.9 702.3 1671.4 701.2C1669.8 700.2 1668.3 699.3 1666.8 698.4C1665.3 697.6 1663.8 696.6 1662.3 696.1C1660.8 695.7 1659.4 695.5 1657.7 695.6C1656 695.7 1653.8 696.2 1652 696.7C1650.3 697.2 1649 697.7 1647.5 698.4C1646 699.1 1644.5 699.9 1643 700.7C1641.4 701.4 1639.9 702 1638.4 703C1636.9 703.9 1635.2 704.8 1633.9 706.4C1632.5 707.9 1631.6 710.5 1630.5 712C1629.3 713.6 1628.4 715.5 1627 715.5C1625.7 715.5 1623.8 713 1622.5 712C1621.2 711.1 1620.2 710.2 1619.1 709.8C1618 709.4 1616.8 710.2 1615.7 709.8C1614.5 709.4 1613.4 708.6 1612.3 707.5C1611.1 706.4 1610 704.3 1608.9 703C1607.7 701.6 1606.6 700.7 1605.5 699.5C1604.3 698.4 1603.2 697.5 1602 696.1C1600.9 694.8 1599.7 692.9 1598.6 691.6C1597.6 690.3 1596.7 688.6 1595.8 688.2C1594.8 687.8 1594 688.4 1593 689.3C1591.9 690.3 1590.7 692.3 1589.5 693.9C1588.4 695.4 1587.3 697.6 1586.1 698.4C1585 699.3 1583.9 698.6 1582.7 699C1581.6 699.4 1580.5 699.8 1579.3 700.7C1578.2 701.5 1577 703.3 1575.9 704.1C1574.8 704.8 1573.7 705.8 1572.5 705.2C1571.3 704.7 1569.6 702.2 1568.5 700.7C1567.5 699.2 1566.8 697.8 1566.2 696.1C1565.7 694.4 1565.3 691.4 1565.1 690.5" stroke="#4678b8" stroke-width="2.8"/>
<path d="M1565.1 695C1565.1 691 1564.9 676.6 1565.1 671.1C1565.3 665.6 1565.6 664.5 1566.2 662C1566.9 659.6 1568.2 658.3 1569.1 656.4C1569.9 654.5 1570.6 652.6 1571.4 650.7C1572.1 648.8 1572.9 646.9 1573.6 645C1574.4 643.1 1575 640.8 1575.9 639.3C1576.9 637.8 1578.2 636.4 1579.3 635.9C1580.5 635.4 1581.6 635.8 1582.7 636.5C1583.9 637.1 1585 639.2 1586.1 639.9C1587.3 640.5 1588.2 640.4 1589.5 640.5C1590.9 640.5 1592.8 640.1 1594.1 640.5C1595.4 640.8 1596.4 642 1597.5 642.7C1598.6 643.5 1599.8 644.1 1600.9 645C1602 645.9 1603.2 646.7 1604.3 647.8C1605.5 649 1606.6 651 1607.7 651.8C1608.9 652.7 1610 653 1611.1 653C1612.3 652.9 1613.4 651.7 1614.5 651.2C1615.7 650.8 1616.8 650.3 1618 650.5C1619.1 650.6 1620.2 652 1621.4 652.4C1622.5 652.8 1623.4 653 1624.8 653C1626.1 652.9 1627.8 652.1 1629.3 651.8C1630.8 651.5 1632.3 651.2 1633.9 651.2C1635.4 651.2 1637.1 651.5 1638.4 651.8C1639.7 652.1 1640.5 653 1641.8 653C1643.1 652.9 1644.8 651.7 1646.4 651.2C1647.9 650.8 1649.4 650.5 1650.9 650.5C1652.4 650.4 1653.9 650.6 1655.5 650.7C1657 650.8 1658.5 650.9 1660 651C1661.5 651.1 1663 651 1664.5 651.2C1666.1 651.5 1667.8 652.1 1669.1 652.4C1670.4 652.7 1671.2 653.2 1672.5 653.2C1673.8 653.1 1675.5 652.5 1677 652C1678.6 651.6 1680.1 651 1681.6 650.7C1683.1 650.4 1684.6 650.4 1686.1 650.1C1687.7 649.8 1689.2 649.3 1690.7 649C1692.2 648.7 1693.9 648.1 1695.2 648.4C1696.6 648.7 1697.3 649.8 1698.6 650.7C1700 651.5 1701.7 652.9 1703.2 653.5C1704.7 654.2 1706 654.4 1707.7 654.7C1709.4 654.9 1711.5 655.1 1713.4 655.2C1715.3 655.3 1717.4 655.4 1719.1 655.2C1720.8 655 1722.1 654.6 1723.6 654.1C1725.2 653.6 1726.7 652.9 1728.2 652.4C1729.7 651.9 1731.2 651.5 1732.7 651.2C1734.2 651 1735.8 650.9 1737.3 650.7C1738.8 650.5 1740.3 650 1741.8 650.1C1743.3 650.2 1744.8 650.7 1746.4 651.2C1747.9 651.8 1749.4 653.1 1750.9 653.2C1752.4 653.3 1753.9 652.2 1755.5 651.8C1757 651.4 1758.5 650.9 1760 650.9C1761.5 650.9 1763 651.4 1764.5 651.6C1766.1 651.8 1768.2 652.1 1769.1 652.3C1770 652.4 1768.9 652.3 1770 652.4C1771.1 652.5 1773.8 652.7 1775.7 653C1777.6 653.2 1779.7 653.1 1781.4 654.1C1783.1 655 1784.4 657.3 1785.9 658.6C1787.4 660 1788.8 662 1790.5 662C1792.2 662 1794.4 659.7 1796.1 658.6C1797.8 657.6 1799.2 656.5 1800.7 655.8C1802.2 655.1 1803.7 654.6 1805.2 654.7C1806.7 654.8 1808.3 655.6 1809.8 656.4C1811.3 657.1 1813 658.4 1814.3 659.2C1815.6 660.1 1816.8 661.8 1817.7 661.5C1818.7 661.2 1819.1 659.5 1820 657.5C1820.9 655.5 1822.4 651.5 1823.4 649.5C1824.5 647.6 1825.3 645.4 1826.2 645.6C1827.2 645.8 1828.1 648.7 1829.1 650.7C1830 652.7 1830.8 656.2 1831.9 657.5C1833.1 658.8 1834.5 658.4 1835.9 658.6C1837.3 658.9 1838.9 659 1840.5 659.2C1842 659.4 1843.5 659.5 1845 659.8C1846.5 660 1848 660.5 1849.5 660.7C1851.1 660.9 1852.6 661 1854.1 660.9C1855.6 660.9 1857.1 660.4 1858.6 660.3C1860.2 660.2 1861.7 660.4 1863.2 660.3C1864.7 660.2 1866.2 660 1867.7 659.8C1869.2 659.6 1870.9 659.4 1872.3 659.2C1873.6 659 1874.5 659.5 1875.7 658.6C1876.8 657.8 1878 655 1879.1 654.1C1880.2 653.1 1881.2 653 1882.5 653C1883.8 653 1885.7 654 1887 654.1C1888.4 654.2 1889.1 653.4 1890.5 653.5C1891.8 653.6 1893.7 653.4 1895 654.7C1896.3 655.9 1897.5 658.9 1898.4 660.9C1899.4 662.9 1899.9 665.8 1900.7 666.6C1901.4 667.3 1902 665.6 1903 665.5C1903.9 665.3 1905 666.4 1906.4 665.5C1907.7 664.5 1909.4 661.7 1910.9 659.8C1912.4 657.9 1913.9 655.3 1915.5 654.1C1917 652.9 1918.7 652.2 1920 652.4C1921.3 652.6 1922.5 653.6 1923.4 655.2C1924.4 656.8 1924.9 661.7 1925.7 662C1926.4 662.4 1927.2 661 1928 657.5C1928.7 654 1929.7 641.6 1930.2 641C1930.8 640.5 1931.1 648.5 1931.4 654.1C1931.6 659.7 1931.9 671.1 1931.9 674.5C1931.9 678 1931.6 672.8 1931.4 674.5C1931.1 676.2 1930.8 681.7 1930.2 684.8C1929.7 687.8 1928.9 690.3 1928 692.7C1927 695.2 1925.5 696.9 1924.5 699.5C1923.6 702.2 1923.2 705.6 1922.3 708.6C1921.3 711.7 1920 715.3 1918.9 717.7C1917.7 720.2 1916.6 723.2 1915.5 723.4C1914.3 723.6 1913.2 720.8 1912 718.9C1910.9 717 1910 714.7 1908.6 712C1907.3 709.4 1905.4 705.4 1904.1 703C1902.8 700.5 1902 698 1900.7 697.3C1899.4 696.5 1897.5 697.3 1896.1 698.4C1894.8 699.5 1893.9 701.2 1892.7 704.1C1891.6 706.9 1890.5 712.4 1889.3 715.5C1888.2 718.5 1887.1 720.8 1885.9 722.3C1884.7 723.8 1883.1 724.5 1881.9 724.5C1880.8 724.5 1880.3 723.8 1879.1 722.3C1877.9 720.8 1876.1 717.9 1874.5 715.5C1873 713 1871.3 709.9 1870 707.5C1868.7 705.1 1867.7 702.8 1866.6 701.2C1865.5 699.7 1864.5 698.8 1863.2 698.4C1861.9 698 1860.2 698.4 1858.6 699C1857.1 699.5 1855.6 700.6 1854.1 701.8C1852.6 703 1850.9 704.5 1849.5 706.4C1848.2 708.3 1847.5 710.9 1846.1 713.2C1844.8 715.5 1843.1 718.3 1841.6 720C1840.1 721.7 1838.8 722.7 1837 723.4C1835.3 724.1 1833.1 724.5 1831.4 724C1829.7 723.4 1828.5 722.2 1826.8 720C1825.1 717.8 1823 713.8 1821.1 710.9C1819.2 708.1 1817.3 705 1815.5 703C1813.6 700.9 1811.7 699.5 1809.8 698.4C1807.9 697.4 1806.4 695.9 1804.1 696.7C1801.8 697.5 1798.4 700.6 1796.1 703C1793.9 705.3 1792.2 708.6 1790.5 710.9C1788.8 713.2 1787.4 715 1785.9 716.6C1784.4 718.2 1783.1 720.2 1781.4 720.6C1779.7 720.9 1777.6 719.3 1775.7 718.9C1773.8 718.4 1770.7 717.9 1770 717.7C1769.3 717.5 1771.9 717.7 1771.4 717.7C1770.8 717.8 1768.3 718 1766.8 718C1765.3 718 1763.8 718.3 1762.3 717.7C1760.8 717.1 1759.2 715.7 1757.7 714.3C1756.2 712.9 1754.7 710.6 1753.2 709.2C1751.7 707.8 1750.2 706.7 1748.6 705.8C1747.1 704.8 1745.6 704 1744.1 703.5C1742.6 703 1741.1 702.8 1739.5 702.7C1738 702.6 1736.5 702.8 1735 703C1733.5 703.1 1732 703.6 1730.5 703.9C1728.9 704.1 1727.4 704.4 1725.9 704.7C1724.4 704.9 1722.9 705.2 1721.4 705.5C1719.8 705.7 1718.3 705.8 1716.8 706.1C1715.3 706.5 1713.8 706.6 1712.3 707.5C1710.8 708.4 1709.2 710.2 1707.7 711.5C1706.2 712.8 1704.7 714.5 1703.2 715.5C1701.7 716.4 1700 717 1698.6 717.2C1697.3 717.3 1696.6 717 1695.2 716.6C1693.9 716.2 1692.2 715.6 1690.7 714.9C1689.2 714.1 1687.7 712.8 1686.1 712C1684.6 711.3 1683.1 710.8 1681.6 710.3C1680.1 709.9 1678.6 709.7 1677 709.2C1675.5 708.7 1674 708.2 1672.5 707.5C1671 706.8 1669.5 706.2 1668 705.2C1666.4 704.3 1664.9 702.8 1663.4 701.8C1661.9 700.9 1660.2 700 1658.9 699.5C1657.5 699.1 1656.8 699 1655.5 699C1654.1 699 1652.4 699.3 1650.9 699.5C1649.4 699.8 1647.9 700.2 1646.4 700.7C1644.8 701.2 1643.3 702 1641.8 702.4C1640.3 702.8 1638.8 702.6 1637.3 703C1635.8 703.3 1634.2 704 1632.7 704.7C1631.2 705.3 1629.7 706.2 1628.2 706.9C1626.7 707.7 1625 708.6 1623.6 709.2C1622.3 709.8 1621.4 710.3 1620.2 710.3C1619.1 710.3 1618 709.9 1616.8 709.2C1615.7 708.5 1614.7 707.4 1613.4 706.4C1612.1 705.3 1610.2 703.7 1608.9 703C1607.5 702.2 1606.8 701.8 1605.5 701.8C1604.1 701.8 1602 703.3 1600.9 703C1599.8 702.6 1599.5 701.1 1598.6 699.5C1597.8 698 1596.7 695 1595.8 693.9C1594.8 692.7 1593.9 692.5 1593 692.5C1592 692.5 1591 692.9 1590.1 693.9C1589.3 694.8 1588.7 697.1 1587.8 698.4C1587 699.7 1586.2 701.2 1585 701.6C1583.8 702 1582 700.7 1580.5 700.7C1578.9 700.6 1577.2 701.4 1575.9 701.2C1574.6 701.1 1573.8 700 1572.5 699.5C1571.2 699.1 1569.2 699.2 1568 698.4C1566.7 697.7 1565.6 695.6 1565.1 695" stroke="#bf504c" stroke-width="1.8"/>
</g>
</svg>
</body></html>
